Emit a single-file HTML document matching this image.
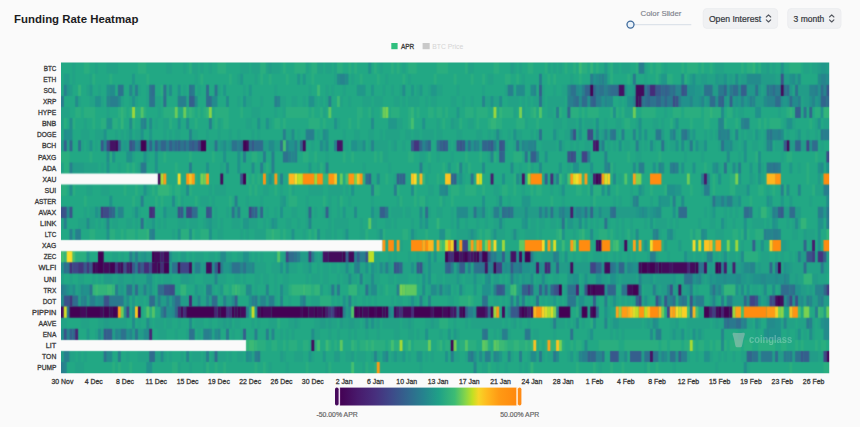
<!DOCTYPE html><html><head><meta charset="utf-8"><title>Funding Rate Heatmap</title><style>html,body{margin:0;padding:0;background:#fafafa;}body{width:860px;height:427px;overflow:hidden;font-family:"Liberation Sans",sans-serif;}svg{display:block}text{font-family:"Liberation Sans",sans-serif;}</style></head><body><svg width="860" height="427" viewBox="0 0 860 427"><defs><linearGradient id="cb" x1="0" x2="1" y1="0" y2="0"><stop offset="0" stop-color="#440154"/><stop offset="0.1" stop-color="#481a6c"/><stop offset="0.2" stop-color="#472f7d"/><stop offset="0.29" stop-color="#3e4989"/><stop offset="0.39" stop-color="#31688e"/><stop offset="0.47" stop-color="#26828e"/><stop offset="0.56" stop-color="#1fa187"/><stop offset="0.65" stop-color="#3dbc74"/><stop offset="0.71" stop-color="#86d549"/><stop offset="0.75" stop-color="#c2df23"/><stop offset="0.785" stop-color="#f7d527"/><stop offset="0.835" stop-color="#ffb81e"/><stop offset="0.9" stop-color="#ff9a14"/><stop offset="1" stop-color="#ff880e"/></linearGradient><filter id="bl" x="-1%" y="-2%" width="102%" height="104%" color-interpolation-filters="sRGB"><feConvolveMatrix order="3" kernelMatrix="0.0256 0.1088 0.0256 0.1088 0.4624 0.1088 0.0256 0.1088 0.0256" divisor="1" edgeMode="duplicate" preserveAlpha="true"/></filter><clipPath id="hc"><rect x="61.0" y="62.6" width="768.2" height="310.6"/></clipPath></defs><rect width="860" height="427" fill="#fafafa"/><text x="14.1" y="22.8" font-size="10.9" fill="#1c1c1e" font-weight="700" textLength="124.3" lengthAdjust="spacingAndGlyphs">Funding Rate Heatmap</text><text x="640.6" y="15.9" font-size="7.7" fill="#7d828b" stroke="#7d828b" stroke-width="0.15" textLength="40.8" lengthAdjust="spacingAndGlyphs">Color Slider</text><rect x="633" y="24" width="58.4" height="1.3" rx="0.6" fill="#dde3ea"/><circle cx="630.5" cy="24.6" r="3.5" fill="#eaf2f9" stroke="#3f6a9c" stroke-width="1.3"/><rect x="703.3" y="8.6" width="74.3" height="19.8" rx="3.5" fill="#f0f1f3" stroke="#eaebee" stroke-width="0.8"/><text x="708.9" y="21.9" font-size="8.3" fill="#34373d" stroke="#34373d" stroke-width="0.2" textLength="52.3" lengthAdjust="spacingAndGlyphs">Open Interest</text><path d="M766.3 17l2.2-2.1 2.2 2.1M766.3 19.9l2.2 2.1 2.2-2.1" fill="none" stroke="#50545c" stroke-width="1.1" stroke-linecap="round" stroke-linejoin="round"/><rect x="787.7" y="8.6" width="53.3" height="19.8" rx="3.5" fill="#f0f1f3" stroke="#eaebee" stroke-width="0.8"/><text x="793.6" y="21.9" font-size="8.3" fill="#34373d" stroke="#34373d" stroke-width="0.2" textLength="30.7" lengthAdjust="spacingAndGlyphs">3 month</text><path d="M829.5 17l2.2-2.1 2.2 2.1M829.5 19.9l2.2 2.1 2.2-2.1" fill="none" stroke="#50545c" stroke-width="1.1" stroke-linecap="round" stroke-linejoin="round"/><rect x="391.3" y="43" width="6.3" height="6.2" fill="#30bf7e"/><text x="401.0" y="48.5" font-size="7.3" fill="#3a3a3a" stroke="#3a3a3a" stroke-width="0.3" textLength="13.3" lengthAdjust="spacingAndGlyphs">APR</text><rect x="422.6" y="43" width="7.1" height="6.2" fill="#c9c9c9"/><text x="432.3" y="48.5" font-size="7.3" fill="#d4d4d4" textLength="30.9" lengthAdjust="spacingAndGlyphs">BTC Price</text><g clip-path="url(#hc)"><g filter="url(#bl)"><rect x="57.0" y="58.6" width="776.2" height="318.6" fill="#22a884"/><path fill="#22a884" d="M57.0 58.6h15.4v15.1h-15.4zM75.2 58.6h8.6v15.1h-8.6zM89.5 58.6h5.7v15.1h-5.7zM98.0 58.6h8.6v15.1h-8.6zM117.9 58.6h20.0v15.1h-20.0zM146.4 58.6h20.0v15.1h-20.0zM172.0 58.6h11.4v15.1h-11.4zM186.2 58.6h2.9v15.1h-2.9zM197.6 58.6h2.9v15.1h-2.9zM203.3 58.6h5.7v15.1h-5.7zM211.8 58.6h5.7v15.1h-5.7zM226.0 58.6h14.3v15.1h-14.3zM248.8 58.6h2.9v15.1h-2.9zM280.1 58.6h2.9v15.1h-2.9zM285.8 58.6h8.6v15.1h-8.6zM308.5 58.6h2.9v15.1h-2.9zM322.8 58.6h2.9v15.1h-2.9zM331.3 58.6h2.9v15.1h-2.9zM342.7 58.6h5.7v15.1h-5.7zM351.2 58.6h2.9v15.1h-2.9zM356.9 58.6h11.4v15.1h-11.4zM371.1 58.6h2.9v15.1h-2.9zM376.8 58.6h2.9v15.1h-2.9zM382.5 58.6h8.6v15.1h-8.6zM393.9 58.6h2.9v15.1h-2.9zM399.6 58.6h2.9v15.1h-2.9zM405.3 58.6h2.9v15.1h-2.9zM416.6 58.6h20.0v15.1h-20.0zM447.9 58.6h17.1v15.1h-17.1zM473.6 58.6h20.0v15.1h-20.0zM499.2 58.6h11.4v15.1h-11.4zM516.2 58.6h2.9v15.1h-2.9zM521.9 58.6h5.7v15.1h-5.7zM533.3 58.6h11.4v15.1h-11.4zM550.4 58.6h2.9v15.1h-2.9zM556.1 58.6h2.9v15.1h-2.9zM561.8 58.6h2.9v15.1h-2.9zM567.4 58.6h5.7v15.1h-5.7zM576.0 58.6h2.9v15.1h-2.9zM587.4 58.6h2.9v15.1h-2.9zM593.0 58.6h2.9v15.1h-2.9zM598.7 58.6h5.7v15.1h-5.7zM607.3 58.6h2.9v15.1h-2.9zM618.7 58.6h2.9v15.1h-2.9zM630.0 58.6h5.7v15.1h-5.7zM647.1 58.6h2.9v15.1h-2.9zM652.8 58.6h2.9v15.1h-2.9zM661.3 58.6h2.9v15.1h-2.9zM667.0 58.6h14.3v15.1h-14.3zM684.1 58.6h2.9v15.1h-2.9zM698.3 58.6h2.9v15.1h-2.9zM704.0 58.6h5.7v15.1h-5.7zM712.5 58.6h2.9v15.1h-2.9zM723.9 58.6h17.1v15.1h-17.1zM743.8 58.6h2.9v15.1h-2.9zM755.2 58.6h2.9v15.1h-2.9zM769.5 58.6h2.9v15.1h-2.9zM775.1 58.6h5.7v15.1h-5.7zM783.7 58.6h5.7v15.1h-5.7zM800.7 58.6h2.9v15.1h-2.9zM809.3 58.6h2.9v15.1h-2.9zM57.0 73.7h6.9v11.1h-6.9zM69.5 73.7h2.9v11.1h-2.9zM75.2 73.7h14.3v11.1h-14.3zM95.1 73.7h14.3v11.1h-14.3zM112.2 73.7h20.0v11.1h-20.0zM135.0 73.7h11.4v11.1h-11.4zM149.2 73.7h45.6v11.1h-45.6zM197.6 73.7h2.9v11.1h-2.9zM203.3 73.7h25.7v11.1h-25.7zM231.7 73.7h5.7v11.1h-5.7zM243.1 73.7h11.4v11.1h-11.4zM257.3 73.7h2.9v11.1h-2.9zM263.0 73.7h5.7v11.1h-5.7zM271.5 73.7h14.3v11.1h-14.3zM288.6 73.7h8.6v11.1h-8.6zM300.0 73.7h2.9v11.1h-2.9zM305.7 73.7h5.7v11.1h-5.7zM314.2 73.7h20.0v11.1h-20.0zM348.4 73.7h2.9v11.1h-2.9zM354.1 73.7h5.7v11.1h-5.7zM362.6 73.7h14.3v11.1h-14.3zM379.7 73.7h5.7v11.1h-5.7zM388.2 73.7h14.3v11.1h-14.3zM405.3 73.7h2.9v11.1h-2.9zM411.0 73.7h22.8v11.1h-22.8zM436.6 73.7h17.1v11.1h-17.1zM456.5 73.7h14.3v11.1h-14.3zM473.6 73.7h8.6v11.1h-8.6zM484.9 73.7h2.9v11.1h-2.9zM493.5 73.7h11.4v11.1h-11.4zM510.5 73.7h5.7v11.1h-5.7zM519.1 73.7h2.9v11.1h-2.9zM524.8 73.7h14.3v11.1h-14.3zM541.8 73.7h5.7v11.1h-5.7zM550.4 73.7h2.9v11.1h-2.9zM556.1 73.7h14.3v11.1h-14.3zM573.1 73.7h5.7v11.1h-5.7zM581.7 73.7h8.6v11.1h-8.6zM613.0 73.7h14.3v11.1h-14.3zM630.0 73.7h2.9v11.1h-2.9zM635.7 73.7h8.6v11.1h-8.6zM647.1 73.7h8.6v11.1h-8.6zM672.7 73.7h8.6v11.1h-8.6zM686.9 73.7h2.9v11.1h-2.9zM800.7 73.7h17.1v11.1h-17.1zM57.0 84.8h6.9v11.1h-6.9zM72.4 84.8h5.7v11.1h-5.7zM80.9 84.8h5.7v11.1h-5.7zM92.3 84.8h5.7v11.1h-5.7zM100.8 84.8h5.7v11.1h-5.7zM115.1 84.8h2.9v11.1h-2.9zM123.6 84.8h5.7v11.1h-5.7zM140.7 84.8h5.7v11.1h-5.7zM154.9 84.8h5.7v11.1h-5.7zM172.0 84.8h5.7v11.1h-5.7zM180.5 84.8h2.9v11.1h-2.9zM186.2 84.8h2.9v11.1h-2.9zM194.7 84.8h2.9v11.1h-2.9zM200.4 84.8h5.7v11.1h-5.7zM208.9 84.8h5.7v11.1h-5.7zM220.3 84.8h2.9v11.1h-2.9zM226.0 84.8h17.1v11.1h-17.1zM245.9 84.8h2.9v11.1h-2.9zM251.6 84.8h22.8v11.1h-22.8zM277.2 84.8h31.3v11.1h-31.3zM311.4 84.8h5.7v11.1h-5.7zM319.9 84.8h5.7v11.1h-5.7zM328.4 84.8h2.9v11.1h-2.9zM334.1 84.8h8.6v11.1h-8.6zM345.5 84.8h11.4v11.1h-11.4zM365.4 84.8h5.7v11.1h-5.7zM374.0 84.8h8.6v11.1h-8.6zM385.4 84.8h5.7v11.1h-5.7zM393.9 84.8h5.7v11.1h-5.7zM405.3 84.8h5.7v11.1h-5.7zM413.8 84.8h2.9v11.1h-2.9zM422.3 84.8h5.7v11.1h-5.7zM442.3 84.8h14.3v11.1h-14.3zM459.3 84.8h22.8v11.1h-22.8zM484.9 84.8h20.0v11.1h-20.0zM513.4 84.8h2.9v11.1h-2.9zM524.8 84.8h5.7v11.1h-5.7zM536.1 84.8h2.9v11.1h-2.9zM544.7 84.8h8.6v11.1h-8.6zM556.1 84.8h5.7v11.1h-5.7zM63.8 95.9h11.4v11.1h-11.4zM80.9 95.9h8.6v11.1h-8.6zM103.7 95.9h2.9v11.1h-2.9zM123.6 95.9h5.7v11.1h-5.7zM137.8 95.9h8.6v11.1h-8.6zM160.6 95.9h2.9v11.1h-2.9zM166.3 95.9h11.4v11.1h-11.4zM197.6 95.9h8.6v11.1h-8.6zM217.5 95.9h8.6v11.1h-8.6zM228.9 95.9h8.6v11.1h-8.6zM240.2 95.9h2.9v11.1h-2.9zM251.6 95.9h8.6v11.1h-8.6zM263.0 95.9h11.4v11.1h-11.4zM285.8 95.9h5.7v11.1h-5.7zM297.2 95.9h5.7v11.1h-5.7zM305.7 95.9h2.9v11.1h-2.9zM317.1 95.9h2.9v11.1h-2.9zM322.8 95.9h2.9v11.1h-2.9zM331.3 95.9h5.7v11.1h-5.7zM342.7 95.9h5.7v11.1h-5.7zM351.2 95.9h11.4v11.1h-11.4zM371.1 95.9h2.9v11.1h-2.9zM382.5 95.9h11.4v11.1h-11.4zM399.6 95.9h2.9v11.1h-2.9zM405.3 95.9h2.9v11.1h-2.9zM419.5 95.9h5.7v11.1h-5.7zM428.0 95.9h2.9v11.1h-2.9zM436.6 95.9h14.3v11.1h-14.3zM456.5 95.9h5.7v11.1h-5.7zM465.0 95.9h5.7v11.1h-5.7zM473.6 95.9h8.6v11.1h-8.6zM502.0 95.9h5.7v11.1h-5.7zM519.1 95.9h2.9v11.1h-2.9zM524.8 95.9h2.9v11.1h-2.9zM530.5 95.9h2.9v11.1h-2.9zM544.7 95.9h2.9v11.1h-2.9zM564.6 95.9h2.9v11.1h-2.9zM613.0 95.9h5.7v11.1h-5.7zM621.5 95.9h2.9v11.1h-2.9zM69.5 107.0h5.7v11.1h-5.7zM80.9 107.0h2.9v11.1h-2.9zM95.1 107.0h11.4v11.1h-11.4zM109.4 107.0h8.6v11.1h-8.6zM126.4 107.0h2.9v11.1h-2.9zM146.4 107.0h11.4v11.1h-11.4zM160.6 107.0h2.9v11.1h-2.9zM177.7 107.0h5.7v11.1h-5.7zM194.7 107.0h2.9v11.1h-2.9zM200.4 107.0h2.9v11.1h-2.9zM211.8 107.0h2.9v11.1h-2.9zM228.9 107.0h11.4v11.1h-11.4zM243.1 107.0h8.6v11.1h-8.6zM260.2 107.0h14.3v11.1h-14.3zM277.2 107.0h5.7v11.1h-5.7zM308.5 107.0h2.9v11.1h-2.9zM314.2 107.0h5.7v11.1h-5.7zM325.6 107.0h2.9v11.1h-2.9zM331.3 107.0h25.7v11.1h-25.7zM362.6 107.0h5.7v11.1h-5.7zM374.0 107.0h5.7v11.1h-5.7zM388.2 107.0h2.9v11.1h-2.9zM399.6 107.0h8.6v11.1h-8.6zM413.8 107.0h2.9v11.1h-2.9zM419.5 107.0h8.6v11.1h-8.6zM433.7 107.0h2.9v11.1h-2.9zM442.3 107.0h2.9v11.1h-2.9zM447.9 107.0h8.6v11.1h-8.6zM459.3 107.0h5.7v11.1h-5.7zM473.6 107.0h2.9v11.1h-2.9zM487.8 107.0h5.7v11.1h-5.7zM496.3 107.0h2.9v11.1h-2.9zM516.2 107.0h2.9v11.1h-2.9zM524.8 107.0h5.7v11.1h-5.7zM536.1 107.0h2.9v11.1h-2.9zM541.8 107.0h5.7v11.1h-5.7zM553.2 107.0h2.9v11.1h-2.9zM561.8 107.0h5.7v11.1h-5.7zM578.8 107.0h2.9v11.1h-2.9zM584.5 107.0h2.9v11.1h-2.9zM598.7 107.0h11.4v11.1h-11.4zM618.7 107.0h2.9v11.1h-2.9zM635.7 107.0h5.7v11.1h-5.7zM655.6 107.0h8.6v11.1h-8.6zM667.0 107.0h5.7v11.1h-5.7zM681.3 107.0h2.9v11.1h-2.9zM701.2 107.0h2.9v11.1h-2.9zM723.9 107.0h2.9v11.1h-2.9zM735.3 107.0h2.9v11.1h-2.9zM743.8 107.0h11.4v11.1h-11.4zM760.9 107.0h17.1v11.1h-17.1zM780.8 107.0h5.7v11.1h-5.7zM800.7 107.0h2.9v11.1h-2.9zM806.4 107.0h2.9v11.1h-2.9zM812.1 107.0h2.9v11.1h-2.9zM66.7 118.1h2.9v11.1h-2.9zM75.2 118.1h8.6v11.1h-8.6zM86.6 118.1h5.7v11.1h-5.7zM95.1 118.1h5.7v11.1h-5.7zM117.9 118.1h2.9v11.1h-2.9zM123.6 118.1h5.7v11.1h-5.7zM135.0 118.1h5.7v11.1h-5.7zM146.4 118.1h2.9v11.1h-2.9zM152.0 118.1h2.9v11.1h-2.9zM157.7 118.1h5.7v11.1h-5.7zM172.0 118.1h5.7v11.1h-5.7zM180.5 118.1h5.7v11.1h-5.7zM189.0 118.1h5.7v11.1h-5.7zM197.6 118.1h11.4v11.1h-11.4zM211.8 118.1h2.9v11.1h-2.9zM220.3 118.1h2.9v11.1h-2.9zM228.9 118.1h17.1v11.1h-17.1zM251.6 118.1h5.7v11.1h-5.7zM260.2 118.1h5.7v11.1h-5.7zM271.5 118.1h2.9v11.1h-2.9zM280.1 118.1h2.9v11.1h-2.9zM285.8 118.1h22.8v11.1h-22.8zM319.9 118.1h2.9v11.1h-2.9zM325.6 118.1h8.6v11.1h-8.6zM339.8 118.1h8.6v11.1h-8.6zM351.2 118.1h5.7v11.1h-5.7zM359.7 118.1h11.4v11.1h-11.4zM374.0 118.1h14.3v11.1h-14.3zM402.4 118.1h5.7v11.1h-5.7zM413.8 118.1h8.6v11.1h-8.6zM425.2 118.1h11.4v11.1h-11.4zM439.4 118.1h2.9v11.1h-2.9zM445.1 118.1h5.7v11.1h-5.7zM462.2 118.1h5.7v11.1h-5.7zM473.6 118.1h2.9v11.1h-2.9zM479.2 118.1h8.6v11.1h-8.6zM502.0 118.1h14.3v11.1h-14.3zM527.6 118.1h8.6v11.1h-8.6zM539.0 118.1h14.3v11.1h-14.3zM561.8 118.1h5.7v11.1h-5.7zM576.0 118.1h2.9v11.1h-2.9zM581.7 118.1h2.9v11.1h-2.9zM593.0 118.1h2.9v11.1h-2.9zM598.7 118.1h5.7v11.1h-5.7zM607.3 118.1h8.6v11.1h-8.6zM621.5 118.1h2.9v11.1h-2.9zM630.0 118.1h5.7v11.1h-5.7zM641.4 118.1h11.4v11.1h-11.4zM658.5 118.1h2.9v11.1h-2.9zM664.2 118.1h5.7v11.1h-5.7zM678.4 118.1h11.4v11.1h-11.4zM692.6 118.1h11.4v11.1h-11.4zM709.7 118.1h8.6v11.1h-8.6zM726.8 118.1h8.6v11.1h-8.6zM738.2 118.1h2.9v11.1h-2.9zM749.5 118.1h8.6v11.1h-8.6zM760.9 118.1h2.9v11.1h-2.9zM766.6 118.1h2.9v11.1h-2.9zM780.8 118.1h2.9v11.1h-2.9zM795.1 118.1h14.3v11.1h-14.3zM812.1 118.1h2.9v11.1h-2.9zM820.7 118.1h2.9v11.1h-2.9zM57.0 129.2h6.9v11.1h-6.9zM72.4 129.2h8.6v11.1h-8.6zM89.5 129.2h5.7v11.1h-5.7zM106.5 129.2h8.6v11.1h-8.6zM117.9 129.2h2.9v11.1h-2.9zM123.6 129.2h2.9v11.1h-2.9zM132.1 129.2h2.9v11.1h-2.9zM143.5 129.2h5.7v11.1h-5.7zM152.0 129.2h11.4v11.1h-11.4zM166.3 129.2h2.9v11.1h-2.9zM172.0 129.2h2.9v11.1h-2.9zM180.5 129.2h8.6v11.1h-8.6zM197.6 129.2h8.6v11.1h-8.6zM208.9 129.2h8.6v11.1h-8.6zM220.3 129.2h8.6v11.1h-8.6zM231.7 129.2h5.7v11.1h-5.7zM240.2 129.2h11.4v11.1h-11.4zM254.5 129.2h2.9v11.1h-2.9zM260.2 129.2h22.8v11.1h-22.8zM294.3 129.2h2.9v11.1h-2.9zM300.0 129.2h5.7v11.1h-5.7zM314.2 129.2h2.9v11.1h-2.9zM319.9 129.2h2.9v11.1h-2.9zM328.4 129.2h14.3v11.1h-14.3zM345.5 129.2h8.6v11.1h-8.6zM359.7 129.2h8.6v11.1h-8.6zM374.0 129.2h5.7v11.1h-5.7zM382.5 129.2h2.9v11.1h-2.9zM399.6 129.2h5.7v11.1h-5.7zM411.0 129.2h2.9v11.1h-2.9zM419.5 129.2h2.9v11.1h-2.9zM433.7 129.2h2.9v11.1h-2.9zM442.3 129.2h14.3v11.1h-14.3zM462.2 129.2h14.3v11.1h-14.3zM482.1 129.2h5.7v11.1h-5.7zM490.6 129.2h2.9v11.1h-2.9zM502.0 129.2h5.7v11.1h-5.7zM510.5 129.2h2.9v11.1h-2.9zM521.9 129.2h8.6v11.1h-8.6zM533.3 129.2h2.9v11.1h-2.9zM541.8 129.2h11.4v11.1h-11.4zM558.9 129.2h5.7v11.1h-5.7zM581.7 129.2h5.7v11.1h-5.7zM618.7 129.2h2.9v11.1h-2.9zM624.3 129.2h8.6v11.1h-8.6zM635.7 129.2h2.9v11.1h-2.9zM641.4 129.2h2.9v11.1h-2.9zM647.1 129.2h8.6v11.1h-8.6zM664.2 129.2h5.7v11.1h-5.7zM678.4 129.2h2.9v11.1h-2.9zM695.5 129.2h8.6v11.1h-8.6zM706.9 129.2h2.9v11.1h-2.9zM712.5 129.2h2.9v11.1h-2.9zM732.5 129.2h2.9v11.1h-2.9zM738.2 129.2h2.9v11.1h-2.9zM743.8 129.2h2.9v11.1h-2.9zM752.4 129.2h2.9v11.1h-2.9zM760.9 129.2h2.9v11.1h-2.9zM783.7 129.2h2.9v11.1h-2.9zM789.4 129.2h5.7v11.1h-5.7zM800.7 129.2h5.7v11.1h-5.7zM809.3 129.2h5.7v11.1h-5.7zM817.8 129.2h2.9v11.1h-2.9zM72.4 140.2h5.7v11.1h-5.7zM83.8 140.2h2.9v11.1h-2.9zM92.3 140.2h2.9v11.1h-2.9zM98.0 140.2h2.9v11.1h-2.9zM206.1 140.2h2.9v11.1h-2.9zM305.7 140.2h5.7v11.1h-5.7zM314.2 140.2h5.7v11.1h-5.7zM328.4 140.2h5.7v11.1h-5.7zM348.4 140.2h2.9v11.1h-2.9zM365.4 140.2h2.9v11.1h-2.9zM388.2 140.2h2.9v11.1h-2.9zM396.7 140.2h5.7v11.1h-5.7zM405.3 140.2h5.7v11.1h-5.7zM430.9 140.2h5.7v11.1h-5.7zM450.8 140.2h2.9v11.1h-2.9zM507.7 140.2h5.7v11.1h-5.7zM536.1 140.2h5.7v11.1h-5.7zM556.1 140.2h2.9v11.1h-2.9zM564.6 140.2h5.7v11.1h-5.7zM573.1 140.2h2.9v11.1h-2.9zM578.8 140.2h5.7v11.1h-5.7zM590.2 140.2h2.9v11.1h-2.9zM604.4 140.2h2.9v11.1h-2.9zM610.1 140.2h2.9v11.1h-2.9zM615.8 140.2h2.9v11.1h-2.9zM621.5 140.2h2.9v11.1h-2.9zM630.0 140.2h5.7v11.1h-5.7zM641.4 140.2h2.9v11.1h-2.9zM647.1 140.2h2.9v11.1h-2.9zM655.6 140.2h5.7v11.1h-5.7zM667.0 140.2h2.9v11.1h-2.9zM678.4 140.2h2.9v11.1h-2.9zM684.1 140.2h2.9v11.1h-2.9zM692.6 140.2h2.9v11.1h-2.9zM706.9 140.2h11.4v11.1h-11.4zM738.2 140.2h2.9v11.1h-2.9zM746.7 140.2h5.7v11.1h-5.7zM758.1 140.2h5.7v11.1h-5.7zM772.3 140.2h2.9v11.1h-2.9zM817.8 140.2h2.9v11.1h-2.9zM823.5 140.2h9.7v11.1h-9.7zM69.5 151.3h20.0v11.1h-20.0zM92.3 151.3h14.3v11.1h-14.3zM115.1 151.3h11.4v11.1h-11.4zM135.0 151.3h8.6v11.1h-8.6zM149.2 151.3h5.7v11.1h-5.7zM157.7 151.3h5.7v11.1h-5.7zM166.3 151.3h22.8v11.1h-22.8zM191.9 151.3h20.0v11.1h-20.0zM214.6 151.3h8.6v11.1h-8.6zM226.0 151.3h11.4v11.1h-11.4zM240.2 151.3h2.9v11.1h-2.9zM245.9 151.3h5.7v11.1h-5.7zM257.3 151.3h5.7v11.1h-5.7zM265.9 151.3h5.7v11.1h-5.7zM274.4 151.3h8.6v11.1h-8.6zM297.2 151.3h5.7v11.1h-5.7zM308.5 151.3h5.7v11.1h-5.7zM317.1 151.3h8.6v11.1h-8.6zM328.4 151.3h14.3v11.1h-14.3zM345.5 151.3h5.7v11.1h-5.7zM354.1 151.3h20.0v11.1h-20.0zM376.8 151.3h2.9v11.1h-2.9zM388.2 151.3h20.0v11.1h-20.0zM413.8 151.3h5.7v11.1h-5.7zM425.2 151.3h2.9v11.1h-2.9zM430.9 151.3h5.7v11.1h-5.7zM439.4 151.3h11.4v11.1h-11.4zM453.6 151.3h11.4v11.1h-11.4zM467.9 151.3h11.4v11.1h-11.4zM482.1 151.3h5.7v11.1h-5.7zM496.3 151.3h2.9v11.1h-2.9zM504.8 151.3h8.6v11.1h-8.6zM521.9 151.3h2.9v11.1h-2.9zM527.6 151.3h2.9v11.1h-2.9zM539.0 151.3h5.7v11.1h-5.7zM547.5 151.3h20.0v11.1h-20.0zM590.2 151.3h14.3v11.1h-14.3zM607.3 151.3h20.0v11.1h-20.0zM630.0 151.3h5.7v11.1h-5.7zM641.4 151.3h17.1v11.1h-17.1zM661.3 151.3h22.8v11.1h-22.8zM686.9 151.3h14.3v11.1h-14.3zM704.0 151.3h22.8v11.1h-22.8zM729.6 151.3h8.6v11.1h-8.6zM741.0 151.3h2.9v11.1h-2.9zM746.7 151.3h8.6v11.1h-8.6zM760.9 151.3h20.0v11.1h-20.0zM783.7 151.3h2.9v11.1h-2.9zM792.2 151.3h22.8v11.1h-22.8zM817.8 151.3h8.6v11.1h-8.6zM98.0 162.4h2.9v11.1h-2.9zM103.7 162.4h2.9v11.1h-2.9zM109.4 162.4h8.6v11.1h-8.6zM120.7 162.4h5.7v11.1h-5.7zM129.3 162.4h2.9v11.1h-2.9zM135.0 162.4h2.9v11.1h-2.9zM146.4 162.4h8.6v11.1h-8.6zM157.7 162.4h17.1v11.1h-17.1zM177.7 162.4h11.4v11.1h-11.4zM191.9 162.4h14.3v11.1h-14.3zM208.9 162.4h11.4v11.1h-11.4zM223.2 162.4h2.9v11.1h-2.9zM228.9 162.4h8.6v11.1h-8.6zM240.2 162.4h11.4v11.1h-11.4zM254.5 162.4h5.7v11.1h-5.7zM263.0 162.4h2.9v11.1h-2.9zM268.7 162.4h2.9v11.1h-2.9zM274.4 162.4h34.2v11.1h-34.2zM311.4 162.4h5.7v11.1h-5.7zM322.8 162.4h2.9v11.1h-2.9zM328.4 162.4h34.2v11.1h-34.2zM365.4 162.4h22.8v11.1h-22.8zM391.0 162.4h28.5v11.1h-28.5zM422.3 162.4h5.7v11.1h-5.7zM430.9 162.4h11.4v11.1h-11.4zM445.1 162.4h2.9v11.1h-2.9zM450.8 162.4h5.7v11.1h-5.7zM462.2 162.4h2.9v11.1h-2.9zM470.7 162.4h11.4v11.1h-11.4zM484.9 162.4h25.7v11.1h-25.7zM513.4 162.4h5.7v11.1h-5.7zM521.9 162.4h5.7v11.1h-5.7zM533.3 162.4h5.7v11.1h-5.7zM541.8 162.4h17.1v11.1h-17.1zM561.8 162.4h5.7v11.1h-5.7zM570.3 162.4h2.9v11.1h-2.9zM578.8 162.4h11.4v11.1h-11.4zM593.0 162.4h11.4v11.1h-11.4zM615.8 162.4h17.1v11.1h-17.1zM635.7 162.4h2.9v11.1h-2.9zM644.3 162.4h8.6v11.1h-8.6zM655.6 162.4h2.9v11.1h-2.9zM664.2 162.4h5.7v11.1h-5.7zM678.4 162.4h2.9v11.1h-2.9zM684.1 162.4h8.6v11.1h-8.6zM695.5 162.4h8.6v11.1h-8.6zM706.9 162.4h5.7v11.1h-5.7zM721.1 162.4h2.9v11.1h-2.9zM726.8 162.4h5.7v11.1h-5.7zM741.0 162.4h8.6v11.1h-8.6zM752.4 162.4h5.7v11.1h-5.7zM763.8 162.4h2.9v11.1h-2.9zM780.8 162.4h8.6v11.1h-8.6zM792.2 162.4h5.7v11.1h-5.7zM800.7 162.4h5.7v11.1h-5.7zM809.3 162.4h8.6v11.1h-8.6zM823.5 162.4h2.9v11.1h-2.9zM166.3 173.5h11.4v11.1h-11.4zM180.5 173.5h5.7v11.1h-5.7zM197.6 173.5h2.9v11.1h-2.9zM208.9 173.5h11.4v11.1h-11.4zM223.2 173.5h17.1v11.1h-17.1zM248.8 173.5h2.9v11.1h-2.9zM254.5 173.5h2.9v11.1h-2.9zM260.2 173.5h2.9v11.1h-2.9zM265.9 173.5h2.9v11.1h-2.9zM277.2 173.5h2.9v11.1h-2.9zM282.9 173.5h5.7v11.1h-5.7zM342.7 173.5h2.9v11.1h-2.9zM371.1 173.5h5.7v11.1h-5.7zM379.7 173.5h5.7v11.1h-5.7zM388.2 173.5h5.7v11.1h-5.7zM405.3 173.5h5.7v11.1h-5.7zM428.0 173.5h8.6v11.1h-8.6zM439.4 173.5h5.7v11.1h-5.7zM465.0 173.5h5.7v11.1h-5.7zM473.6 173.5h2.9v11.1h-2.9zM482.1 173.5h8.6v11.1h-8.6zM493.5 173.5h8.6v11.1h-8.6zM504.8 173.5h8.6v11.1h-8.6zM524.8 173.5h2.9v11.1h-2.9zM541.8 173.5h2.9v11.1h-2.9zM547.5 173.5h2.9v11.1h-2.9zM561.8 173.5h2.9v11.1h-2.9zM587.4 173.5h2.9v11.1h-2.9zM610.1 173.5h2.9v11.1h-2.9zM615.8 173.5h2.9v11.1h-2.9zM621.5 173.5h2.9v11.1h-2.9zM627.2 173.5h2.9v11.1h-2.9zM641.4 173.5h8.6v11.1h-8.6zM661.3 173.5h25.7v11.1h-25.7zM689.8 173.5h11.4v11.1h-11.4zM709.7 173.5h2.9v11.1h-2.9zM715.4 173.5h2.9v11.1h-2.9zM721.1 173.5h8.6v11.1h-8.6zM741.0 173.5h8.6v11.1h-8.6zM755.2 173.5h2.9v11.1h-2.9zM763.8 173.5h2.9v11.1h-2.9zM780.8 173.5h25.7v11.1h-25.7zM809.3 173.5h8.6v11.1h-8.6zM820.7 173.5h2.9v11.1h-2.9zM66.7 184.6h2.9v11.1h-2.9zM75.2 184.6h11.4v11.1h-11.4zM92.3 184.6h8.6v11.1h-8.6zM109.4 184.6h14.3v11.1h-14.3zM126.4 184.6h8.6v11.1h-8.6zM137.8 184.6h5.7v11.1h-5.7zM149.2 184.6h2.9v11.1h-2.9zM154.9 184.6h2.9v11.1h-2.9zM172.0 184.6h2.9v11.1h-2.9zM180.5 184.6h5.7v11.1h-5.7zM191.9 184.6h17.1v11.1h-17.1zM211.8 184.6h2.9v11.1h-2.9zM226.0 184.6h22.8v11.1h-22.8zM251.6 184.6h2.9v11.1h-2.9zM257.3 184.6h5.7v11.1h-5.7zM268.7 184.6h5.7v11.1h-5.7zM277.2 184.6h2.9v11.1h-2.9zM282.9 184.6h5.7v11.1h-5.7zM294.3 184.6h14.3v11.1h-14.3zM322.8 184.6h5.7v11.1h-5.7zM342.7 184.6h2.9v11.1h-2.9zM348.4 184.6h2.9v11.1h-2.9zM354.1 184.6h17.1v11.1h-17.1zM379.7 184.6h14.3v11.1h-14.3zM399.6 184.6h11.4v11.1h-11.4zM416.6 184.6h11.4v11.1h-11.4zM433.7 184.6h5.7v11.1h-5.7zM447.9 184.6h2.9v11.1h-2.9zM459.3 184.6h5.7v11.1h-5.7zM476.4 184.6h5.7v11.1h-5.7zM484.9 184.6h8.6v11.1h-8.6zM499.2 184.6h2.9v11.1h-2.9zM507.7 184.6h5.7v11.1h-5.7zM516.2 184.6h5.7v11.1h-5.7zM524.8 184.6h5.7v11.1h-5.7zM533.3 184.6h2.9v11.1h-2.9zM541.8 184.6h8.6v11.1h-8.6zM553.2 184.6h5.7v11.1h-5.7zM564.6 184.6h11.4v11.1h-11.4zM581.7 184.6h5.7v11.1h-5.7zM604.4 184.6h2.9v11.1h-2.9zM610.1 184.6h5.7v11.1h-5.7zM618.7 184.6h11.4v11.1h-11.4zM632.9 184.6h5.7v11.1h-5.7zM644.3 184.6h5.7v11.1h-5.7zM652.8 184.6h11.4v11.1h-11.4zM681.3 184.6h8.6v11.1h-8.6zM692.6 184.6h8.6v11.1h-8.6zM709.7 184.6h2.9v11.1h-2.9zM715.4 184.6h14.3v11.1h-14.3zM749.5 184.6h8.6v11.1h-8.6zM763.8 184.6h2.9v11.1h-2.9zM769.5 184.6h2.9v11.1h-2.9zM775.1 184.6h5.7v11.1h-5.7zM789.4 184.6h8.6v11.1h-8.6zM800.7 184.6h11.4v11.1h-11.4zM57.0 195.7h26.8v11.1h-26.8zM86.6 195.7h22.8v11.1h-22.8zM112.2 195.7h20.0v11.1h-20.0zM135.0 195.7h5.7v11.1h-5.7zM143.5 195.7h11.4v11.1h-11.4zM157.7 195.7h2.9v11.1h-2.9zM163.4 195.7h8.6v11.1h-8.6zM174.8 195.7h2.9v11.1h-2.9zM183.3 195.7h11.4v11.1h-11.4zM197.6 195.7h2.9v11.1h-2.9zM208.9 195.7h2.9v11.1h-2.9zM214.6 195.7h14.3v11.1h-14.3zM231.7 195.7h2.9v11.1h-2.9zM237.4 195.7h8.6v11.1h-8.6zM248.8 195.7h11.4v11.1h-11.4zM263.0 195.7h17.1v11.1h-17.1zM285.8 195.7h2.9v11.1h-2.9zM297.2 195.7h8.6v11.1h-8.6zM308.5 195.7h14.3v11.1h-14.3zM325.6 195.7h2.9v11.1h-2.9zM331.3 195.7h5.7v11.1h-5.7zM342.7 195.7h5.7v11.1h-5.7zM351.2 195.7h20.0v11.1h-20.0zM374.0 195.7h22.8v11.1h-22.8zM402.4 195.7h11.4v11.1h-11.4zM416.6 195.7h2.9v11.1h-2.9zM428.0 195.7h11.4v11.1h-11.4zM445.1 195.7h5.7v11.1h-5.7zM453.6 195.7h28.5v11.1h-28.5zM484.9 195.7h11.4v11.1h-11.4zM502.0 195.7h5.7v11.1h-5.7zM510.5 195.7h11.4v11.1h-11.4zM530.5 195.7h20.0v11.1h-20.0zM553.2 195.7h8.6v11.1h-8.6zM564.6 195.7h25.7v11.1h-25.7zM595.9 195.7h17.1v11.1h-17.1zM615.8 195.7h2.9v11.1h-2.9zM621.5 195.7h8.6v11.1h-8.6zM638.6 195.7h11.4v11.1h-11.4zM652.8 195.7h5.7v11.1h-5.7zM669.9 195.7h2.9v11.1h-2.9zM675.6 195.7h5.7v11.1h-5.7zM684.1 195.7h25.7v11.1h-25.7zM741.0 195.7h8.6v11.1h-8.6zM752.4 195.7h14.3v11.1h-14.3zM772.3 195.7h8.6v11.1h-8.6zM783.7 195.7h5.7v11.1h-5.7zM792.2 195.7h17.1v11.1h-17.1zM812.1 195.7h14.3v11.1h-14.3zM72.4 206.8h11.4v11.1h-11.4zM86.6 206.8h2.9v11.1h-2.9zM123.6 206.8h8.6v11.1h-8.6zM140.7 206.8h8.6v11.1h-8.6zM154.9 206.8h8.6v11.1h-8.6zM197.6 206.8h8.6v11.1h-8.6zM211.8 206.8h2.9v11.1h-2.9zM217.5 206.8h8.6v11.1h-8.6zM228.9 206.8h2.9v11.1h-2.9zM240.2 206.8h8.6v11.1h-8.6zM263.0 206.8h2.9v11.1h-2.9zM268.7 206.8h5.7v11.1h-5.7zM277.2 206.8h2.9v11.1h-2.9zM282.9 206.8h8.6v11.1h-8.6zM297.2 206.8h8.6v11.1h-8.6zM311.4 206.8h2.9v11.1h-2.9zM317.1 206.8h5.7v11.1h-5.7zM331.3 206.8h5.7v11.1h-5.7zM339.8 206.8h2.9v11.1h-2.9zM345.5 206.8h8.6v11.1h-8.6zM356.9 206.8h14.3v11.1h-14.3zM388.2 206.8h2.9v11.1h-2.9zM402.4 206.8h2.9v11.1h-2.9zM411.0 206.8h8.6v11.1h-8.6zM422.3 206.8h2.9v11.1h-2.9zM430.9 206.8h5.7v11.1h-5.7zM442.3 206.8h8.6v11.1h-8.6zM453.6 206.8h2.9v11.1h-2.9zM487.8 206.8h2.9v11.1h-2.9zM661.3 206.8h11.4v11.1h-11.4zM675.6 206.8h2.9v11.1h-2.9zM686.9 206.8h17.1v11.1h-17.1zM706.9 206.8h2.9v11.1h-2.9zM715.4 206.8h8.6v11.1h-8.6zM726.8 206.8h2.9v11.1h-2.9zM732.5 206.8h2.9v11.1h-2.9zM738.2 206.8h5.7v11.1h-5.7zM752.4 206.8h5.7v11.1h-5.7zM766.6 206.8h2.9v11.1h-2.9zM800.7 206.8h17.1v11.1h-17.1zM66.7 217.9h11.4v11.1h-11.4zM95.1 217.9h2.9v11.1h-2.9zM100.8 217.9h2.9v11.1h-2.9zM109.4 217.9h2.9v11.1h-2.9zM117.9 217.9h8.6v11.1h-8.6zM132.1 217.9h2.9v11.1h-2.9zM137.8 217.9h2.9v11.1h-2.9zM143.5 217.9h2.9v11.1h-2.9zM154.9 217.9h2.9v11.1h-2.9zM160.6 217.9h2.9v11.1h-2.9zM166.3 217.9h11.4v11.1h-11.4zM186.2 217.9h2.9v11.1h-2.9zM197.6 217.9h5.7v11.1h-5.7zM217.5 217.9h2.9v11.1h-2.9zM223.2 217.9h8.6v11.1h-8.6zM240.2 217.9h2.9v11.1h-2.9zM257.3 217.9h5.7v11.1h-5.7zM265.9 217.9h2.9v11.1h-2.9zM277.2 217.9h8.6v11.1h-8.6zM291.5 217.9h5.7v11.1h-5.7zM300.0 217.9h5.7v11.1h-5.7zM311.4 217.9h17.1v11.1h-17.1zM331.3 217.9h2.9v11.1h-2.9zM348.4 217.9h11.4v11.1h-11.4zM362.6 217.9h5.7v11.1h-5.7zM376.8 217.9h8.6v11.1h-8.6zM391.0 217.9h2.9v11.1h-2.9zM396.7 217.9h14.3v11.1h-14.3zM413.8 217.9h5.7v11.1h-5.7zM428.0 217.9h8.6v11.1h-8.6zM439.4 217.9h11.4v11.1h-11.4zM453.6 217.9h2.9v11.1h-2.9zM459.3 217.9h5.7v11.1h-5.7zM467.9 217.9h8.6v11.1h-8.6zM479.2 217.9h5.7v11.1h-5.7zM487.8 217.9h5.7v11.1h-5.7zM504.8 217.9h17.1v11.1h-17.1zM527.6 217.9h2.9v11.1h-2.9zM536.1 217.9h2.9v11.1h-2.9zM544.7 217.9h5.7v11.1h-5.7zM556.1 217.9h2.9v11.1h-2.9zM564.6 217.9h2.9v11.1h-2.9zM581.7 217.9h2.9v11.1h-2.9zM587.4 217.9h2.9v11.1h-2.9zM593.0 217.9h2.9v11.1h-2.9zM598.7 217.9h5.7v11.1h-5.7zM610.1 217.9h5.7v11.1h-5.7zM618.7 217.9h2.9v11.1h-2.9zM624.3 217.9h5.7v11.1h-5.7zM632.9 217.9h11.4v11.1h-11.4zM647.1 217.9h2.9v11.1h-2.9zM652.8 217.9h2.9v11.1h-2.9zM667.0 217.9h2.9v11.1h-2.9zM672.7 217.9h2.9v11.1h-2.9zM678.4 217.9h20.0v11.1h-20.0zM701.2 217.9h8.6v11.1h-8.6zM715.4 217.9h5.7v11.1h-5.7zM726.8 217.9h5.7v11.1h-5.7zM735.3 217.9h8.6v11.1h-8.6zM746.7 217.9h5.7v11.1h-5.7zM763.8 217.9h2.9v11.1h-2.9zM769.5 217.9h2.9v11.1h-2.9zM778.0 217.9h8.6v11.1h-8.6zM789.4 217.9h2.9v11.1h-2.9zM806.4 217.9h11.4v11.1h-11.4zM823.5 217.9h2.9v11.1h-2.9zM57.0 229.0h12.6v11.1h-12.6zM80.9 229.0h8.6v11.1h-8.6zM95.1 229.0h11.4v11.1h-11.4zM115.1 229.0h5.7v11.1h-5.7zM123.6 229.0h2.9v11.1h-2.9zM135.0 229.0h2.9v11.1h-2.9zM154.9 229.0h17.1v11.1h-17.1zM174.8 229.0h2.9v11.1h-2.9zM194.7 229.0h5.7v11.1h-5.7zM211.8 229.0h5.7v11.1h-5.7zM223.2 229.0h17.1v11.1h-17.1zM243.1 229.0h2.9v11.1h-2.9zM248.8 229.0h5.7v11.1h-5.7zM280.1 229.0h2.9v11.1h-2.9zM285.8 229.0h5.7v11.1h-5.7zM294.3 229.0h8.6v11.1h-8.6zM305.7 229.0h2.9v11.1h-2.9zM311.4 229.0h2.9v11.1h-2.9zM319.9 229.0h5.7v11.1h-5.7zM331.3 229.0h2.9v11.1h-2.9zM337.0 229.0h5.7v11.1h-5.7zM348.4 229.0h11.4v11.1h-11.4zM368.3 229.0h8.6v11.1h-8.6zM385.4 229.0h17.1v11.1h-17.1zM408.1 229.0h2.9v11.1h-2.9zM416.6 229.0h8.6v11.1h-8.6zM428.0 229.0h11.4v11.1h-11.4zM450.8 229.0h5.7v11.1h-5.7zM476.4 229.0h2.9v11.1h-2.9zM482.1 229.0h2.9v11.1h-2.9zM504.8 229.0h5.7v11.1h-5.7zM519.1 229.0h5.7v11.1h-5.7zM536.1 229.0h2.9v11.1h-2.9zM541.8 229.0h14.3v11.1h-14.3zM564.6 229.0h8.6v11.1h-8.6zM576.0 229.0h2.9v11.1h-2.9zM584.5 229.0h5.7v11.1h-5.7zM593.0 229.0h5.7v11.1h-5.7zM607.3 229.0h2.9v11.1h-2.9zM613.0 229.0h2.9v11.1h-2.9zM618.7 229.0h2.9v11.1h-2.9zM624.3 229.0h2.9v11.1h-2.9zM632.9 229.0h2.9v11.1h-2.9zM638.6 229.0h14.3v11.1h-14.3zM661.3 229.0h5.7v11.1h-5.7zM675.6 229.0h14.3v11.1h-14.3zM706.9 229.0h8.6v11.1h-8.6zM723.9 229.0h8.6v11.1h-8.6zM738.2 229.0h2.9v11.1h-2.9zM749.5 229.0h5.7v11.1h-5.7zM780.8 229.0h11.4v11.1h-11.4zM797.9 229.0h5.7v11.1h-5.7zM815.0 229.0h2.9v11.1h-2.9zM820.7 229.0h5.7v11.1h-5.7zM385.4 240.1h2.9v11.1h-2.9zM402.4 240.1h8.6v11.1h-8.6zM433.7 240.1h2.9v11.1h-2.9zM456.5 240.1h2.9v11.1h-2.9zM496.3 240.1h5.7v11.1h-5.7zM504.8 240.1h14.3v11.1h-14.3zM544.7 240.1h2.9v11.1h-2.9zM556.1 240.1h5.7v11.1h-5.7zM564.6 240.1h5.7v11.1h-5.7zM576.0 240.1h2.9v11.1h-2.9zM590.2 240.1h5.7v11.1h-5.7zM618.7 240.1h2.9v11.1h-2.9zM627.2 240.1h5.7v11.1h-5.7zM635.7 240.1h2.9v11.1h-2.9zM641.4 240.1h2.9v11.1h-2.9zM647.1 240.1h2.9v11.1h-2.9zM667.0 240.1h11.4v11.1h-11.4zM681.3 240.1h11.4v11.1h-11.4zM695.5 240.1h2.9v11.1h-2.9zM701.2 240.1h2.9v11.1h-2.9zM721.1 240.1h5.7v11.1h-5.7zM729.6 240.1h5.7v11.1h-5.7zM738.2 240.1h2.9v11.1h-2.9zM743.8 240.1h8.6v11.1h-8.6zM755.2 240.1h5.7v11.1h-5.7zM763.8 240.1h5.7v11.1h-5.7zM789.4 240.1h14.3v11.1h-14.3zM806.4 240.1h2.9v11.1h-2.9zM815.0 240.1h2.9v11.1h-2.9zM820.7 240.1h2.9v11.1h-2.9zM89.5 251.2h8.6v11.1h-8.6zM103.7 251.2h8.6v11.1h-8.6zM117.9 251.2h2.9v11.1h-2.9zM123.6 251.2h5.7v11.1h-5.7zM177.7 251.2h2.9v11.1h-2.9zM186.2 251.2h2.9v11.1h-2.9zM191.9 251.2h2.9v11.1h-2.9zM203.3 251.2h5.7v11.1h-5.7zM214.6 251.2h2.9v11.1h-2.9zM231.7 251.2h5.7v11.1h-5.7zM251.6 251.2h2.9v11.1h-2.9zM257.3 251.2h2.9v11.1h-2.9zM263.0 251.2h11.4v11.1h-11.4zM280.1 251.2h2.9v11.1h-2.9zM379.7 251.2h8.6v11.1h-8.6zM391.0 251.2h2.9v11.1h-2.9zM396.7 251.2h11.4v11.1h-11.4zM411.0 251.2h5.7v11.1h-5.7zM419.5 251.2h5.7v11.1h-5.7zM430.9 251.2h2.9v11.1h-2.9zM436.6 251.2h8.6v11.1h-8.6zM561.8 251.2h2.9v11.1h-2.9zM567.4 251.2h5.7v11.1h-5.7zM576.0 251.2h5.7v11.1h-5.7zM587.4 251.2h5.7v11.1h-5.7zM601.6 251.2h2.9v11.1h-2.9zM607.3 251.2h5.7v11.1h-5.7zM615.8 251.2h2.9v11.1h-2.9zM621.5 251.2h5.7v11.1h-5.7zM630.0 251.2h2.9v11.1h-2.9zM635.7 251.2h11.4v11.1h-11.4zM658.5 251.2h8.6v11.1h-8.6zM669.9 251.2h14.3v11.1h-14.3zM692.6 251.2h2.9v11.1h-2.9zM701.2 251.2h2.9v11.1h-2.9zM712.5 251.2h2.9v11.1h-2.9zM718.2 251.2h2.9v11.1h-2.9zM726.8 251.2h2.9v11.1h-2.9zM735.3 251.2h2.9v11.1h-2.9zM758.1 251.2h2.9v11.1h-2.9zM769.5 251.2h5.7v11.1h-5.7zM778.0 251.2h2.9v11.1h-2.9zM783.7 251.2h5.7v11.1h-5.7zM792.2 251.2h2.9v11.1h-2.9zM265.9 262.3h5.7v11.1h-5.7zM282.9 262.3h2.9v11.1h-2.9zM297.2 262.3h5.7v11.1h-5.7zM311.4 262.3h5.7v11.1h-5.7zM319.9 262.3h2.9v11.1h-2.9zM328.4 262.3h2.9v11.1h-2.9zM337.0 262.3h2.9v11.1h-2.9zM351.2 262.3h2.9v11.1h-2.9zM368.3 262.3h2.9v11.1h-2.9zM63.8 273.4h5.7v11.1h-5.7zM72.4 273.4h5.7v11.1h-5.7zM83.8 273.4h8.6v11.1h-8.6zM95.1 273.4h2.9v11.1h-2.9zM100.8 273.4h2.9v11.1h-2.9zM154.9 273.4h2.9v11.1h-2.9zM160.6 273.4h2.9v11.1h-2.9zM172.0 273.4h8.6v11.1h-8.6zM194.7 273.4h8.6v11.1h-8.6zM226.0 273.4h8.6v11.1h-8.6zM240.2 273.4h2.9v11.1h-2.9zM245.9 273.4h8.6v11.1h-8.6zM260.2 273.4h2.9v11.1h-2.9zM268.7 273.4h5.7v11.1h-5.7zM277.2 273.4h5.7v11.1h-5.7zM288.6 273.4h17.1v11.1h-17.1zM308.5 273.4h2.9v11.1h-2.9zM319.9 273.4h2.9v11.1h-2.9zM328.4 273.4h8.6v11.1h-8.6zM339.8 273.4h2.9v11.1h-2.9zM356.9 273.4h2.9v11.1h-2.9zM362.6 273.4h2.9v11.1h-2.9zM379.7 273.4h8.6v11.1h-8.6zM393.9 273.4h2.9v11.1h-2.9zM408.1 273.4h8.6v11.1h-8.6zM419.5 273.4h2.9v11.1h-2.9zM430.9 273.4h5.7v11.1h-5.7zM442.3 273.4h2.9v11.1h-2.9zM462.2 273.4h2.9v11.1h-2.9zM482.1 273.4h2.9v11.1h-2.9zM490.6 273.4h2.9v11.1h-2.9zM499.2 273.4h2.9v11.1h-2.9zM504.8 273.4h2.9v11.1h-2.9zM533.3 273.4h2.9v11.1h-2.9zM547.5 273.4h5.7v11.1h-5.7zM558.9 273.4h8.6v11.1h-8.6zM578.8 273.4h2.9v11.1h-2.9zM826.4 273.4h6.9v11.1h-6.9zM154.9 284.5h2.9v11.1h-2.9zM174.8 284.5h5.7v11.1h-5.7zM186.2 284.5h8.6v11.1h-8.6zM203.3 284.5h2.9v11.1h-2.9zM214.6 284.5h2.9v11.1h-2.9zM228.9 284.5h2.9v11.1h-2.9zM251.6 284.5h2.9v11.1h-2.9zM257.3 284.5h8.6v11.1h-8.6zM268.7 284.5h5.7v11.1h-5.7zM277.2 284.5h2.9v11.1h-2.9zM322.8 284.5h5.7v11.1h-5.7zM339.8 284.5h8.6v11.1h-8.6zM359.7 284.5h5.7v11.1h-5.7zM376.8 284.5h2.9v11.1h-2.9zM382.5 284.5h2.9v11.1h-2.9zM388.2 284.5h8.6v11.1h-8.6zM416.6 284.5h5.7v11.1h-5.7zM425.2 284.5h2.9v11.1h-2.9zM450.8 284.5h2.9v11.1h-2.9zM456.5 284.5h2.9v11.1h-2.9zM465.0 284.5h8.6v11.1h-8.6zM476.4 284.5h5.7v11.1h-5.7zM615.8 284.5h5.7v11.1h-5.7zM641.4 284.5h2.9v11.1h-2.9zM692.6 284.5h2.9v11.1h-2.9zM698.3 284.5h11.4v11.1h-11.4zM743.8 284.5h2.9v11.1h-2.9zM749.5 284.5h2.9v11.1h-2.9zM758.1 284.5h2.9v11.1h-2.9zM766.6 284.5h5.7v11.1h-5.7zM775.1 284.5h2.9v11.1h-2.9zM129.3 295.6h2.9v11.1h-2.9zM135.0 295.6h2.9v11.1h-2.9zM143.5 295.6h2.9v11.1h-2.9zM217.5 295.6h2.9v11.1h-2.9zM237.4 295.6h11.4v11.1h-11.4zM277.2 295.6h2.9v11.1h-2.9zM282.9 295.6h5.7v11.1h-5.7zM291.5 295.6h8.6v11.1h-8.6zM305.7 295.6h5.7v11.1h-5.7zM334.1 295.6h2.9v11.1h-2.9zM339.8 295.6h2.9v11.1h-2.9zM351.2 295.6h2.9v11.1h-2.9zM356.9 295.6h5.7v11.1h-5.7zM365.4 295.6h2.9v11.1h-2.9zM371.1 295.6h2.9v11.1h-2.9zM376.8 295.6h14.3v11.1h-14.3zM393.9 295.6h2.9v11.1h-2.9zM402.4 295.6h5.7v11.1h-5.7zM416.6 295.6h2.9v11.1h-2.9zM425.2 295.6h2.9v11.1h-2.9zM430.9 295.6h17.1v11.1h-17.1zM453.6 295.6h5.7v11.1h-5.7zM473.6 295.6h8.6v11.1h-8.6zM487.8 295.6h5.7v11.1h-5.7zM499.2 295.6h2.9v11.1h-2.9zM504.8 295.6h2.9v11.1h-2.9zM513.4 295.6h2.9v11.1h-2.9zM524.8 295.6h2.9v11.1h-2.9zM530.5 295.6h2.9v11.1h-2.9zM539.0 295.6h2.9v11.1h-2.9zM544.7 295.6h2.9v11.1h-2.9zM556.1 295.6h2.9v11.1h-2.9zM561.8 295.6h2.9v11.1h-2.9zM598.7 295.6h5.7v11.1h-5.7zM607.3 295.6h2.9v11.1h-2.9zM618.7 295.6h2.9v11.1h-2.9zM624.3 295.6h2.9v11.1h-2.9zM630.0 295.6h2.9v11.1h-2.9zM650.0 295.6h5.7v11.1h-5.7zM675.6 295.6h2.9v11.1h-2.9zM686.9 295.6h2.9v11.1h-2.9zM704.0 295.6h5.7v11.1h-5.7zM718.2 295.6h2.9v11.1h-2.9zM723.9 295.6h2.9v11.1h-2.9zM129.3 306.6h2.9v11.1h-2.9zM140.7 306.6h2.9v11.1h-2.9zM154.9 306.6h5.7v11.1h-5.7zM248.8 306.6h2.9v11.1h-2.9zM570.3 306.6h5.7v11.1h-5.7zM598.7 306.6h5.7v11.1h-5.7zM610.1 306.6h5.7v11.1h-5.7zM664.2 306.6h2.9v11.1h-2.9zM698.3 306.6h5.7v11.1h-5.7zM783.7 306.6h5.7v11.1h-5.7zM800.7 306.6h2.9v11.1h-2.9zM809.3 306.6h5.7v11.1h-5.7zM66.7 317.7h14.3v11.1h-14.3zM89.5 317.7h8.6v11.1h-8.6zM126.4 317.7h5.7v11.1h-5.7zM135.0 317.7h2.9v11.1h-2.9zM140.7 317.7h5.7v11.1h-5.7zM152.0 317.7h2.9v11.1h-2.9zM163.4 317.7h2.9v11.1h-2.9zM172.0 317.7h5.7v11.1h-5.7zM180.5 317.7h8.6v11.1h-8.6zM191.9 317.7h2.9v11.1h-2.9zM203.3 317.7h5.7v11.1h-5.7zM211.8 317.7h5.7v11.1h-5.7zM231.7 317.7h2.9v11.1h-2.9zM240.2 317.7h11.4v11.1h-11.4zM254.5 317.7h2.9v11.1h-2.9zM260.2 317.7h8.6v11.1h-8.6zM280.1 317.7h8.6v11.1h-8.6zM300.0 317.7h14.3v11.1h-14.3zM337.0 317.7h2.9v11.1h-2.9zM359.7 317.7h2.9v11.1h-2.9zM379.7 317.7h2.9v11.1h-2.9zM399.6 317.7h2.9v11.1h-2.9zM413.8 317.7h11.4v11.1h-11.4zM447.9 317.7h5.7v11.1h-5.7zM456.5 317.7h8.6v11.1h-8.6zM467.9 317.7h2.9v11.1h-2.9zM502.0 317.7h2.9v11.1h-2.9zM507.7 317.7h2.9v11.1h-2.9zM516.2 317.7h2.9v11.1h-2.9zM521.9 317.7h5.7v11.1h-5.7zM530.5 317.7h20.0v11.1h-20.0zM564.6 317.7h2.9v11.1h-2.9zM570.3 317.7h2.9v11.1h-2.9zM578.8 317.7h2.9v11.1h-2.9zM584.5 317.7h5.7v11.1h-5.7zM595.9 317.7h8.6v11.1h-8.6zM607.3 317.7h2.9v11.1h-2.9zM641.4 317.7h2.9v11.1h-2.9zM658.5 317.7h11.4v11.1h-11.4zM678.4 317.7h8.6v11.1h-8.6zM709.7 317.7h2.9v11.1h-2.9zM752.4 317.7h2.9v11.1h-2.9zM760.9 317.7h5.7v11.1h-5.7zM795.1 317.7h2.9v11.1h-2.9zM815.0 317.7h2.9v11.1h-2.9zM78.1 328.8h8.6v11.1h-8.6zM89.5 328.8h5.7v11.1h-5.7zM152.0 328.8h5.7v11.1h-5.7zM166.3 328.8h8.6v11.1h-8.6zM177.7 328.8h8.6v11.1h-8.6zM194.7 328.8h2.9v11.1h-2.9zM200.4 328.8h2.9v11.1h-2.9zM220.3 328.8h5.7v11.1h-5.7zM228.9 328.8h2.9v11.1h-2.9zM234.6 328.8h5.7v11.1h-5.7zM245.9 328.8h8.6v11.1h-8.6zM257.3 328.8h8.6v11.1h-8.6zM268.7 328.8h2.9v11.1h-2.9zM274.4 328.8h5.7v11.1h-5.7zM282.9 328.8h2.9v11.1h-2.9zM288.6 328.8h2.9v11.1h-2.9zM294.3 328.8h17.1v11.1h-17.1zM319.9 328.8h8.6v11.1h-8.6zM331.3 328.8h5.7v11.1h-5.7zM339.8 328.8h8.6v11.1h-8.6zM351.2 328.8h2.9v11.1h-2.9zM356.9 328.8h8.6v11.1h-8.6zM368.3 328.8h8.6v11.1h-8.6zM379.7 328.8h14.3v11.1h-14.3zM399.6 328.8h8.6v11.1h-8.6zM413.8 328.8h2.9v11.1h-2.9zM419.5 328.8h5.7v11.1h-5.7zM428.0 328.8h11.4v11.1h-11.4zM442.3 328.8h5.7v11.1h-5.7zM450.8 328.8h2.9v11.1h-2.9zM459.3 328.8h22.8v11.1h-22.8zM487.8 328.8h5.7v11.1h-5.7zM496.3 328.8h2.9v11.1h-2.9zM510.5 328.8h14.3v11.1h-14.3zM530.5 328.8h2.9v11.1h-2.9zM539.0 328.8h14.3v11.1h-14.3zM556.1 328.8h14.3v11.1h-14.3zM573.1 328.8h14.3v11.1h-14.3zM593.0 328.8h17.1v11.1h-17.1zM613.0 328.8h2.9v11.1h-2.9zM618.7 328.8h2.9v11.1h-2.9zM624.3 328.8h25.7v11.1h-25.7zM652.8 328.8h2.9v11.1h-2.9zM661.3 328.8h8.6v11.1h-8.6zM684.1 328.8h2.9v11.1h-2.9zM689.8 328.8h2.9v11.1h-2.9zM704.0 328.8h17.1v11.1h-17.1zM723.9 328.8h14.3v11.1h-14.3zM743.8 328.8h11.4v11.1h-11.4zM758.1 328.8h5.7v11.1h-5.7zM780.8 328.8h5.7v11.1h-5.7zM789.4 328.8h5.7v11.1h-5.7zM800.7 328.8h2.9v11.1h-2.9zM806.4 328.8h2.9v11.1h-2.9zM815.0 328.8h8.6v11.1h-8.6zM265.9 339.9h5.7v11.1h-5.7zM277.2 339.9h5.7v11.1h-5.7zM285.8 339.9h2.9v11.1h-2.9zM297.2 339.9h5.7v11.1h-5.7zM308.5 339.9h2.9v11.1h-2.9zM319.9 339.9h5.7v11.1h-5.7zM331.3 339.9h2.9v11.1h-2.9zM337.0 339.9h2.9v11.1h-2.9zM342.7 339.9h8.6v11.1h-8.6zM356.9 339.9h2.9v11.1h-2.9zM385.4 339.9h2.9v11.1h-2.9zM402.4 339.9h2.9v11.1h-2.9zM411.0 339.9h2.9v11.1h-2.9zM430.9 339.9h5.7v11.1h-5.7zM442.3 339.9h2.9v11.1h-2.9zM456.5 339.9h2.9v11.1h-2.9zM476.4 339.9h5.7v11.1h-5.7zM490.6 339.9h2.9v11.1h-2.9zM536.1 339.9h2.9v11.1h-2.9zM541.8 339.9h2.9v11.1h-2.9zM564.6 339.9h5.7v11.1h-5.7zM573.1 339.9h2.9v11.1h-2.9zM581.7 339.9h2.9v11.1h-2.9zM587.4 339.9h11.4v11.1h-11.4zM618.7 339.9h5.7v11.1h-5.7zM658.5 339.9h2.9v11.1h-2.9zM667.0 339.9h2.9v11.1h-2.9zM681.3 339.9h2.9v11.1h-2.9zM695.5 339.9h2.9v11.1h-2.9zM704.0 339.9h5.7v11.1h-5.7zM712.5 339.9h2.9v11.1h-2.9zM726.8 339.9h2.9v11.1h-2.9zM741.0 339.9h2.9v11.1h-2.9zM752.4 339.9h5.7v11.1h-5.7zM775.1 339.9h5.7v11.1h-5.7zM786.5 339.9h8.6v11.1h-8.6zM797.9 339.9h2.9v11.1h-2.9zM803.6 339.9h11.4v11.1h-11.4zM817.8 339.9h2.9v11.1h-2.9zM826.4 339.9h6.9v11.1h-6.9zM75.2 351.0h2.9v11.1h-2.9zM80.9 351.0h2.9v11.1h-2.9zM86.6 351.0h17.1v11.1h-17.1zM112.2 351.0h5.7v11.1h-5.7zM120.7 351.0h5.7v11.1h-5.7zM129.3 351.0h8.6v11.1h-8.6zM166.3 351.0h2.9v11.1h-2.9zM172.0 351.0h8.6v11.1h-8.6zM183.3 351.0h2.9v11.1h-2.9zM189.0 351.0h2.9v11.1h-2.9zM200.4 351.0h2.9v11.1h-2.9zM208.9 351.0h2.9v11.1h-2.9zM226.0 351.0h2.9v11.1h-2.9zM231.7 351.0h5.7v11.1h-5.7zM243.1 351.0h2.9v11.1h-2.9zM260.2 351.0h20.0v11.1h-20.0zM285.8 351.0h8.6v11.1h-8.6zM302.8 351.0h5.7v11.1h-5.7zM314.2 351.0h8.6v11.1h-8.6zM325.6 351.0h8.6v11.1h-8.6zM339.8 351.0h5.7v11.1h-5.7zM354.1 351.0h2.9v11.1h-2.9zM365.4 351.0h5.7v11.1h-5.7zM379.7 351.0h2.9v11.1h-2.9zM388.2 351.0h2.9v11.1h-2.9zM405.3 351.0h2.9v11.1h-2.9zM411.0 351.0h5.7v11.1h-5.7zM422.3 351.0h2.9v11.1h-2.9zM428.0 351.0h2.9v11.1h-2.9zM433.7 351.0h11.4v11.1h-11.4zM447.9 351.0h2.9v11.1h-2.9zM459.3 351.0h5.7v11.1h-5.7zM490.6 351.0h2.9v11.1h-2.9zM502.0 351.0h5.7v11.1h-5.7zM513.4 351.0h5.7v11.1h-5.7zM521.9 351.0h5.7v11.1h-5.7zM544.7 351.0h2.9v11.1h-2.9zM558.9 351.0h8.6v11.1h-8.6zM573.1 351.0h2.9v11.1h-2.9zM604.4 351.0h5.7v11.1h-5.7zM627.2 351.0h2.9v11.1h-2.9zM689.8 351.0h5.7v11.1h-5.7zM698.3 351.0h5.7v11.1h-5.7zM712.5 351.0h5.7v11.1h-5.7zM721.1 351.0h2.9v11.1h-2.9zM726.8 351.0h5.7v11.1h-5.7zM735.3 351.0h5.7v11.1h-5.7zM66.7 362.1h8.6v15.1h-8.6zM83.8 362.1h28.5v15.1h-28.5zM115.1 362.1h2.9v15.1h-2.9zM120.7 362.1h8.6v15.1h-8.6zM132.1 362.1h14.3v15.1h-14.3zM152.0 362.1h20.0v15.1h-20.0zM180.5 362.1h8.6v15.1h-8.6zM191.9 362.1h11.4v15.1h-11.4zM208.9 362.1h5.7v15.1h-5.7zM217.5 362.1h5.7v15.1h-5.7zM226.0 362.1h28.5v15.1h-28.5zM257.3 362.1h5.7v15.1h-5.7zM265.9 362.1h2.9v15.1h-2.9zM271.5 362.1h14.3v15.1h-14.3zM288.6 362.1h17.1v15.1h-17.1zM308.5 362.1h17.1v15.1h-17.1zM331.3 362.1h20.0v15.1h-20.0zM354.1 362.1h8.6v15.1h-8.6zM368.3 362.1h5.7v15.1h-5.7zM379.7 362.1h39.9v15.1h-39.9zM422.3 362.1h51.3v15.1h-51.3zM476.4 362.1h5.7v15.1h-5.7zM490.6 362.1h5.7v15.1h-5.7zM499.2 362.1h5.7v15.1h-5.7zM507.7 362.1h11.4v15.1h-11.4zM521.9 362.1h2.9v15.1h-2.9zM527.6 362.1h2.9v15.1h-2.9zM533.3 362.1h42.7v15.1h-42.7zM578.8 362.1h14.3v15.1h-14.3zM595.9 362.1h2.9v15.1h-2.9zM601.6 362.1h8.6v15.1h-8.6zM613.0 362.1h8.6v15.1h-8.6zM624.3 362.1h20.0v15.1h-20.0zM650.0 362.1h5.7v15.1h-5.7zM658.5 362.1h14.3v15.1h-14.3zM675.6 362.1h39.9v15.1h-39.9zM718.2 362.1h25.7v15.1h-25.7zM749.5 362.1h39.9v15.1h-39.9zM792.2 362.1h31.3v15.1h-31.3z"/><path fill="#22a286" d="M72.4 58.6h2.9v15.1h-2.9zM95.1 58.6h2.9v15.1h-2.9zM106.5 58.6h11.4v15.1h-11.4zM166.3 58.6h5.7v15.1h-5.7zM183.3 58.6h2.9v15.1h-2.9zM191.9 58.6h5.7v15.1h-5.7zM200.4 58.6h2.9v15.1h-2.9zM208.9 58.6h2.9v15.1h-2.9zM240.2 58.6h8.6v15.1h-8.6zM251.6 58.6h8.6v15.1h-8.6zM265.9 58.6h2.9v15.1h-2.9zM271.5 58.6h8.6v15.1h-8.6zM305.7 58.6h2.9v15.1h-2.9zM317.1 58.6h5.7v15.1h-5.7zM325.6 58.6h5.7v15.1h-5.7zM334.1 58.6h2.9v15.1h-2.9zM379.7 58.6h2.9v15.1h-2.9zM402.4 58.6h2.9v15.1h-2.9zM467.9 58.6h5.7v15.1h-5.7zM513.4 58.6h2.9v15.1h-2.9zM519.1 58.6h2.9v15.1h-2.9zM547.5 58.6h2.9v15.1h-2.9zM553.2 58.6h2.9v15.1h-2.9zM558.9 58.6h2.9v15.1h-2.9zM613.0 58.6h5.7v15.1h-5.7zM621.5 58.6h8.6v15.1h-8.6zM644.3 58.6h2.9v15.1h-2.9zM664.2 58.6h2.9v15.1h-2.9zM715.4 58.6h8.6v15.1h-8.6zM760.9 58.6h5.7v15.1h-5.7zM772.3 58.6h2.9v15.1h-2.9zM803.6 58.6h5.7v15.1h-5.7zM812.1 58.6h5.7v15.1h-5.7zM72.4 73.7h2.9v11.1h-2.9zM89.5 73.7h2.9v11.1h-2.9zM194.7 73.7h2.9v11.1h-2.9zM237.4 73.7h2.9v11.1h-2.9zM254.5 73.7h2.9v11.1h-2.9zM334.1 73.7h2.9v11.1h-2.9zM351.2 73.7h2.9v11.1h-2.9zM385.4 73.7h2.9v11.1h-2.9zM408.1 73.7h2.9v11.1h-2.9zM487.8 73.7h5.7v11.1h-5.7zM521.9 73.7h2.9v11.1h-2.9zM570.3 73.7h2.9v11.1h-2.9zM607.3 73.7h2.9v11.1h-2.9zM644.3 73.7h2.9v11.1h-2.9zM658.5 73.7h2.9v11.1h-2.9zM695.5 73.7h5.7v11.1h-5.7zM706.9 73.7h8.6v11.1h-8.6zM726.8 73.7h2.9v11.1h-2.9zM732.5 73.7h2.9v11.1h-2.9zM738.2 73.7h2.9v11.1h-2.9zM775.1 73.7h5.7v11.1h-5.7zM86.6 84.8h2.9v11.1h-2.9zM98.0 84.8h2.9v11.1h-2.9zM132.1 84.8h2.9v11.1h-2.9zM137.8 84.8h2.9v11.1h-2.9zM146.4 84.8h2.9v11.1h-2.9zM166.3 84.8h2.9v11.1h-2.9zM183.3 84.8h2.9v11.1h-2.9zM197.6 84.8h2.9v11.1h-2.9zM217.5 84.8h2.9v11.1h-2.9zM243.1 84.8h2.9v11.1h-2.9zM274.4 84.8h2.9v11.1h-2.9zM308.5 84.8h2.9v11.1h-2.9zM325.6 84.8h2.9v11.1h-2.9zM331.3 84.8h2.9v11.1h-2.9zM342.7 84.8h2.9v11.1h-2.9zM382.5 84.8h2.9v11.1h-2.9zM391.0 84.8h2.9v11.1h-2.9zM399.6 84.8h2.9v11.1h-2.9zM416.6 84.8h2.9v11.1h-2.9zM428.0 84.8h2.9v11.1h-2.9zM436.6 84.8h5.7v11.1h-5.7zM456.5 84.8h2.9v11.1h-2.9zM482.1 84.8h2.9v11.1h-2.9zM504.8 84.8h2.9v11.1h-2.9zM541.8 84.8h2.9v11.1h-2.9zM553.2 84.8h2.9v11.1h-2.9zM561.8 84.8h5.7v11.1h-5.7zM760.9 84.8h2.9v11.1h-2.9zM792.2 84.8h2.9v11.1h-2.9zM78.1 95.9h2.9v11.1h-2.9zM89.5 95.9h5.7v11.1h-5.7zM100.8 95.9h2.9v11.1h-2.9zM120.7 95.9h2.9v11.1h-2.9zM129.3 95.9h2.9v11.1h-2.9zM135.0 95.9h2.9v11.1h-2.9zM146.4 95.9h2.9v11.1h-2.9zM154.9 95.9h5.7v11.1h-5.7zM186.2 95.9h2.9v11.1h-2.9zM237.4 95.9h2.9v11.1h-2.9zM245.9 95.9h5.7v11.1h-5.7zM260.2 95.9h2.9v11.1h-2.9zM280.1 95.9h5.7v11.1h-5.7zM291.5 95.9h5.7v11.1h-5.7zM302.8 95.9h2.9v11.1h-2.9zM314.2 95.9h2.9v11.1h-2.9zM319.9 95.9h2.9v11.1h-2.9zM325.6 95.9h2.9v11.1h-2.9zM339.8 95.9h2.9v11.1h-2.9zM348.4 95.9h2.9v11.1h-2.9zM362.6 95.9h8.6v11.1h-8.6zM374.0 95.9h8.6v11.1h-8.6zM393.9 95.9h5.7v11.1h-5.7zM402.4 95.9h2.9v11.1h-2.9zM408.1 95.9h11.4v11.1h-11.4zM425.2 95.9h2.9v11.1h-2.9zM430.9 95.9h5.7v11.1h-5.7zM450.8 95.9h5.7v11.1h-5.7zM462.2 95.9h2.9v11.1h-2.9zM470.7 95.9h2.9v11.1h-2.9zM484.9 95.9h5.7v11.1h-5.7zM493.5 95.9h5.7v11.1h-5.7zM507.7 95.9h11.4v11.1h-11.4zM521.9 95.9h2.9v11.1h-2.9zM527.6 95.9h2.9v11.1h-2.9zM533.3 95.9h5.7v11.1h-5.7zM541.8 95.9h2.9v11.1h-2.9zM547.5 95.9h17.1v11.1h-17.1zM618.7 95.9h2.9v11.1h-2.9zM624.3 95.9h2.9v11.1h-2.9zM800.7 95.9h2.9v11.1h-2.9zM57.0 107.0h12.6v11.1h-12.6zM106.5 107.0h2.9v11.1h-2.9zM157.7 107.0h2.9v11.1h-2.9zM251.6 107.0h8.6v11.1h-8.6zM274.4 107.0h2.9v11.1h-2.9zM282.9 107.0h2.9v11.1h-2.9zM322.8 107.0h2.9v11.1h-2.9zM371.1 107.0h2.9v11.1h-2.9zM513.4 107.0h2.9v11.1h-2.9zM521.9 107.0h2.9v11.1h-2.9zM547.5 107.0h5.7v11.1h-5.7zM624.3 107.0h8.6v11.1h-8.6zM664.2 107.0h2.9v11.1h-2.9zM732.5 107.0h2.9v11.1h-2.9zM738.2 107.0h5.7v11.1h-5.7zM778.0 107.0h2.9v11.1h-2.9zM57.0 118.1h6.9v11.1h-6.9zM83.8 118.1h2.9v11.1h-2.9zM154.9 118.1h2.9v11.1h-2.9zM163.4 118.1h5.7v11.1h-5.7zM217.5 118.1h2.9v11.1h-2.9zM245.9 118.1h5.7v11.1h-5.7zM268.7 118.1h2.9v11.1h-2.9zM337.0 118.1h2.9v11.1h-2.9zM396.7 118.1h5.7v11.1h-5.7zM436.6 118.1h2.9v11.1h-2.9zM453.6 118.1h5.7v11.1h-5.7zM467.9 118.1h5.7v11.1h-5.7zM524.8 118.1h2.9v11.1h-2.9zM553.2 118.1h8.6v11.1h-8.6zM567.4 118.1h8.6v11.1h-8.6zM584.5 118.1h8.6v11.1h-8.6zM604.4 118.1h2.9v11.1h-2.9zM615.8 118.1h5.7v11.1h-5.7zM635.7 118.1h2.9v11.1h-2.9zM652.8 118.1h5.7v11.1h-5.7zM661.3 118.1h2.9v11.1h-2.9zM672.7 118.1h2.9v11.1h-2.9zM783.7 118.1h2.9v11.1h-2.9zM792.2 118.1h2.9v11.1h-2.9zM815.0 118.1h2.9v11.1h-2.9zM823.5 118.1h9.7v11.1h-9.7zM80.9 129.2h8.6v11.1h-8.6zM95.1 129.2h8.6v11.1h-8.6zM115.1 129.2h2.9v11.1h-2.9zM120.7 129.2h2.9v11.1h-2.9zM126.4 129.2h2.9v11.1h-2.9zM135.0 129.2h5.7v11.1h-5.7zM163.4 129.2h2.9v11.1h-2.9zM169.1 129.2h2.9v11.1h-2.9zM174.8 129.2h5.7v11.1h-5.7zM191.9 129.2h5.7v11.1h-5.7zM206.1 129.2h2.9v11.1h-2.9zM217.5 129.2h2.9v11.1h-2.9zM228.9 129.2h2.9v11.1h-2.9zM237.4 129.2h2.9v11.1h-2.9zM251.6 129.2h2.9v11.1h-2.9zM257.3 129.2h2.9v11.1h-2.9zM285.8 129.2h5.7v11.1h-5.7zM297.2 129.2h2.9v11.1h-2.9zM317.1 129.2h2.9v11.1h-2.9zM342.7 129.2h2.9v11.1h-2.9zM354.1 129.2h5.7v11.1h-5.7zM368.3 129.2h5.7v11.1h-5.7zM379.7 129.2h2.9v11.1h-2.9zM385.4 129.2h14.3v11.1h-14.3zM405.3 129.2h5.7v11.1h-5.7zM413.8 129.2h5.7v11.1h-5.7zM422.3 129.2h11.4v11.1h-11.4zM436.6 129.2h5.7v11.1h-5.7zM456.5 129.2h5.7v11.1h-5.7zM476.4 129.2h5.7v11.1h-5.7zM487.8 129.2h2.9v11.1h-2.9zM493.5 129.2h2.9v11.1h-2.9zM499.2 129.2h2.9v11.1h-2.9zM507.7 129.2h2.9v11.1h-2.9zM516.2 129.2h5.7v11.1h-5.7zM530.5 129.2h2.9v11.1h-2.9zM536.1 129.2h2.9v11.1h-2.9zM556.1 129.2h2.9v11.1h-2.9zM564.6 129.2h5.7v11.1h-5.7zM576.0 129.2h2.9v11.1h-2.9zM593.0 129.2h2.9v11.1h-2.9zM598.7 129.2h2.9v11.1h-2.9zM615.8 129.2h2.9v11.1h-2.9zM675.6 129.2h2.9v11.1h-2.9zM689.8 129.2h2.9v11.1h-2.9zM704.0 129.2h2.9v11.1h-2.9zM709.7 129.2h2.9v11.1h-2.9zM715.4 129.2h2.9v11.1h-2.9zM729.6 129.2h2.9v11.1h-2.9zM741.0 129.2h2.9v11.1h-2.9zM746.7 129.2h5.7v11.1h-5.7zM758.1 129.2h2.9v11.1h-2.9zM763.8 129.2h2.9v11.1h-2.9zM786.5 129.2h2.9v11.1h-2.9zM795.1 129.2h2.9v11.1h-2.9zM806.4 129.2h2.9v11.1h-2.9zM815.0 129.2h2.9v11.1h-2.9zM66.7 140.2h2.9v11.1h-2.9zM80.9 140.2h2.9v11.1h-2.9zM86.6 140.2h2.9v11.1h-2.9zM95.1 140.2h2.9v11.1h-2.9zM208.9 140.2h5.7v11.1h-5.7zM311.4 140.2h2.9v11.1h-2.9zM342.7 140.2h5.7v11.1h-5.7zM368.3 140.2h2.9v11.1h-2.9zM374.0 140.2h14.3v11.1h-14.3zM391.0 140.2h2.9v11.1h-2.9zM402.4 140.2h2.9v11.1h-2.9zM447.9 140.2h2.9v11.1h-2.9zM453.6 140.2h2.9v11.1h-2.9zM504.8 140.2h2.9v11.1h-2.9zM513.4 140.2h2.9v11.1h-2.9zM541.8 140.2h14.3v11.1h-14.3zM561.8 140.2h2.9v11.1h-2.9zM570.3 140.2h2.9v11.1h-2.9zM576.0 140.2h2.9v11.1h-2.9zM584.5 140.2h5.7v11.1h-5.7zM607.3 140.2h2.9v11.1h-2.9zM613.0 140.2h2.9v11.1h-2.9zM624.3 140.2h5.7v11.1h-5.7zM638.6 140.2h2.9v11.1h-2.9zM644.3 140.2h2.9v11.1h-2.9zM652.8 140.2h2.9v11.1h-2.9zM664.2 140.2h2.9v11.1h-2.9zM669.9 140.2h5.7v11.1h-5.7zM686.9 140.2h2.9v11.1h-2.9zM698.3 140.2h5.7v11.1h-5.7zM718.2 140.2h2.9v11.1h-2.9zM732.5 140.2h5.7v11.1h-5.7zM741.0 140.2h2.9v11.1h-2.9zM752.4 140.2h5.7v11.1h-5.7zM763.8 140.2h2.9v11.1h-2.9zM775.1 140.2h8.6v11.1h-8.6zM820.7 140.2h2.9v11.1h-2.9zM132.1 151.3h2.9v11.1h-2.9zM146.4 151.3h2.9v11.1h-2.9zM325.6 151.3h2.9v11.1h-2.9zM382.5 151.3h5.7v11.1h-5.7zM419.5 151.3h5.7v11.1h-5.7zM436.6 151.3h2.9v11.1h-2.9zM450.8 151.3h2.9v11.1h-2.9zM487.8 151.3h2.9v11.1h-2.9zM576.0 151.3h5.7v11.1h-5.7zM635.7 151.3h5.7v11.1h-5.7zM684.1 151.3h2.9v11.1h-2.9zM701.2 151.3h2.9v11.1h-2.9zM738.2 151.3h2.9v11.1h-2.9zM780.8 151.3h2.9v11.1h-2.9zM57.0 162.4h6.9v11.1h-6.9zM83.8 162.4h14.3v11.1h-14.3zM100.8 162.4h2.9v11.1h-2.9zM117.9 162.4h2.9v11.1h-2.9zM137.8 162.4h2.9v11.1h-2.9zM220.3 162.4h2.9v11.1h-2.9zM317.1 162.4h2.9v11.1h-2.9zM362.6 162.4h2.9v11.1h-2.9zM388.2 162.4h2.9v11.1h-2.9zM428.0 162.4h2.9v11.1h-2.9zM465.0 162.4h2.9v11.1h-2.9zM519.1 162.4h2.9v11.1h-2.9zM530.5 162.4h2.9v11.1h-2.9zM567.4 162.4h2.9v11.1h-2.9zM613.0 162.4h2.9v11.1h-2.9zM718.2 162.4h2.9v11.1h-2.9zM735.3 162.4h2.9v11.1h-2.9zM760.9 162.4h2.9v11.1h-2.9zM797.9 162.4h2.9v11.1h-2.9zM271.5 173.5h2.9v11.1h-2.9zM337.0 173.5h2.9v11.1h-2.9zM393.9 173.5h2.9v11.1h-2.9zM425.2 173.5h2.9v11.1h-2.9zM462.2 173.5h2.9v11.1h-2.9zM590.2 173.5h2.9v11.1h-2.9zM618.7 173.5h2.9v11.1h-2.9zM630.0 173.5h2.9v11.1h-2.9zM752.4 173.5h2.9v11.1h-2.9zM760.9 173.5h2.9v11.1h-2.9zM86.6 184.6h5.7v11.1h-5.7zM100.8 184.6h8.6v11.1h-8.6zM146.4 184.6h2.9v11.1h-2.9zM208.9 184.6h2.9v11.1h-2.9zM214.6 184.6h11.4v11.1h-11.4zM263.0 184.6h5.7v11.1h-5.7zM280.1 184.6h2.9v11.1h-2.9zM291.5 184.6h2.9v11.1h-2.9zM308.5 184.6h14.3v11.1h-14.3zM328.4 184.6h14.3v11.1h-14.3zM345.5 184.6h2.9v11.1h-2.9zM428.0 184.6h5.7v11.1h-5.7zM493.5 184.6h5.7v11.1h-5.7zM521.9 184.6h2.9v11.1h-2.9zM550.4 184.6h2.9v11.1h-2.9zM558.9 184.6h2.9v11.1h-2.9zM630.0 184.6h2.9v11.1h-2.9zM701.2 184.6h2.9v11.1h-2.9zM735.3 184.6h11.4v11.1h-11.4zM766.6 184.6h2.9v11.1h-2.9zM815.0 184.6h8.6v11.1h-8.6zM180.5 195.7h2.9v11.1h-2.9zM200.4 195.7h8.6v11.1h-8.6zM211.8 195.7h2.9v11.1h-2.9zM245.9 195.7h2.9v11.1h-2.9zM260.2 195.7h2.9v11.1h-2.9zM305.7 195.7h2.9v11.1h-2.9zM328.4 195.7h2.9v11.1h-2.9zM337.0 195.7h2.9v11.1h-2.9zM348.4 195.7h2.9v11.1h-2.9zM371.1 195.7h2.9v11.1h-2.9zM396.7 195.7h2.9v11.1h-2.9zM425.2 195.7h2.9v11.1h-2.9zM442.3 195.7h2.9v11.1h-2.9zM496.3 195.7h2.9v11.1h-2.9zM507.7 195.7h2.9v11.1h-2.9zM561.8 195.7h2.9v11.1h-2.9zM590.2 195.7h2.9v11.1h-2.9zM613.0 195.7h2.9v11.1h-2.9zM618.7 195.7h2.9v11.1h-2.9zM630.0 195.7h2.9v11.1h-2.9zM650.0 195.7h2.9v11.1h-2.9zM709.7 195.7h2.9v11.1h-2.9zM809.3 195.7h2.9v11.1h-2.9zM83.8 206.8h2.9v11.1h-2.9zM89.5 206.8h5.7v11.1h-5.7zM132.1 206.8h2.9v11.1h-2.9zM137.8 206.8h2.9v11.1h-2.9zM166.3 206.8h11.4v11.1h-11.4zM214.6 206.8h2.9v11.1h-2.9zM226.0 206.8h2.9v11.1h-2.9zM265.9 206.8h2.9v11.1h-2.9zM274.4 206.8h2.9v11.1h-2.9zM291.5 206.8h5.7v11.1h-5.7zM305.7 206.8h2.9v11.1h-2.9zM314.2 206.8h2.9v11.1h-2.9zM322.8 206.8h2.9v11.1h-2.9zM328.4 206.8h2.9v11.1h-2.9zM337.0 206.8h2.9v11.1h-2.9zM374.0 206.8h5.7v11.1h-5.7zM391.0 206.8h11.4v11.1h-11.4zM405.3 206.8h5.7v11.1h-5.7zM428.0 206.8h2.9v11.1h-2.9zM436.6 206.8h5.7v11.1h-5.7zM450.8 206.8h2.9v11.1h-2.9zM467.9 206.8h5.7v11.1h-5.7zM484.9 206.8h2.9v11.1h-2.9zM490.6 206.8h2.9v11.1h-2.9zM704.0 206.8h2.9v11.1h-2.9zM709.7 206.8h2.9v11.1h-2.9zM723.9 206.8h2.9v11.1h-2.9zM729.6 206.8h2.9v11.1h-2.9zM735.3 206.8h2.9v11.1h-2.9zM758.1 206.8h2.9v11.1h-2.9zM769.5 206.8h2.9v11.1h-2.9zM57.0 217.9h6.9v11.1h-6.9zM78.1 217.9h8.6v11.1h-8.6zM89.5 217.9h5.7v11.1h-5.7zM98.0 217.9h2.9v11.1h-2.9zM103.7 217.9h2.9v11.1h-2.9zM112.2 217.9h5.7v11.1h-5.7zM126.4 217.9h5.7v11.1h-5.7zM135.0 217.9h2.9v11.1h-2.9zM146.4 217.9h5.7v11.1h-5.7zM157.7 217.9h2.9v11.1h-2.9zM163.4 217.9h2.9v11.1h-2.9zM177.7 217.9h8.6v11.1h-8.6zM189.0 217.9h8.6v11.1h-8.6zM203.3 217.9h2.9v11.1h-2.9zM211.8 217.9h5.7v11.1h-5.7zM220.3 217.9h2.9v11.1h-2.9zM231.7 217.9h8.6v11.1h-8.6zM248.8 217.9h8.6v11.1h-8.6zM263.0 217.9h2.9v11.1h-2.9zM268.7 217.9h2.9v11.1h-2.9zM285.8 217.9h5.7v11.1h-5.7zM297.2 217.9h2.9v11.1h-2.9zM305.7 217.9h2.9v11.1h-2.9zM328.4 217.9h2.9v11.1h-2.9zM334.1 217.9h14.3v11.1h-14.3zM359.7 217.9h2.9v11.1h-2.9zM371.1 217.9h5.7v11.1h-5.7zM385.4 217.9h5.7v11.1h-5.7zM393.9 217.9h2.9v11.1h-2.9zM411.0 217.9h2.9v11.1h-2.9zM422.3 217.9h2.9v11.1h-2.9zM450.8 217.9h2.9v11.1h-2.9zM465.0 217.9h2.9v11.1h-2.9zM476.4 217.9h2.9v11.1h-2.9zM484.9 217.9h2.9v11.1h-2.9zM493.5 217.9h5.7v11.1h-5.7zM502.0 217.9h2.9v11.1h-2.9zM530.5 217.9h5.7v11.1h-5.7zM539.0 217.9h5.7v11.1h-5.7zM550.4 217.9h5.7v11.1h-5.7zM558.9 217.9h2.9v11.1h-2.9zM573.1 217.9h5.7v11.1h-5.7zM590.2 217.9h2.9v11.1h-2.9zM595.9 217.9h2.9v11.1h-2.9zM607.3 217.9h2.9v11.1h-2.9zM615.8 217.9h2.9v11.1h-2.9zM621.5 217.9h2.9v11.1h-2.9zM630.0 217.9h2.9v11.1h-2.9zM644.3 217.9h2.9v11.1h-2.9zM655.6 217.9h11.4v11.1h-11.4zM669.9 217.9h2.9v11.1h-2.9zM675.6 217.9h2.9v11.1h-2.9zM698.3 217.9h2.9v11.1h-2.9zM709.7 217.9h5.7v11.1h-5.7zM723.9 217.9h2.9v11.1h-2.9zM732.5 217.9h2.9v11.1h-2.9zM752.4 217.9h11.4v11.1h-11.4zM766.6 217.9h2.9v11.1h-2.9zM786.5 217.9h2.9v11.1h-2.9zM792.2 217.9h2.9v11.1h-2.9zM797.9 217.9h2.9v11.1h-2.9zM72.4 229.0h2.9v11.1h-2.9zM172.0 229.0h2.9v11.1h-2.9zM217.5 229.0h5.7v11.1h-5.7zM240.2 229.0h2.9v11.1h-2.9zM245.9 229.0h2.9v11.1h-2.9zM254.5 229.0h11.4v11.1h-11.4zM302.8 229.0h2.9v11.1h-2.9zM325.6 229.0h5.7v11.1h-5.7zM334.1 229.0h2.9v11.1h-2.9zM342.7 229.0h2.9v11.1h-2.9zM359.7 229.0h5.7v11.1h-5.7zM376.8 229.0h2.9v11.1h-2.9zM413.8 229.0h2.9v11.1h-2.9zM456.5 229.0h11.4v11.1h-11.4zM490.6 229.0h2.9v11.1h-2.9zM496.3 229.0h8.6v11.1h-8.6zM510.5 229.0h2.9v11.1h-2.9zM516.2 229.0h2.9v11.1h-2.9zM524.8 229.0h11.4v11.1h-11.4zM539.0 229.0h2.9v11.1h-2.9zM573.1 229.0h2.9v11.1h-2.9zM615.8 229.0h2.9v11.1h-2.9zM621.5 229.0h2.9v11.1h-2.9zM630.0 229.0h2.9v11.1h-2.9zM658.5 229.0h2.9v11.1h-2.9zM672.7 229.0h2.9v11.1h-2.9zM692.6 229.0h2.9v11.1h-2.9zM715.4 229.0h8.6v11.1h-8.6zM792.2 229.0h5.7v11.1h-5.7zM806.4 229.0h8.6v11.1h-8.6zM393.9 240.1h2.9v11.1h-2.9zM399.6 240.1h2.9v11.1h-2.9zM621.5 240.1h2.9v11.1h-2.9zM741.0 240.1h2.9v11.1h-2.9zM786.5 240.1h2.9v11.1h-2.9zM809.3 240.1h2.9v11.1h-2.9zM112.2 251.2h5.7v11.1h-5.7zM120.7 251.2h2.9v11.1h-2.9zM172.0 251.2h5.7v11.1h-5.7zM189.0 251.2h2.9v11.1h-2.9zM194.7 251.2h8.6v11.1h-8.6zM208.9 251.2h5.7v11.1h-5.7zM217.5 251.2h2.9v11.1h-2.9zM226.0 251.2h5.7v11.1h-5.7zM237.4 251.2h5.7v11.1h-5.7zM248.8 251.2h2.9v11.1h-2.9zM254.5 251.2h2.9v11.1h-2.9zM260.2 251.2h2.9v11.1h-2.9zM274.4 251.2h2.9v11.1h-2.9zM282.9 251.2h2.9v11.1h-2.9zM317.1 251.2h2.9v11.1h-2.9zM374.0 251.2h5.7v11.1h-5.7zM388.2 251.2h2.9v11.1h-2.9zM393.9 251.2h2.9v11.1h-2.9zM408.1 251.2h2.9v11.1h-2.9zM416.6 251.2h2.9v11.1h-2.9zM425.2 251.2h2.9v11.1h-2.9zM536.1 251.2h5.7v11.1h-5.7zM558.9 251.2h2.9v11.1h-2.9zM573.1 251.2h2.9v11.1h-2.9zM581.7 251.2h5.7v11.1h-5.7zM593.0 251.2h8.6v11.1h-8.6zM604.4 251.2h2.9v11.1h-2.9zM613.0 251.2h2.9v11.1h-2.9zM618.7 251.2h2.9v11.1h-2.9zM627.2 251.2h2.9v11.1h-2.9zM632.9 251.2h2.9v11.1h-2.9zM647.1 251.2h2.9v11.1h-2.9zM655.6 251.2h2.9v11.1h-2.9zM667.0 251.2h2.9v11.1h-2.9zM686.9 251.2h5.7v11.1h-5.7zM695.5 251.2h5.7v11.1h-5.7zM704.0 251.2h2.9v11.1h-2.9zM715.4 251.2h2.9v11.1h-2.9zM721.1 251.2h2.9v11.1h-2.9zM729.6 251.2h5.7v11.1h-5.7zM738.2 251.2h2.9v11.1h-2.9zM760.9 251.2h8.6v11.1h-8.6zM775.1 251.2h2.9v11.1h-2.9zM780.8 251.2h2.9v11.1h-2.9zM789.4 251.2h2.9v11.1h-2.9zM795.1 251.2h2.9v11.1h-2.9zM826.4 251.2h6.9v11.1h-6.9zM254.5 262.3h11.4v11.1h-11.4zM271.5 262.3h8.6v11.1h-8.6zM288.6 262.3h8.6v11.1h-8.6zM302.8 262.3h5.7v11.1h-5.7zM317.1 262.3h2.9v11.1h-2.9zM322.8 262.3h5.7v11.1h-5.7zM331.3 262.3h5.7v11.1h-5.7zM339.8 262.3h5.7v11.1h-5.7zM348.4 262.3h2.9v11.1h-2.9zM359.7 262.3h5.7v11.1h-5.7zM376.8 262.3h2.9v11.1h-2.9zM391.0 262.3h2.9v11.1h-2.9zM402.4 262.3h8.6v11.1h-8.6zM413.8 262.3h2.9v11.1h-2.9zM425.2 262.3h2.9v11.1h-2.9zM430.9 262.3h14.3v11.1h-14.3zM453.6 262.3h2.9v11.1h-2.9zM470.7 262.3h2.9v11.1h-2.9zM755.2 262.3h2.9v11.1h-2.9zM760.9 262.3h8.6v11.1h-8.6zM772.3 262.3h2.9v11.1h-2.9zM780.8 262.3h2.9v11.1h-2.9zM792.2 262.3h11.4v11.1h-11.4zM806.4 262.3h14.3v11.1h-14.3zM826.4 262.3h6.9v11.1h-6.9zM57.0 273.4h6.9v11.1h-6.9zM69.5 273.4h2.9v11.1h-2.9zM78.1 273.4h5.7v11.1h-5.7zM92.3 273.4h2.9v11.1h-2.9zM98.0 273.4h2.9v11.1h-2.9zM112.2 273.4h5.7v11.1h-5.7zM123.6 273.4h8.6v11.1h-8.6zM135.0 273.4h11.4v11.1h-11.4zM152.0 273.4h2.9v11.1h-2.9zM157.7 273.4h2.9v11.1h-2.9zM163.4 273.4h8.6v11.1h-8.6zM189.0 273.4h5.7v11.1h-5.7zM203.3 273.4h11.4v11.1h-11.4zM217.5 273.4h8.6v11.1h-8.6zM234.6 273.4h5.7v11.1h-5.7zM243.1 273.4h2.9v11.1h-2.9zM254.5 273.4h5.7v11.1h-5.7zM263.0 273.4h5.7v11.1h-5.7zM274.4 273.4h2.9v11.1h-2.9zM282.9 273.4h5.7v11.1h-5.7zM305.7 273.4h2.9v11.1h-2.9zM311.4 273.4h8.6v11.1h-8.6zM322.8 273.4h5.7v11.1h-5.7zM337.0 273.4h2.9v11.1h-2.9zM342.7 273.4h5.7v11.1h-5.7zM351.2 273.4h5.7v11.1h-5.7zM365.4 273.4h5.7v11.1h-5.7zM374.0 273.4h5.7v11.1h-5.7zM388.2 273.4h5.7v11.1h-5.7zM396.7 273.4h11.4v11.1h-11.4zM416.6 273.4h2.9v11.1h-2.9zM425.2 273.4h2.9v11.1h-2.9zM436.6 273.4h5.7v11.1h-5.7zM445.1 273.4h11.4v11.1h-11.4zM459.3 273.4h2.9v11.1h-2.9zM465.0 273.4h8.6v11.1h-8.6zM476.4 273.4h5.7v11.1h-5.7zM502.0 273.4h2.9v11.1h-2.9zM507.7 273.4h2.9v11.1h-2.9zM519.1 273.4h2.9v11.1h-2.9zM536.1 273.4h5.7v11.1h-5.7zM544.7 273.4h2.9v11.1h-2.9zM553.2 273.4h5.7v11.1h-5.7zM581.7 273.4h2.9v11.1h-2.9zM587.4 273.4h8.6v11.1h-8.6zM607.3 273.4h2.9v11.1h-2.9zM618.7 273.4h2.9v11.1h-2.9zM635.7 273.4h2.9v11.1h-2.9zM652.8 273.4h2.9v11.1h-2.9zM675.6 273.4h8.6v11.1h-8.6zM704.0 273.4h2.9v11.1h-2.9zM789.4 273.4h5.7v11.1h-5.7zM797.9 273.4h5.7v11.1h-5.7zM817.8 273.4h8.6v11.1h-8.6zM75.2 284.5h2.9v11.1h-2.9zM123.6 284.5h2.9v11.1h-2.9zM152.0 284.5h2.9v11.1h-2.9zM197.6 284.5h5.7v11.1h-5.7zM211.8 284.5h2.9v11.1h-2.9zM217.5 284.5h2.9v11.1h-2.9zM254.5 284.5h2.9v11.1h-2.9zM274.4 284.5h2.9v11.1h-2.9zM282.9 284.5h5.7v11.1h-5.7zM328.4 284.5h2.9v11.1h-2.9zM334.1 284.5h2.9v11.1h-2.9zM356.9 284.5h2.9v11.1h-2.9zM379.7 284.5h2.9v11.1h-2.9zM428.0 284.5h2.9v11.1h-2.9zM453.6 284.5h2.9v11.1h-2.9zM462.2 284.5h2.9v11.1h-2.9zM490.6 284.5h2.9v11.1h-2.9zM561.8 284.5h2.9v11.1h-2.9zM578.8 284.5h2.9v11.1h-2.9zM644.3 284.5h8.6v11.1h-8.6zM658.5 284.5h2.9v11.1h-2.9zM695.5 284.5h2.9v11.1h-2.9zM738.2 284.5h2.9v11.1h-2.9zM752.4 284.5h5.7v11.1h-5.7zM760.9 284.5h2.9v11.1h-2.9zM778.0 284.5h2.9v11.1h-2.9zM806.4 284.5h2.9v11.1h-2.9zM812.1 284.5h2.9v11.1h-2.9zM137.8 295.6h5.7v11.1h-5.7zM146.4 295.6h2.9v11.1h-2.9zM200.4 295.6h5.7v11.1h-5.7zM220.3 295.6h2.9v11.1h-2.9zM274.4 295.6h2.9v11.1h-2.9zM288.6 295.6h2.9v11.1h-2.9zM311.4 295.6h8.6v11.1h-8.6zM331.3 295.6h2.9v11.1h-2.9zM337.0 295.6h2.9v11.1h-2.9zM345.5 295.6h2.9v11.1h-2.9zM354.1 295.6h2.9v11.1h-2.9zM362.6 295.6h2.9v11.1h-2.9zM368.3 295.6h2.9v11.1h-2.9zM374.0 295.6h2.9v11.1h-2.9zM391.0 295.6h2.9v11.1h-2.9zM396.7 295.6h5.7v11.1h-5.7zM408.1 295.6h2.9v11.1h-2.9zM413.8 295.6h2.9v11.1h-2.9zM422.3 295.6h2.9v11.1h-2.9zM447.9 295.6h5.7v11.1h-5.7zM493.5 295.6h5.7v11.1h-5.7zM502.0 295.6h2.9v11.1h-2.9zM507.7 295.6h2.9v11.1h-2.9zM519.1 295.6h2.9v11.1h-2.9zM527.6 295.6h2.9v11.1h-2.9zM533.3 295.6h2.9v11.1h-2.9zM541.8 295.6h2.9v11.1h-2.9zM547.5 295.6h5.7v11.1h-5.7zM558.9 295.6h2.9v11.1h-2.9zM564.6 295.6h2.9v11.1h-2.9zM576.0 295.6h2.9v11.1h-2.9zM584.5 295.6h8.6v11.1h-8.6zM595.9 295.6h2.9v11.1h-2.9zM610.1 295.6h2.9v11.1h-2.9zM615.8 295.6h2.9v11.1h-2.9zM621.5 295.6h2.9v11.1h-2.9zM627.2 295.6h2.9v11.1h-2.9zM632.9 295.6h2.9v11.1h-2.9zM641.4 295.6h2.9v11.1h-2.9zM647.1 295.6h2.9v11.1h-2.9zM661.3 295.6h2.9v11.1h-2.9zM715.4 295.6h2.9v11.1h-2.9zM760.9 295.6h2.9v11.1h-2.9zM499.2 306.6h2.9v11.1h-2.9zM607.3 306.6h2.9v11.1h-2.9zM57.0 317.7h9.7v11.1h-9.7zM80.9 317.7h8.6v11.1h-8.6zM98.0 317.7h5.7v11.1h-5.7zM109.4 317.7h17.1v11.1h-17.1zM137.8 317.7h2.9v11.1h-2.9zM149.2 317.7h2.9v11.1h-2.9zM154.9 317.7h8.6v11.1h-8.6zM166.3 317.7h5.7v11.1h-5.7zM177.7 317.7h2.9v11.1h-2.9zM194.7 317.7h8.6v11.1h-8.6zM208.9 317.7h2.9v11.1h-2.9zM217.5 317.7h5.7v11.1h-5.7zM226.0 317.7h2.9v11.1h-2.9zM234.6 317.7h5.7v11.1h-5.7zM251.6 317.7h2.9v11.1h-2.9zM257.3 317.7h2.9v11.1h-2.9zM268.7 317.7h8.6v11.1h-8.6zM288.6 317.7h5.7v11.1h-5.7zM297.2 317.7h2.9v11.1h-2.9zM314.2 317.7h5.7v11.1h-5.7zM325.6 317.7h2.9v11.1h-2.9zM331.3 317.7h5.7v11.1h-5.7zM342.7 317.7h5.7v11.1h-5.7zM354.1 317.7h5.7v11.1h-5.7zM362.6 317.7h2.9v11.1h-2.9zM368.3 317.7h2.9v11.1h-2.9zM374.0 317.7h2.9v11.1h-2.9zM382.5 317.7h17.1v11.1h-17.1zM402.4 317.7h5.7v11.1h-5.7zM411.0 317.7h2.9v11.1h-2.9zM425.2 317.7h5.7v11.1h-5.7zM433.7 317.7h5.7v11.1h-5.7zM453.6 317.7h2.9v11.1h-2.9zM465.0 317.7h2.9v11.1h-2.9zM470.7 317.7h31.3v11.1h-31.3zM504.8 317.7h2.9v11.1h-2.9zM510.5 317.7h2.9v11.1h-2.9zM519.1 317.7h2.9v11.1h-2.9zM527.6 317.7h2.9v11.1h-2.9zM550.4 317.7h2.9v11.1h-2.9zM556.1 317.7h8.6v11.1h-8.6zM567.4 317.7h2.9v11.1h-2.9zM573.1 317.7h2.9v11.1h-2.9zM581.7 317.7h2.9v11.1h-2.9zM610.1 317.7h2.9v11.1h-2.9zM618.7 317.7h22.8v11.1h-22.8zM644.3 317.7h2.9v11.1h-2.9zM650.0 317.7h2.9v11.1h-2.9zM669.9 317.7h5.7v11.1h-5.7zM686.9 317.7h22.8v11.1h-22.8zM712.5 317.7h2.9v11.1h-2.9zM718.2 317.7h5.7v11.1h-5.7zM746.7 317.7h5.7v11.1h-5.7zM780.8 317.7h2.9v11.1h-2.9zM786.5 317.7h8.6v11.1h-8.6zM797.9 317.7h8.6v11.1h-8.6zM812.1 317.7h2.9v11.1h-2.9zM817.8 317.7h2.9v11.1h-2.9zM95.1 328.8h2.9v11.1h-2.9zM157.7 328.8h8.6v11.1h-8.6zM174.8 328.8h2.9v11.1h-2.9zM186.2 328.8h2.9v11.1h-2.9zM197.6 328.8h2.9v11.1h-2.9zM211.8 328.8h2.9v11.1h-2.9zM231.7 328.8h2.9v11.1h-2.9zM240.2 328.8h2.9v11.1h-2.9zM280.1 328.8h2.9v11.1h-2.9zM285.8 328.8h2.9v11.1h-2.9zM291.5 328.8h2.9v11.1h-2.9zM314.2 328.8h5.7v11.1h-5.7zM328.4 328.8h2.9v11.1h-2.9zM337.0 328.8h2.9v11.1h-2.9zM348.4 328.8h2.9v11.1h-2.9zM354.1 328.8h2.9v11.1h-2.9zM365.4 328.8h2.9v11.1h-2.9zM376.8 328.8h2.9v11.1h-2.9zM393.9 328.8h5.7v11.1h-5.7zM408.1 328.8h5.7v11.1h-5.7zM416.6 328.8h2.9v11.1h-2.9zM439.4 328.8h2.9v11.1h-2.9zM456.5 328.8h2.9v11.1h-2.9zM493.5 328.8h2.9v11.1h-2.9zM499.2 328.8h2.9v11.1h-2.9zM507.7 328.8h2.9v11.1h-2.9zM533.3 328.8h5.7v11.1h-5.7zM553.2 328.8h2.9v11.1h-2.9zM587.4 328.8h2.9v11.1h-2.9zM610.1 328.8h2.9v11.1h-2.9zM615.8 328.8h2.9v11.1h-2.9zM621.5 328.8h2.9v11.1h-2.9zM669.9 328.8h2.9v11.1h-2.9zM675.6 328.8h5.7v11.1h-5.7zM686.9 328.8h2.9v11.1h-2.9zM695.5 328.8h2.9v11.1h-2.9zM701.2 328.8h2.9v11.1h-2.9zM738.2 328.8h5.7v11.1h-5.7zM755.2 328.8h2.9v11.1h-2.9zM786.5 328.8h2.9v11.1h-2.9zM795.1 328.8h2.9v11.1h-2.9zM803.6 328.8h2.9v11.1h-2.9zM812.1 328.8h2.9v11.1h-2.9zM69.5 351.0h5.7v11.1h-5.7zM78.1 351.0h2.9v11.1h-2.9zM83.8 351.0h2.9v11.1h-2.9zM126.4 351.0h2.9v11.1h-2.9zM137.8 351.0h11.4v11.1h-11.4zM154.9 351.0h5.7v11.1h-5.7zM163.4 351.0h2.9v11.1h-2.9zM169.1 351.0h2.9v11.1h-2.9zM180.5 351.0h2.9v11.1h-2.9zM191.9 351.0h8.6v11.1h-8.6zM203.3 351.0h2.9v11.1h-2.9zM211.8 351.0h2.9v11.1h-2.9zM217.5 351.0h8.6v11.1h-8.6zM228.9 351.0h2.9v11.1h-2.9zM237.4 351.0h5.7v11.1h-5.7zM251.6 351.0h2.9v11.1h-2.9zM282.9 351.0h2.9v11.1h-2.9zM294.3 351.0h8.6v11.1h-8.6zM311.4 351.0h2.9v11.1h-2.9zM345.5 351.0h5.7v11.1h-5.7zM356.9 351.0h8.6v11.1h-8.6zM371.1 351.0h2.9v11.1h-2.9zM376.8 351.0h2.9v11.1h-2.9zM391.0 351.0h2.9v11.1h-2.9zM396.7 351.0h5.7v11.1h-5.7zM408.1 351.0h2.9v11.1h-2.9zM425.2 351.0h2.9v11.1h-2.9zM430.9 351.0h2.9v11.1h-2.9zM453.6 351.0h5.7v11.1h-5.7zM465.0 351.0h2.9v11.1h-2.9zM476.4 351.0h2.9v11.1h-2.9zM482.1 351.0h2.9v11.1h-2.9zM510.5 351.0h2.9v11.1h-2.9zM527.6 351.0h2.9v11.1h-2.9zM536.1 351.0h2.9v11.1h-2.9zM541.8 351.0h2.9v11.1h-2.9zM547.5 351.0h5.7v11.1h-5.7zM567.4 351.0h2.9v11.1h-2.9zM576.0 351.0h2.9v11.1h-2.9zM686.9 351.0h2.9v11.1h-2.9zM695.5 351.0h2.9v11.1h-2.9zM709.7 351.0h2.9v11.1h-2.9zM718.2 351.0h2.9v11.1h-2.9zM723.9 351.0h2.9v11.1h-2.9zM732.5 351.0h2.9v11.1h-2.9zM741.0 351.0h5.7v11.1h-5.7zM817.8 351.0h5.7v11.1h-5.7zM75.2 362.1h8.6v15.1h-8.6zM177.7 362.1h2.9v15.1h-2.9zM189.0 362.1h2.9v15.1h-2.9zM203.3 362.1h2.9v15.1h-2.9zM268.7 362.1h2.9v15.1h-2.9zM285.8 362.1h2.9v15.1h-2.9zM325.6 362.1h2.9v15.1h-2.9zM362.6 362.1h2.9v15.1h-2.9zM419.5 362.1h2.9v15.1h-2.9zM482.1 362.1h5.7v15.1h-5.7zM496.3 362.1h2.9v15.1h-2.9zM504.8 362.1h2.9v15.1h-2.9zM519.1 362.1h2.9v15.1h-2.9zM524.8 362.1h2.9v15.1h-2.9zM598.7 362.1h2.9v15.1h-2.9zM644.3 362.1h2.9v15.1h-2.9zM672.7 362.1h2.9v15.1h-2.9zM715.4 362.1h2.9v15.1h-2.9zM746.7 362.1h2.9v15.1h-2.9z"/><path fill="#2aae7f" d="M83.8 58.6h5.7v15.1h-5.7zM137.8 58.6h8.6v15.1h-8.6zM189.0 58.6h2.9v15.1h-2.9zM217.5 58.6h8.6v15.1h-8.6zM260.2 58.6h5.7v15.1h-5.7zM282.9 58.6h2.9v15.1h-2.9zM294.3 58.6h11.4v15.1h-11.4zM311.4 58.6h5.7v15.1h-5.7zM337.0 58.6h5.7v15.1h-5.7zM348.4 58.6h2.9v15.1h-2.9zM354.1 58.6h2.9v15.1h-2.9zM374.0 58.6h2.9v15.1h-2.9zM391.0 58.6h2.9v15.1h-2.9zM396.7 58.6h2.9v15.1h-2.9zM408.1 58.6h8.6v15.1h-8.6zM436.6 58.6h11.4v15.1h-11.4zM465.0 58.6h2.9v15.1h-2.9zM493.5 58.6h5.7v15.1h-5.7zM527.6 58.6h5.7v15.1h-5.7zM544.7 58.6h2.9v15.1h-2.9zM564.6 58.6h2.9v15.1h-2.9zM573.1 58.6h2.9v15.1h-2.9zM581.7 58.6h5.7v15.1h-5.7zM595.9 58.6h2.9v15.1h-2.9zM610.1 58.6h2.9v15.1h-2.9zM635.7 58.6h2.9v15.1h-2.9zM650.0 58.6h2.9v15.1h-2.9zM655.6 58.6h5.7v15.1h-5.7zM681.3 58.6h2.9v15.1h-2.9zM686.9 58.6h11.4v15.1h-11.4zM701.2 58.6h2.9v15.1h-2.9zM709.7 58.6h2.9v15.1h-2.9zM741.0 58.6h2.9v15.1h-2.9zM746.7 58.6h5.7v15.1h-5.7zM758.1 58.6h2.9v15.1h-2.9zM789.4 58.6h11.4v15.1h-11.4zM92.3 73.7h2.9v11.1h-2.9zM109.4 73.7h2.9v11.1h-2.9zM146.4 73.7h2.9v11.1h-2.9zM200.4 73.7h2.9v11.1h-2.9zM228.9 73.7h2.9v11.1h-2.9zM260.2 73.7h2.9v11.1h-2.9zM268.7 73.7h2.9v11.1h-2.9zM285.8 73.7h2.9v11.1h-2.9zM311.4 73.7h2.9v11.1h-2.9zM359.7 73.7h2.9v11.1h-2.9zM376.8 73.7h2.9v11.1h-2.9zM402.4 73.7h2.9v11.1h-2.9zM433.7 73.7h2.9v11.1h-2.9zM453.6 73.7h2.9v11.1h-2.9zM470.7 73.7h2.9v11.1h-2.9zM482.1 73.7h2.9v11.1h-2.9zM504.8 73.7h5.7v11.1h-5.7zM516.2 73.7h2.9v11.1h-2.9zM547.5 73.7h2.9v11.1h-2.9zM553.2 73.7h2.9v11.1h-2.9zM578.8 73.7h2.9v11.1h-2.9zM610.1 73.7h2.9v11.1h-2.9zM627.2 73.7h2.9v11.1h-2.9zM655.6 73.7h2.9v11.1h-2.9zM667.0 73.7h5.7v11.1h-5.7zM684.1 73.7h2.9v11.1h-2.9zM160.6 84.8h2.9v11.1h-2.9zM75.2 107.0h5.7v11.1h-5.7zM83.8 107.0h11.4v11.1h-11.4zM117.9 107.0h2.9v11.1h-2.9zM123.6 107.0h2.9v11.1h-2.9zM129.3 107.0h2.9v11.1h-2.9zM135.0 107.0h5.7v11.1h-5.7zM143.5 107.0h2.9v11.1h-2.9zM163.4 107.0h11.4v11.1h-11.4zM186.2 107.0h2.9v11.1h-2.9zM191.9 107.0h2.9v11.1h-2.9zM197.6 107.0h2.9v11.1h-2.9zM203.3 107.0h2.9v11.1h-2.9zM214.6 107.0h14.3v11.1h-14.3zM240.2 107.0h2.9v11.1h-2.9zM285.8 107.0h22.8v11.1h-22.8zM311.4 107.0h2.9v11.1h-2.9zM319.9 107.0h2.9v11.1h-2.9zM356.9 107.0h5.7v11.1h-5.7zM368.3 107.0h2.9v11.1h-2.9zM379.7 107.0h2.9v11.1h-2.9zM391.0 107.0h8.6v11.1h-8.6zM408.1 107.0h2.9v11.1h-2.9zM416.6 107.0h2.9v11.1h-2.9zM428.0 107.0h5.7v11.1h-5.7zM436.6 107.0h5.7v11.1h-5.7zM445.1 107.0h2.9v11.1h-2.9zM465.0 107.0h8.6v11.1h-8.6zM476.4 107.0h11.4v11.1h-11.4zM502.0 107.0h11.4v11.1h-11.4zM530.5 107.0h2.9v11.1h-2.9zM558.9 107.0h2.9v11.1h-2.9zM570.3 107.0h8.6v11.1h-8.6zM581.7 107.0h2.9v11.1h-2.9zM587.4 107.0h11.4v11.1h-11.4zM610.1 107.0h2.9v11.1h-2.9zM615.8 107.0h2.9v11.1h-2.9zM621.5 107.0h2.9v11.1h-2.9zM641.4 107.0h14.3v11.1h-14.3zM672.7 107.0h8.6v11.1h-8.6zM684.1 107.0h17.1v11.1h-17.1zM704.0 107.0h5.7v11.1h-5.7zM712.5 107.0h8.6v11.1h-8.6zM726.8 107.0h5.7v11.1h-5.7zM786.5 107.0h2.9v11.1h-2.9zM792.2 107.0h2.9v11.1h-2.9zM815.0 107.0h5.7v11.1h-5.7zM63.8 118.1h2.9v11.1h-2.9zM72.4 118.1h2.9v11.1h-2.9zM92.3 118.1h2.9v11.1h-2.9zM100.8 118.1h5.7v11.1h-5.7zM112.2 118.1h5.7v11.1h-5.7zM132.1 118.1h2.9v11.1h-2.9zM169.1 118.1h2.9v11.1h-2.9zM194.7 118.1h2.9v11.1h-2.9zM214.6 118.1h2.9v11.1h-2.9zM223.2 118.1h5.7v11.1h-5.7zM274.4 118.1h5.7v11.1h-5.7zM282.9 118.1h2.9v11.1h-2.9zM308.5 118.1h11.4v11.1h-11.4zM322.8 118.1h2.9v11.1h-2.9zM348.4 118.1h2.9v11.1h-2.9zM356.9 118.1h2.9v11.1h-2.9zM408.1 118.1h2.9v11.1h-2.9zM442.3 118.1h2.9v11.1h-2.9zM459.3 118.1h2.9v11.1h-2.9zM476.4 118.1h2.9v11.1h-2.9zM487.8 118.1h2.9v11.1h-2.9zM496.3 118.1h5.7v11.1h-5.7zM516.2 118.1h8.6v11.1h-8.6zM536.1 118.1h2.9v11.1h-2.9zM624.3 118.1h5.7v11.1h-5.7zM669.9 118.1h2.9v11.1h-2.9zM689.8 118.1h2.9v11.1h-2.9zM704.0 118.1h5.7v11.1h-5.7zM723.9 118.1h2.9v11.1h-2.9zM735.3 118.1h2.9v11.1h-2.9zM758.1 118.1h2.9v11.1h-2.9zM763.8 118.1h2.9v11.1h-2.9zM769.5 118.1h11.4v11.1h-11.4zM809.3 118.1h2.9v11.1h-2.9zM57.0 151.3h12.6v11.1h-12.6zM89.5 151.3h2.9v11.1h-2.9zM109.4 151.3h2.9v11.1h-2.9zM163.4 151.3h2.9v11.1h-2.9zM189.0 151.3h2.9v11.1h-2.9zM211.8 151.3h2.9v11.1h-2.9zM251.6 151.3h5.7v11.1h-5.7zM302.8 151.3h5.7v11.1h-5.7zM314.2 151.3h2.9v11.1h-2.9zM342.7 151.3h2.9v11.1h-2.9zM351.2 151.3h2.9v11.1h-2.9zM374.0 151.3h2.9v11.1h-2.9zM379.7 151.3h2.9v11.1h-2.9zM408.1 151.3h5.7v11.1h-5.7zM428.0 151.3h2.9v11.1h-2.9zM465.0 151.3h2.9v11.1h-2.9zM479.2 151.3h2.9v11.1h-2.9zM493.5 151.3h2.9v11.1h-2.9zM513.4 151.3h8.6v11.1h-8.6zM627.2 151.3h2.9v11.1h-2.9zM658.5 151.3h2.9v11.1h-2.9zM755.2 151.3h2.9v11.1h-2.9zM786.5 151.3h5.7v11.1h-5.7zM815.0 151.3h2.9v11.1h-2.9zM63.8 162.4h5.7v11.1h-5.7zM126.4 162.4h2.9v11.1h-2.9zM132.1 162.4h2.9v11.1h-2.9zM174.8 162.4h2.9v11.1h-2.9zM265.9 162.4h2.9v11.1h-2.9zM319.9 162.4h2.9v11.1h-2.9zM442.3 162.4h2.9v11.1h-2.9zM456.5 162.4h2.9v11.1h-2.9zM467.9 162.4h2.9v11.1h-2.9zM527.6 162.4h2.9v11.1h-2.9zM610.1 162.4h2.9v11.1h-2.9zM704.0 162.4h2.9v11.1h-2.9zM806.4 162.4h2.9v11.1h-2.9zM194.7 173.5h2.9v11.1h-2.9zM245.9 173.5h2.9v11.1h-2.9zM251.6 173.5h2.9v11.1h-2.9zM257.3 173.5h2.9v11.1h-2.9zM362.6 173.5h2.9v11.1h-2.9zM385.4 173.5h2.9v11.1h-2.9zM436.6 173.5h2.9v11.1h-2.9zM513.4 173.5h2.9v11.1h-2.9zM712.5 173.5h2.9v11.1h-2.9zM729.6 173.5h5.7v11.1h-5.7zM806.4 173.5h2.9v11.1h-2.9zM57.0 184.6h9.7v11.1h-9.7zM72.4 184.6h2.9v11.1h-2.9zM123.6 184.6h2.9v11.1h-2.9zM135.0 184.6h2.9v11.1h-2.9zM152.0 184.6h2.9v11.1h-2.9zM169.1 184.6h2.9v11.1h-2.9zM174.8 184.6h5.7v11.1h-5.7zM189.0 184.6h2.9v11.1h-2.9zM248.8 184.6h2.9v11.1h-2.9zM254.5 184.6h2.9v11.1h-2.9zM274.4 184.6h2.9v11.1h-2.9zM288.6 184.6h2.9v11.1h-2.9zM374.0 184.6h5.7v11.1h-5.7zM396.7 184.6h2.9v11.1h-2.9zM413.8 184.6h2.9v11.1h-2.9zM450.8 184.6h8.6v11.1h-8.6zM465.0 184.6h11.4v11.1h-11.4zM482.1 184.6h2.9v11.1h-2.9zM502.0 184.6h5.7v11.1h-5.7zM513.4 184.6h2.9v11.1h-2.9zM530.5 184.6h2.9v11.1h-2.9zM536.1 184.6h5.7v11.1h-5.7zM576.0 184.6h5.7v11.1h-5.7zM587.4 184.6h2.9v11.1h-2.9zM593.0 184.6h8.6v11.1h-8.6zM615.8 184.6h2.9v11.1h-2.9zM650.0 184.6h2.9v11.1h-2.9zM664.2 184.6h2.9v11.1h-2.9zM689.8 184.6h2.9v11.1h-2.9zM712.5 184.6h2.9v11.1h-2.9zM729.6 184.6h5.7v11.1h-5.7zM758.1 184.6h5.7v11.1h-5.7zM772.3 184.6h2.9v11.1h-2.9zM783.7 184.6h2.9v11.1h-2.9zM812.1 184.6h2.9v11.1h-2.9zM83.8 195.7h2.9v11.1h-2.9zM132.1 195.7h2.9v11.1h-2.9zM154.9 195.7h2.9v11.1h-2.9zM160.6 195.7h2.9v11.1h-2.9zM177.7 195.7h2.9v11.1h-2.9zM194.7 195.7h2.9v11.1h-2.9zM228.9 195.7h2.9v11.1h-2.9zM288.6 195.7h8.6v11.1h-8.6zM322.8 195.7h2.9v11.1h-2.9zM339.8 195.7h2.9v11.1h-2.9zM399.6 195.7h2.9v11.1h-2.9zM413.8 195.7h2.9v11.1h-2.9zM419.5 195.7h5.7v11.1h-5.7zM439.4 195.7h2.9v11.1h-2.9zM450.8 195.7h2.9v11.1h-2.9zM550.4 195.7h2.9v11.1h-2.9zM593.0 195.7h2.9v11.1h-2.9zM749.5 195.7h2.9v11.1h-2.9zM89.5 229.0h5.7v11.1h-5.7zM109.4 229.0h5.7v11.1h-5.7zM120.7 229.0h2.9v11.1h-2.9zM126.4 229.0h8.6v11.1h-8.6zM137.8 229.0h8.6v11.1h-8.6zM180.5 229.0h8.6v11.1h-8.6zM191.9 229.0h2.9v11.1h-2.9zM200.4 229.0h8.6v11.1h-8.6zM265.9 229.0h5.7v11.1h-5.7zM274.4 229.0h5.7v11.1h-5.7zM282.9 229.0h2.9v11.1h-2.9zM308.5 229.0h2.9v11.1h-2.9zM314.2 229.0h2.9v11.1h-2.9zM365.4 229.0h2.9v11.1h-2.9zM382.5 229.0h2.9v11.1h-2.9zM402.4 229.0h5.7v11.1h-5.7zM425.2 229.0h2.9v11.1h-2.9zM445.1 229.0h5.7v11.1h-5.7zM479.2 229.0h2.9v11.1h-2.9zM484.9 229.0h5.7v11.1h-5.7zM556.1 229.0h2.9v11.1h-2.9zM578.8 229.0h2.9v11.1h-2.9zM598.7 229.0h8.6v11.1h-8.6zM610.1 229.0h2.9v11.1h-2.9zM627.2 229.0h2.9v11.1h-2.9zM689.8 229.0h2.9v11.1h-2.9zM695.5 229.0h5.7v11.1h-5.7zM732.5 229.0h5.7v11.1h-5.7zM741.0 229.0h2.9v11.1h-2.9zM746.7 229.0h2.9v11.1h-2.9zM755.2 229.0h8.6v11.1h-8.6zM610.1 240.1h2.9v11.1h-2.9zM661.3 240.1h2.9v11.1h-2.9zM75.2 251.2h11.4v11.1h-11.4zM743.8 251.2h14.3v11.1h-14.3zM223.2 284.5h5.7v11.1h-5.7zM240.2 284.5h5.7v11.1h-5.7zM288.6 284.5h2.9v11.1h-2.9zM311.4 284.5h2.9v11.1h-2.9zM385.4 284.5h2.9v11.1h-2.9zM319.9 295.6h11.4v11.1h-11.4zM459.3 295.6h8.6v11.1h-8.6zM470.7 295.6h2.9v11.1h-2.9zM143.5 306.6h2.9v11.1h-2.9zM149.2 306.6h2.9v11.1h-2.9zM576.0 306.6h2.9v11.1h-2.9zM277.2 317.7h2.9v11.1h-2.9zM439.4 317.7h8.6v11.1h-8.6zM590.2 317.7h2.9v11.1h-2.9zM257.3 339.9h8.6v11.1h-8.6zM271.5 339.9h5.7v11.1h-5.7zM282.9 339.9h2.9v11.1h-2.9zM288.6 339.9h8.6v11.1h-8.6zM302.8 339.9h5.7v11.1h-5.7zM314.2 339.9h2.9v11.1h-2.9zM328.4 339.9h2.9v11.1h-2.9zM334.1 339.9h2.9v11.1h-2.9zM354.1 339.9h2.9v11.1h-2.9zM359.7 339.9h5.7v11.1h-5.7zM368.3 339.9h2.9v11.1h-2.9zM374.0 339.9h11.4v11.1h-11.4zM388.2 339.9h2.9v11.1h-2.9zM393.9 339.9h5.7v11.1h-5.7zM405.3 339.9h2.9v11.1h-2.9zM413.8 339.9h14.3v11.1h-14.3zM436.6 339.9h2.9v11.1h-2.9zM445.1 339.9h5.7v11.1h-5.7zM459.3 339.9h5.7v11.1h-5.7zM467.9 339.9h8.6v11.1h-8.6zM487.8 339.9h2.9v11.1h-2.9zM507.7 339.9h5.7v11.1h-5.7zM519.1 339.9h5.7v11.1h-5.7zM527.6 339.9h2.9v11.1h-2.9zM539.0 339.9h2.9v11.1h-2.9zM544.7 339.9h2.9v11.1h-2.9zM561.8 339.9h2.9v11.1h-2.9zM570.3 339.9h2.9v11.1h-2.9zM576.0 339.9h5.7v11.1h-5.7zM598.7 339.9h20.0v11.1h-20.0zM624.3 339.9h34.2v11.1h-34.2zM661.3 339.9h5.7v11.1h-5.7zM669.9 339.9h11.4v11.1h-11.4zM684.1 339.9h5.7v11.1h-5.7zM692.6 339.9h2.9v11.1h-2.9zM698.3 339.9h5.7v11.1h-5.7zM709.7 339.9h2.9v11.1h-2.9zM715.4 339.9h5.7v11.1h-5.7zM723.9 339.9h2.9v11.1h-2.9zM729.6 339.9h11.4v11.1h-11.4zM743.8 339.9h8.6v11.1h-8.6zM758.1 339.9h17.1v11.1h-17.1zM780.8 339.9h5.7v11.1h-5.7zM795.1 339.9h2.9v11.1h-2.9zM800.7 339.9h2.9v11.1h-2.9zM815.0 339.9h2.9v11.1h-2.9zM820.7 339.9h5.7v11.1h-5.7zM112.2 362.1h2.9v15.1h-2.9zM117.9 362.1h2.9v15.1h-2.9zM129.3 362.1h2.9v15.1h-2.9zM172.0 362.1h5.7v15.1h-5.7zM206.1 362.1h2.9v15.1h-2.9zM214.6 362.1h2.9v15.1h-2.9zM223.2 362.1h2.9v15.1h-2.9zM254.5 362.1h2.9v15.1h-2.9zM263.0 362.1h2.9v15.1h-2.9zM305.7 362.1h2.9v15.1h-2.9zM328.4 362.1h2.9v15.1h-2.9zM365.4 362.1h2.9v15.1h-2.9zM374.0 362.1h2.9v15.1h-2.9zM487.8 362.1h2.9v15.1h-2.9zM576.0 362.1h2.9v15.1h-2.9zM593.0 362.1h2.9v15.1h-2.9zM610.1 362.1h2.9v15.1h-2.9zM621.5 362.1h2.9v15.1h-2.9zM647.1 362.1h2.9v15.1h-2.9zM655.6 362.1h2.9v15.1h-2.9zM789.4 362.1h2.9v15.1h-2.9zM823.5 362.1h9.7v15.1h-9.7z"/><path fill="#229c88" d="M268.7 58.6h2.9v15.1h-2.9zM510.5 58.6h2.9v15.1h-2.9zM766.6 58.6h2.9v15.1h-2.9zM817.8 58.6h2.9v15.1h-2.9zM826.4 58.6h6.9v15.1h-6.9zM63.8 73.7h5.7v11.1h-5.7zM689.8 73.7h2.9v11.1h-2.9zM701.2 73.7h5.7v11.1h-5.7zM718.2 73.7h5.7v11.1h-5.7zM729.6 73.7h2.9v11.1h-2.9zM741.0 73.7h5.7v11.1h-5.7zM760.9 73.7h14.3v11.1h-14.3zM783.7 73.7h5.7v11.1h-5.7zM795.1 73.7h2.9v11.1h-2.9zM69.5 84.8h2.9v11.1h-2.9zM627.2 84.8h5.7v11.1h-5.7zM701.2 84.8h2.9v11.1h-2.9zM712.5 84.8h5.7v11.1h-5.7zM763.8 84.8h2.9v11.1h-2.9zM797.9 84.8h11.4v11.1h-11.4zM704.0 95.9h2.9v11.1h-2.9zM726.8 95.9h2.9v11.1h-2.9zM755.2 95.9h8.6v11.1h-8.6zM803.6 95.9h5.7v11.1h-5.7zM450.8 118.1h2.9v11.1h-2.9zM601.6 129.2h2.9v11.1h-2.9zM607.3 129.2h2.9v11.1h-2.9zM661.3 129.2h2.9v11.1h-2.9zM57.0 140.2h6.9v11.1h-6.9zM120.7 140.2h2.9v11.1h-2.9zM126.4 140.2h2.9v11.1h-2.9zM217.5 140.2h2.9v11.1h-2.9zM226.0 140.2h2.9v11.1h-2.9zM263.0 140.2h5.7v11.1h-5.7zM274.4 140.2h5.7v11.1h-5.7zM297.2 140.2h2.9v11.1h-2.9zM322.8 140.2h2.9v11.1h-2.9zM356.9 140.2h5.7v11.1h-5.7zM393.9 140.2h2.9v11.1h-2.9zM479.2 140.2h2.9v11.1h-2.9zM496.3 140.2h2.9v11.1h-2.9zM519.1 140.2h2.9v11.1h-2.9zM789.4 140.2h5.7v11.1h-5.7zM800.7 140.2h5.7v11.1h-5.7zM72.4 162.4h11.4v11.1h-11.4zM456.5 173.5h2.9v11.1h-2.9zM519.1 173.5h2.9v11.1h-2.9zM553.2 173.5h2.9v11.1h-2.9zM564.6 173.5h2.9v11.1h-2.9zM749.5 173.5h2.9v11.1h-2.9zM817.8 173.5h2.9v11.1h-2.9zM641.4 184.6h2.9v11.1h-2.9zM280.1 195.7h2.9v11.1h-2.9zM732.5 195.7h5.7v11.1h-5.7zM789.4 195.7h2.9v11.1h-2.9zM98.0 206.8h2.9v11.1h-2.9zM115.1 206.8h2.9v11.1h-2.9zM183.3 206.8h2.9v11.1h-2.9zM234.6 206.8h2.9v11.1h-2.9zM257.3 206.8h2.9v11.1h-2.9zM499.2 206.8h2.9v11.1h-2.9zM513.4 206.8h11.4v11.1h-11.4zM527.6 206.8h11.4v11.1h-11.4zM547.5 206.8h2.9v11.1h-2.9zM553.2 206.8h5.7v11.1h-5.7zM593.0 206.8h5.7v11.1h-5.7zM601.6 206.8h8.6v11.1h-8.6zM615.8 206.8h20.0v11.1h-20.0zM647.1 206.8h2.9v11.1h-2.9zM783.7 206.8h5.7v11.1h-5.7zM795.1 206.8h5.7v11.1h-5.7zM206.1 217.9h2.9v11.1h-2.9zM467.9 229.0h2.9v11.1h-2.9zM473.6 229.0h2.9v11.1h-2.9zM803.6 229.0h2.9v11.1h-2.9zM664.2 240.1h2.9v11.1h-2.9zM678.4 240.1h2.9v11.1h-2.9zM780.8 240.1h5.7v11.1h-5.7zM132.1 251.2h2.9v11.1h-2.9zM137.8 251.2h2.9v11.1h-2.9zM146.4 251.2h5.7v11.1h-5.7zM180.5 251.2h5.7v11.1h-5.7zM300.0 251.2h8.6v11.1h-8.6zM314.2 251.2h2.9v11.1h-2.9zM319.9 251.2h2.9v11.1h-2.9zM504.8 251.2h5.7v11.1h-5.7zM533.3 251.2h2.9v11.1h-2.9zM541.8 251.2h11.4v11.1h-11.4zM800.7 251.2h5.7v11.1h-5.7zM815.0 251.2h2.9v11.1h-2.9zM191.9 262.3h2.9v11.1h-2.9zM200.4 262.3h2.9v11.1h-2.9zM374.0 262.3h2.9v11.1h-2.9zM382.5 262.3h2.9v11.1h-2.9zM388.2 262.3h2.9v11.1h-2.9zM422.3 262.3h2.9v11.1h-2.9zM465.0 262.3h2.9v11.1h-2.9zM550.4 262.3h5.7v11.1h-5.7zM558.9 262.3h8.6v11.1h-8.6zM573.1 262.3h17.1v11.1h-17.1zM624.3 262.3h2.9v11.1h-2.9zM706.9 262.3h2.9v11.1h-2.9zM712.5 262.3h2.9v11.1h-2.9zM726.8 262.3h5.7v11.1h-5.7zM735.3 262.3h5.7v11.1h-5.7zM758.1 262.3h2.9v11.1h-2.9zM789.4 262.3h2.9v11.1h-2.9zM823.5 262.3h2.9v11.1h-2.9zM103.7 273.4h8.6v11.1h-8.6zM117.9 273.4h5.7v11.1h-5.7zM132.1 273.4h2.9v11.1h-2.9zM180.5 273.4h8.6v11.1h-8.6zM493.5 273.4h5.7v11.1h-5.7zM513.4 273.4h2.9v11.1h-2.9zM524.8 273.4h5.7v11.1h-5.7zM601.6 273.4h5.7v11.1h-5.7zM615.8 273.4h2.9v11.1h-2.9zM621.5 273.4h14.3v11.1h-14.3zM641.4 273.4h8.6v11.1h-8.6zM655.6 273.4h17.1v11.1h-17.1zM701.2 273.4h2.9v11.1h-2.9zM706.9 273.4h2.9v11.1h-2.9zM746.7 273.4h2.9v11.1h-2.9zM795.1 273.4h2.9v11.1h-2.9zM812.1 273.4h5.7v11.1h-5.7zM78.1 284.5h2.9v11.1h-2.9zM117.9 284.5h2.9v11.1h-2.9zM132.1 284.5h2.9v11.1h-2.9zM137.8 284.5h5.7v11.1h-5.7zM146.4 284.5h2.9v11.1h-2.9zM319.9 284.5h2.9v11.1h-2.9zM368.3 284.5h2.9v11.1h-2.9zM436.6 284.5h2.9v11.1h-2.9zM442.3 284.5h2.9v11.1h-2.9zM504.8 284.5h5.7v11.1h-5.7zM516.2 284.5h2.9v11.1h-2.9zM533.3 284.5h5.7v11.1h-5.7zM564.6 284.5h2.9v11.1h-2.9zM581.7 284.5h2.9v11.1h-2.9zM655.6 284.5h2.9v11.1h-2.9zM661.3 284.5h5.7v11.1h-5.7zM672.7 284.5h5.7v11.1h-5.7zM681.3 284.5h5.7v11.1h-5.7zM721.1 284.5h2.9v11.1h-2.9zM800.7 284.5h5.7v11.1h-5.7zM809.3 284.5h2.9v11.1h-2.9zM78.1 295.6h2.9v11.1h-2.9zM86.6 295.6h2.9v11.1h-2.9zM123.6 295.6h2.9v11.1h-2.9zM154.9 295.6h2.9v11.1h-2.9zM160.6 295.6h5.7v11.1h-5.7zM169.1 295.6h2.9v11.1h-2.9zM180.5 295.6h8.6v11.1h-8.6zM191.9 295.6h5.7v11.1h-5.7zM208.9 295.6h2.9v11.1h-2.9zM226.0 295.6h5.7v11.1h-5.7zM257.3 295.6h2.9v11.1h-2.9zM265.9 295.6h2.9v11.1h-2.9zM709.7 295.6h2.9v11.1h-2.9zM732.5 295.6h11.4v11.1h-11.4zM763.8 295.6h2.9v11.1h-2.9zM803.6 295.6h2.9v11.1h-2.9zM812.1 295.6h5.7v11.1h-5.7zM823.5 295.6h9.7v11.1h-9.7zM345.5 306.6h2.9v11.1h-2.9zM504.8 306.6h2.9v11.1h-2.9zM587.4 306.6h2.9v11.1h-2.9zM823.5 306.6h2.9v11.1h-2.9zM103.7 317.7h5.7v11.1h-5.7zM223.2 317.7h2.9v11.1h-2.9zM228.9 317.7h2.9v11.1h-2.9zM294.3 317.7h2.9v11.1h-2.9zM319.9 317.7h5.7v11.1h-5.7zM328.4 317.7h2.9v11.1h-2.9zM339.8 317.7h2.9v11.1h-2.9zM348.4 317.7h5.7v11.1h-5.7zM376.8 317.7h2.9v11.1h-2.9zM408.1 317.7h2.9v11.1h-2.9zM430.9 317.7h2.9v11.1h-2.9zM513.4 317.7h2.9v11.1h-2.9zM647.1 317.7h2.9v11.1h-2.9zM675.6 317.7h2.9v11.1h-2.9zM715.4 317.7h2.9v11.1h-2.9zM758.1 317.7h2.9v11.1h-2.9zM100.8 328.8h2.9v11.1h-2.9zM112.2 328.8h2.9v11.1h-2.9zM132.1 328.8h2.9v11.1h-2.9zM137.8 328.8h5.7v11.1h-5.7zM57.0 351.0h6.9v11.1h-6.9zM280.1 351.0h2.9v11.1h-2.9zM334.1 351.0h5.7v11.1h-5.7zM351.2 351.0h2.9v11.1h-2.9zM618.7 351.0h5.7v11.1h-5.7zM641.4 351.0h2.9v11.1h-2.9zM667.0 351.0h2.9v11.1h-2.9zM758.1 351.0h2.9v11.1h-2.9zM772.3 351.0h2.9v11.1h-2.9zM778.0 351.0h5.7v11.1h-5.7zM792.2 351.0h2.9v11.1h-2.9zM809.3 351.0h8.6v11.1h-8.6z"/><path fill="#21918c" d="M368.3 58.6h2.9v15.1h-2.9zM780.8 58.6h2.9v15.1h-2.9zM593.0 73.7h2.9v11.1h-2.9zM692.6 73.7h2.9v11.1h-2.9zM723.9 73.7h2.9v11.1h-2.9zM789.4 73.7h2.9v11.1h-2.9zM106.5 84.8h2.9v11.1h-2.9zM177.7 84.8h2.9v11.1h-2.9zM578.8 84.8h2.9v11.1h-2.9zM624.3 84.8h2.9v11.1h-2.9zM686.9 84.8h8.6v11.1h-8.6zM726.8 84.8h2.9v11.1h-2.9zM817.8 84.8h2.9v11.1h-2.9zM95.1 95.9h5.7v11.1h-5.7zM132.1 95.9h2.9v11.1h-2.9zM243.1 95.9h2.9v11.1h-2.9zM308.5 95.9h5.7v11.1h-5.7zM490.6 95.9h2.9v11.1h-2.9zM587.4 95.9h2.9v11.1h-2.9zM601.6 95.9h2.9v11.1h-2.9zM627.2 95.9h5.7v11.1h-5.7zM681.3 95.9h8.6v11.1h-8.6zM698.3 95.9h2.9v11.1h-2.9zM715.4 95.9h2.9v11.1h-2.9zM735.3 95.9h2.9v11.1h-2.9zM746.7 95.9h2.9v11.1h-2.9zM780.8 95.9h2.9v11.1h-2.9zM786.5 95.9h2.9v11.1h-2.9zM809.3 95.9h2.9v11.1h-2.9zM817.8 95.9h2.9v11.1h-2.9zM613.0 107.0h2.9v11.1h-2.9zM755.2 107.0h5.7v11.1h-5.7zM820.7 107.0h2.9v11.1h-2.9zM106.5 118.1h5.7v11.1h-5.7zM177.7 118.1h2.9v11.1h-2.9zM257.3 118.1h2.9v11.1h-2.9zM265.9 118.1h2.9v11.1h-2.9zM334.1 118.1h2.9v11.1h-2.9zM422.3 118.1h2.9v11.1h-2.9zM595.9 118.1h2.9v11.1h-2.9zM638.6 118.1h2.9v11.1h-2.9zM675.6 118.1h2.9v11.1h-2.9zM786.5 118.1h5.7v11.1h-5.7zM817.8 118.1h2.9v11.1h-2.9zM66.7 129.2h2.9v11.1h-2.9zM103.7 129.2h2.9v11.1h-2.9zM140.7 129.2h2.9v11.1h-2.9zM325.6 129.2h2.9v11.1h-2.9zM513.4 129.2h2.9v11.1h-2.9zM553.2 129.2h2.9v11.1h-2.9zM578.8 129.2h2.9v11.1h-2.9zM638.6 129.2h2.9v11.1h-2.9zM644.3 129.2h2.9v11.1h-2.9zM89.5 140.2h2.9v11.1h-2.9zM152.0 140.2h2.9v11.1h-2.9zM288.6 140.2h5.7v11.1h-5.7zM351.2 140.2h5.7v11.1h-5.7zM465.0 140.2h2.9v11.1h-2.9zM470.7 140.2h2.9v11.1h-2.9zM618.7 140.2h2.9v11.1h-2.9zM675.6 140.2h2.9v11.1h-2.9zM695.5 140.2h2.9v11.1h-2.9zM704.0 140.2h2.9v11.1h-2.9zM723.9 140.2h5.7v11.1h-5.7zM743.8 140.2h2.9v11.1h-2.9zM809.3 140.2h2.9v11.1h-2.9zM112.2 151.3h2.9v11.1h-2.9zM126.4 151.3h5.7v11.1h-5.7zM143.5 151.3h2.9v11.1h-2.9zM154.9 151.3h2.9v11.1h-2.9zM223.2 151.3h2.9v11.1h-2.9zM237.4 151.3h2.9v11.1h-2.9zM544.7 151.3h2.9v11.1h-2.9zM743.8 151.3h2.9v11.1h-2.9zM758.1 151.3h2.9v11.1h-2.9zM106.5 162.4h2.9v11.1h-2.9zM154.9 162.4h2.9v11.1h-2.9zM206.1 162.4h2.9v11.1h-2.9zM237.4 162.4h2.9v11.1h-2.9zM573.1 162.4h5.7v11.1h-5.7zM590.2 162.4h2.9v11.1h-2.9zM652.8 162.4h2.9v11.1h-2.9zM681.3 162.4h2.9v11.1h-2.9zM692.6 162.4h2.9v11.1h-2.9zM712.5 162.4h2.9v11.1h-2.9zM817.8 162.4h2.9v11.1h-2.9zM826.4 162.4h6.9v11.1h-6.9zM268.7 173.5h2.9v11.1h-2.9zM459.3 173.5h2.9v11.1h-2.9zM502.0 173.5h2.9v11.1h-2.9zM718.2 173.5h2.9v11.1h-2.9zM143.5 184.6h2.9v11.1h-2.9zM351.2 184.6h2.9v11.1h-2.9zM561.8 184.6h2.9v11.1h-2.9zM590.2 184.6h2.9v11.1h-2.9zM601.6 184.6h2.9v11.1h-2.9zM638.6 184.6h2.9v11.1h-2.9zM667.0 184.6h8.6v11.1h-8.6zM746.7 184.6h2.9v11.1h-2.9zM109.4 195.7h2.9v11.1h-2.9zM482.1 195.7h2.9v11.1h-2.9zM658.5 195.7h2.9v11.1h-2.9zM715.4 195.7h5.7v11.1h-5.7zM723.9 195.7h2.9v11.1h-2.9zM738.2 195.7h2.9v11.1h-2.9zM766.6 195.7h2.9v11.1h-2.9zM95.1 206.8h2.9v11.1h-2.9zM135.0 206.8h2.9v11.1h-2.9zM163.4 206.8h2.9v11.1h-2.9zM280.1 206.8h2.9v11.1h-2.9zM371.1 206.8h2.9v11.1h-2.9zM564.6 206.8h5.7v11.1h-5.7zM573.1 206.8h2.9v11.1h-2.9zM581.7 206.8h2.9v11.1h-2.9zM638.6 206.8h2.9v11.1h-2.9zM644.3 206.8h2.9v11.1h-2.9zM652.8 206.8h2.9v11.1h-2.9zM672.7 206.8h2.9v11.1h-2.9zM271.5 217.9h2.9v11.1h-2.9zM425.2 217.9h2.9v11.1h-2.9zM524.8 217.9h2.9v11.1h-2.9zM721.1 217.9h2.9v11.1h-2.9zM743.8 217.9h2.9v11.1h-2.9zM772.3 217.9h2.9v11.1h-2.9zM817.8 217.9h5.7v11.1h-5.7zM106.5 229.0h2.9v11.1h-2.9zM177.7 229.0h2.9v11.1h-2.9zM189.0 229.0h2.9v11.1h-2.9zM208.9 229.0h2.9v11.1h-2.9zM291.5 229.0h2.9v11.1h-2.9zM317.1 229.0h2.9v11.1h-2.9zM345.5 229.0h2.9v11.1h-2.9zM379.7 229.0h2.9v11.1h-2.9zM411.0 229.0h2.9v11.1h-2.9zM439.4 229.0h5.7v11.1h-5.7zM470.7 229.0h2.9v11.1h-2.9zM493.5 229.0h2.9v11.1h-2.9zM561.8 229.0h2.9v11.1h-2.9zM667.0 229.0h2.9v11.1h-2.9zM704.0 229.0h2.9v11.1h-2.9zM743.8 229.0h2.9v11.1h-2.9zM817.8 229.0h2.9v11.1h-2.9zM644.3 240.1h2.9v11.1h-2.9zM760.9 240.1h2.9v11.1h-2.9zM817.8 240.1h2.9v11.1h-2.9zM86.6 251.2h2.9v11.1h-2.9zM143.5 251.2h2.9v11.1h-2.9zM169.1 251.2h2.9v11.1h-2.9zM243.1 251.2h5.7v11.1h-5.7zM428.0 251.2h2.9v11.1h-2.9zM433.7 251.2h2.9v11.1h-2.9zM496.3 251.2h5.7v11.1h-5.7zM521.9 251.2h2.9v11.1h-2.9zM564.6 251.2h2.9v11.1h-2.9zM684.1 251.2h2.9v11.1h-2.9zM723.9 251.2h2.9v11.1h-2.9zM57.0 262.3h6.9v11.1h-6.9zM228.9 262.3h2.9v11.1h-2.9zM280.1 262.3h2.9v11.1h-2.9zM365.4 262.3h2.9v11.1h-2.9zM371.1 262.3h2.9v11.1h-2.9zM411.0 262.3h2.9v11.1h-2.9zM428.0 262.3h2.9v11.1h-2.9zM502.0 262.3h2.9v11.1h-2.9zM507.7 262.3h2.9v11.1h-2.9zM521.9 262.3h8.6v11.1h-8.6zM533.3 262.3h2.9v11.1h-2.9zM541.8 262.3h2.9v11.1h-2.9zM601.6 262.3h2.9v11.1h-2.9zM615.8 262.3h2.9v11.1h-2.9zM632.9 262.3h5.7v11.1h-5.7zM783.7 262.3h2.9v11.1h-2.9zM146.4 273.4h5.7v11.1h-5.7zM422.3 273.4h2.9v11.1h-2.9zM428.0 273.4h2.9v11.1h-2.9zM473.6 273.4h2.9v11.1h-2.9zM484.9 273.4h2.9v11.1h-2.9zM573.1 273.4h5.7v11.1h-5.7zM584.5 273.4h2.9v11.1h-2.9zM595.9 273.4h5.7v11.1h-5.7zM610.1 273.4h5.7v11.1h-5.7zM692.6 273.4h2.9v11.1h-2.9zM709.7 273.4h2.9v11.1h-2.9zM715.4 273.4h8.6v11.1h-8.6zM726.8 273.4h8.6v11.1h-8.6zM752.4 273.4h8.6v11.1h-8.6zM766.6 273.4h8.6v11.1h-8.6zM778.0 273.4h5.7v11.1h-5.7zM66.7 284.5h2.9v11.1h-2.9zM83.8 284.5h5.7v11.1h-5.7zM149.2 284.5h2.9v11.1h-2.9zM447.9 284.5h2.9v11.1h-2.9zM482.1 284.5h8.6v11.1h-8.6zM541.8 284.5h2.9v11.1h-2.9zM604.4 284.5h2.9v11.1h-2.9zM715.4 284.5h2.9v11.1h-2.9zM735.3 284.5h2.9v11.1h-2.9zM746.7 284.5h2.9v11.1h-2.9zM795.1 284.5h5.7v11.1h-5.7zM95.1 295.6h2.9v11.1h-2.9zM248.8 295.6h2.9v11.1h-2.9zM342.7 295.6h2.9v11.1h-2.9zM411.0 295.6h2.9v11.1h-2.9zM578.8 295.6h5.7v11.1h-5.7zM613.0 295.6h2.9v11.1h-2.9zM644.3 295.6h2.9v11.1h-2.9zM692.6 295.6h2.9v11.1h-2.9zM758.1 295.6h2.9v11.1h-2.9zM766.6 295.6h2.9v11.1h-2.9zM792.2 295.6h2.9v11.1h-2.9zM797.9 295.6h2.9v11.1h-2.9zM132.1 306.6h2.9v11.1h-2.9zM166.3 306.6h5.7v11.1h-5.7zM254.5 306.6h2.9v11.1h-2.9zM348.4 306.6h2.9v11.1h-2.9zM391.0 306.6h2.9v11.1h-2.9zM604.4 306.6h2.9v11.1h-2.9zM371.1 317.7h2.9v11.1h-2.9zM593.0 317.7h2.9v11.1h-2.9zM655.6 317.7h2.9v11.1h-2.9zM755.2 317.7h2.9v11.1h-2.9zM775.1 317.7h5.7v11.1h-5.7zM820.7 317.7h2.9v11.1h-2.9zM57.0 328.8h6.9v11.1h-6.9zM126.4 328.8h2.9v11.1h-2.9zM425.2 328.8h2.9v11.1h-2.9zM590.2 328.8h2.9v11.1h-2.9zM681.3 328.8h2.9v11.1h-2.9zM692.6 328.8h2.9v11.1h-2.9zM763.8 328.8h2.9v11.1h-2.9zM769.5 328.8h11.4v11.1h-11.4zM797.9 328.8h2.9v11.1h-2.9zM248.8 351.0h2.9v11.1h-2.9zM382.5 351.0h2.9v11.1h-2.9zM445.1 351.0h2.9v11.1h-2.9zM473.6 351.0h2.9v11.1h-2.9zM704.0 351.0h5.7v11.1h-5.7zM146.4 362.1h5.7v15.1h-5.7z"/><path fill="#3cb975" d="M578.8 58.6h2.9v15.1h-2.9zM317.1 84.8h2.9v11.1h-2.9zM337.0 95.9h2.9v11.1h-2.9zM561.8 240.1h2.9v11.1h-2.9zM613.0 240.1h2.9v11.1h-2.9zM95.1 284.5h2.9v11.1h-2.9zM106.5 284.5h5.7v11.1h-5.7zM234.6 284.5h2.9v11.1h-2.9zM302.8 284.5h2.9v11.1h-2.9zM510.5 284.5h2.9v11.1h-2.9zM817.8 306.6h2.9v11.1h-2.9zM248.8 339.9h5.7v11.1h-5.7zM325.6 339.9h2.9v11.1h-2.9zM408.1 339.9h2.9v11.1h-2.9zM499.2 339.9h5.7v11.1h-5.7z"/><path fill="#33b47a" d="M590.2 58.6h2.9v15.1h-2.9zM752.4 58.6h2.9v15.1h-2.9zM78.1 84.8h2.9v11.1h-2.9zM120.7 107.0h2.9v11.1h-2.9zM189.0 107.0h2.9v11.1h-2.9zM206.1 107.0h2.9v11.1h-2.9zM411.0 107.0h2.9v11.1h-2.9zM499.2 107.0h2.9v11.1h-2.9zM533.3 107.0h2.9v11.1h-2.9zM709.7 107.0h2.9v11.1h-2.9zM789.4 107.0h2.9v11.1h-2.9zM823.5 107.0h9.7v11.1h-9.7zM120.7 118.1h2.9v11.1h-2.9zM490.6 118.1h5.7v11.1h-5.7zM322.8 173.5h5.7v11.1h-5.7zM416.6 173.5h2.9v11.1h-2.9zM422.3 173.5h2.9v11.1h-2.9zM558.9 173.5h2.9v11.1h-2.9zM581.7 173.5h2.9v11.1h-2.9zM157.7 184.6h11.4v11.1h-11.4zM760.9 206.8h5.7v11.1h-5.7zM436.6 217.9h2.9v11.1h-2.9zM800.7 217.9h5.7v11.1h-5.7zM146.4 229.0h2.9v11.1h-2.9zM271.5 229.0h2.9v11.1h-2.9zM558.9 229.0h2.9v11.1h-2.9zM581.7 229.0h2.9v11.1h-2.9zM826.4 229.0h6.9v11.1h-6.9zM482.1 240.1h2.9v11.1h-2.9zM550.4 240.1h2.9v11.1h-2.9zM63.8 251.2h2.9v11.1h-2.9zM803.6 273.4h8.6v11.1h-8.6zM92.3 284.5h2.9v11.1h-2.9zM98.0 284.5h8.6v11.1h-8.6zM112.2 284.5h2.9v11.1h-2.9zM180.5 284.5h5.7v11.1h-5.7zM231.7 284.5h2.9v11.1h-2.9zM237.4 284.5h2.9v11.1h-2.9zM291.5 284.5h11.4v11.1h-11.4zM305.7 284.5h5.7v11.1h-5.7zM314.2 284.5h5.7v11.1h-5.7zM348.4 284.5h8.6v11.1h-8.6zM723.9 284.5h11.4v11.1h-11.4zM467.9 295.6h2.9v11.1h-2.9zM820.7 306.6h2.9v11.1h-2.9zM245.9 339.9h2.9v11.1h-2.9zM254.5 339.9h2.9v11.1h-2.9zM351.2 339.9h2.9v11.1h-2.9zM365.4 339.9h2.9v11.1h-2.9zM371.1 339.9h2.9v11.1h-2.9zM439.4 339.9h2.9v11.1h-2.9zM504.8 339.9h2.9v11.1h-2.9zM513.4 339.9h5.7v11.1h-5.7zM524.8 339.9h2.9v11.1h-2.9zM530.5 339.9h2.9v11.1h-2.9zM550.4 339.9h5.7v11.1h-5.7zM530.5 362.1h2.9v15.1h-2.9z"/><path fill="#21978a" d="M604.4 58.6h2.9v15.1h-2.9zM820.7 58.6h5.7v15.1h-5.7zM132.1 73.7h2.9v11.1h-2.9zM240.2 73.7h2.9v11.1h-2.9zM297.2 73.7h2.9v11.1h-2.9zM302.8 73.7h2.9v11.1h-2.9zM661.3 73.7h5.7v11.1h-5.7zM715.4 73.7h2.9v11.1h-2.9zM66.7 84.8h2.9v11.1h-2.9zM89.5 84.8h2.9v11.1h-2.9zM223.2 84.8h2.9v11.1h-2.9zM248.8 84.8h2.9v11.1h-2.9zM356.9 84.8h8.6v11.1h-8.6zM371.1 84.8h2.9v11.1h-2.9zM411.0 84.8h2.9v11.1h-2.9zM419.5 84.8h2.9v11.1h-2.9zM430.9 84.8h5.7v11.1h-5.7zM632.9 84.8h2.9v11.1h-2.9zM695.5 84.8h5.7v11.1h-5.7zM746.7 84.8h8.6v11.1h-8.6zM758.1 84.8h2.9v11.1h-2.9zM789.4 84.8h2.9v11.1h-2.9zM692.6 95.9h5.7v11.1h-5.7zM706.9 95.9h2.9v11.1h-2.9zM723.9 95.9h2.9v11.1h-2.9zM732.5 95.9h2.9v11.1h-2.9zM738.2 95.9h2.9v11.1h-2.9zM743.8 95.9h2.9v11.1h-2.9zM783.7 95.9h2.9v11.1h-2.9zM815.0 95.9h2.9v11.1h-2.9zM456.5 107.0h2.9v11.1h-2.9zM388.2 118.1h8.6v11.1h-8.6zM578.8 118.1h2.9v11.1h-2.9zM129.3 129.2h2.9v11.1h-2.9zM149.2 129.2h2.9v11.1h-2.9zM692.6 129.2h2.9v11.1h-2.9zM755.2 129.2h2.9v11.1h-2.9zM797.9 129.2h2.9v11.1h-2.9zM123.6 140.2h2.9v11.1h-2.9zM220.3 140.2h2.9v11.1h-2.9zM228.9 140.2h2.9v11.1h-2.9zM598.7 140.2h2.9v11.1h-2.9zM308.5 162.4h2.9v11.1h-2.9zM447.9 162.4h2.9v11.1h-2.9zM558.9 162.4h2.9v11.1h-2.9zM749.5 162.4h2.9v11.1h-2.9zM789.4 162.4h2.9v11.1h-2.9zM738.2 173.5h2.9v11.1h-2.9zM758.1 173.5h2.9v11.1h-2.9zM675.6 184.6h5.7v11.1h-5.7zM282.9 195.7h2.9v11.1h-2.9zM521.9 195.7h8.6v11.1h-8.6zM661.3 195.7h8.6v11.1h-8.6zM769.5 195.7h2.9v11.1h-2.9zM780.8 195.7h2.9v11.1h-2.9zM342.7 206.8h2.9v11.1h-2.9zM476.4 206.8h5.7v11.1h-5.7zM541.8 206.8h2.9v11.1h-2.9zM587.4 206.8h2.9v11.1h-2.9zM635.7 206.8h2.9v11.1h-2.9zM650.0 206.8h2.9v11.1h-2.9zM712.5 206.8h2.9v11.1h-2.9zM823.5 206.8h2.9v11.1h-2.9zM152.0 217.9h2.9v11.1h-2.9zM208.9 217.9h2.9v11.1h-2.9zM243.1 217.9h5.7v11.1h-5.7zM274.4 217.9h2.9v11.1h-2.9zM419.5 217.9h2.9v11.1h-2.9zM456.5 217.9h2.9v11.1h-2.9zM521.9 217.9h2.9v11.1h-2.9zM567.4 217.9h5.7v11.1h-5.7zM584.5 217.9h2.9v11.1h-2.9zM650.0 217.9h2.9v11.1h-2.9zM775.1 217.9h2.9v11.1h-2.9zM140.7 251.2h2.9v11.1h-2.9zM169.1 262.3h2.9v11.1h-2.9zM203.3 262.3h2.9v11.1h-2.9zM223.2 262.3h5.7v11.1h-5.7zM308.5 262.3h2.9v11.1h-2.9zM530.5 262.3h2.9v11.1h-2.9zM567.4 262.3h2.9v11.1h-2.9zM709.7 262.3h2.9v11.1h-2.9zM741.0 262.3h2.9v11.1h-2.9zM786.5 262.3h2.9v11.1h-2.9zM456.5 273.4h2.9v11.1h-2.9zM516.2 273.4h2.9v11.1h-2.9zM521.9 273.4h2.9v11.1h-2.9zM567.4 273.4h5.7v11.1h-5.7zM650.0 273.4h2.9v11.1h-2.9zM672.7 273.4h2.9v11.1h-2.9zM712.5 273.4h2.9v11.1h-2.9zM741.0 273.4h5.7v11.1h-5.7zM749.5 273.4h2.9v11.1h-2.9zM69.5 284.5h2.9v11.1h-2.9zM120.7 284.5h2.9v11.1h-2.9zM194.7 284.5h2.9v11.1h-2.9zM220.3 284.5h2.9v11.1h-2.9zM445.1 284.5h2.9v11.1h-2.9zM473.6 284.5h2.9v11.1h-2.9zM519.1 284.5h2.9v11.1h-2.9zM547.5 284.5h2.9v11.1h-2.9zM686.9 284.5h2.9v11.1h-2.9zM132.1 295.6h2.9v11.1h-2.9zM553.2 295.6h2.9v11.1h-2.9zM613.0 317.7h5.7v11.1h-5.7zM86.6 328.8h2.9v11.1h-2.9zM447.9 328.8h2.9v11.1h-2.9zM453.6 328.8h2.9v11.1h-2.9zM672.7 328.8h2.9v11.1h-2.9zM698.3 328.8h2.9v11.1h-2.9zM308.5 351.0h2.9v11.1h-2.9zM322.8 351.0h2.9v11.1h-2.9zM393.9 351.0h2.9v11.1h-2.9zM402.4 351.0h2.9v11.1h-2.9zM416.6 351.0h5.7v11.1h-5.7zM499.2 351.0h2.9v11.1h-2.9zM570.3 351.0h2.9v11.1h-2.9zM658.5 351.0h2.9v11.1h-2.9zM675.6 351.0h2.9v11.1h-2.9z"/><path fill="#287e8e" d="M638.6 58.6h5.7v15.1h-5.7zM539.0 73.7h2.9v11.1h-2.9zM590.2 73.7h2.9v11.1h-2.9zM601.6 73.7h2.9v11.1h-2.9zM63.8 84.8h2.9v11.1h-2.9zM135.0 84.8h2.9v11.1h-2.9zM507.7 84.8h5.7v11.1h-5.7zM581.7 84.8h2.9v11.1h-2.9zM604.4 84.8h2.9v11.1h-2.9zM775.1 84.8h5.7v11.1h-5.7zM815.0 84.8h2.9v11.1h-2.9zM57.0 95.9h6.9v11.1h-6.9zM109.4 95.9h8.6v11.1h-8.6zM177.7 95.9h8.6v11.1h-8.6zM274.4 95.9h2.9v11.1h-2.9zM328.4 95.9h2.9v11.1h-2.9zM567.4 95.9h5.7v11.1h-5.7zM595.9 95.9h5.7v11.1h-5.7zM678.4 95.9h2.9v11.1h-2.9zM749.5 95.9h2.9v11.1h-2.9zM797.9 95.9h2.9v11.1h-2.9zM556.1 107.0h2.9v11.1h-2.9zM143.5 118.1h2.9v11.1h-2.9zM208.9 118.1h2.9v11.1h-2.9zM743.8 118.1h5.7v11.1h-5.7zM282.9 129.2h2.9v11.1h-2.9zM305.7 129.2h8.6v11.1h-8.6zM570.3 129.2h2.9v11.1h-2.9zM621.5 129.2h2.9v11.1h-2.9zM672.7 129.2h2.9v11.1h-2.9zM718.2 129.2h2.9v11.1h-2.9zM726.8 129.2h2.9v11.1h-2.9zM778.0 129.2h2.9v11.1h-2.9zM823.5 129.2h9.7v11.1h-9.7zM137.8 140.2h2.9v11.1h-2.9zM157.7 140.2h2.9v11.1h-2.9zM166.3 140.2h2.9v11.1h-2.9zM237.4 140.2h2.9v11.1h-2.9zM285.8 140.2h2.9v11.1h-2.9zM294.3 140.2h2.9v11.1h-2.9zM334.1 140.2h2.9v11.1h-2.9zM473.6 140.2h2.9v11.1h-2.9zM493.5 140.2h2.9v11.1h-2.9zM533.3 140.2h2.9v11.1h-2.9zM601.6 140.2h2.9v11.1h-2.9zM635.7 140.2h2.9v11.1h-2.9zM769.5 140.2h2.9v11.1h-2.9zM243.1 151.3h2.9v11.1h-2.9zM263.0 151.3h2.9v11.1h-2.9zM271.5 151.3h2.9v11.1h-2.9zM288.6 151.3h2.9v11.1h-2.9zM294.3 151.3h2.9v11.1h-2.9zM587.4 151.3h2.9v11.1h-2.9zM69.5 162.4h2.9v11.1h-2.9zM189.0 162.4h2.9v11.1h-2.9zM260.2 162.4h2.9v11.1h-2.9zM271.5 162.4h2.9v11.1h-2.9zM325.6 162.4h2.9v11.1h-2.9zM419.5 162.4h2.9v11.1h-2.9zM607.3 162.4h2.9v11.1h-2.9zM638.6 162.4h5.7v11.1h-5.7zM669.9 162.4h2.9v11.1h-2.9zM675.6 162.4h2.9v11.1h-2.9zM738.2 162.4h2.9v11.1h-2.9zM778.0 162.4h2.9v11.1h-2.9zM280.1 173.5h2.9v11.1h-2.9zM556.1 173.5h2.9v11.1h-2.9zM371.1 184.6h2.9v11.1h-2.9zM393.9 184.6h2.9v11.1h-2.9zM704.0 184.6h5.7v11.1h-5.7zM780.8 184.6h2.9v11.1h-2.9zM823.5 184.6h9.7v11.1h-9.7zM140.7 195.7h2.9v11.1h-2.9zM234.6 195.7h2.9v11.1h-2.9zM635.7 195.7h2.9v11.1h-2.9zM672.7 195.7h2.9v11.1h-2.9zM721.1 195.7h2.9v11.1h-2.9zM726.8 195.7h5.7v11.1h-5.7zM493.5 206.8h5.7v11.1h-5.7zM539.0 206.8h2.9v11.1h-2.9zM544.7 206.8h2.9v11.1h-2.9zM561.8 206.8h2.9v11.1h-2.9zM772.3 206.8h2.9v11.1h-2.9zM817.8 206.8h5.7v11.1h-5.7zM63.8 217.9h2.9v11.1h-2.9zM826.4 217.9h6.9v11.1h-6.9zM69.5 229.0h2.9v11.1h-2.9zM75.2 229.0h5.7v11.1h-5.7zM152.0 229.0h2.9v11.1h-2.9zM655.6 229.0h2.9v11.1h-2.9zM763.8 229.0h2.9v11.1h-2.9zM772.3 229.0h5.7v11.1h-5.7zM129.3 251.2h2.9v11.1h-2.9zM135.0 251.2h2.9v11.1h-2.9zM297.2 251.2h2.9v11.1h-2.9zM311.4 251.2h2.9v11.1h-2.9zM354.1 251.2h2.9v11.1h-2.9zM359.7 251.2h5.7v11.1h-5.7zM490.6 251.2h2.9v11.1h-2.9zM530.5 251.2h2.9v11.1h-2.9zM553.2 251.2h2.9v11.1h-2.9zM650.0 251.2h5.7v11.1h-5.7zM709.7 251.2h2.9v11.1h-2.9zM797.9 251.2h2.9v11.1h-2.9zM194.7 262.3h5.7v11.1h-5.7zM220.3 262.3h2.9v11.1h-2.9zM356.9 262.3h2.9v11.1h-2.9zM385.4 262.3h2.9v11.1h-2.9zM450.8 262.3h2.9v11.1h-2.9zM467.9 262.3h2.9v11.1h-2.9zM487.8 262.3h5.7v11.1h-5.7zM513.4 262.3h5.7v11.1h-5.7zM721.1 262.3h2.9v11.1h-2.9zM359.7 273.4h2.9v11.1h-2.9zM510.5 273.4h2.9v11.1h-2.9zM57.0 284.5h6.9v11.1h-6.9zM115.1 284.5h2.9v11.1h-2.9zM143.5 284.5h2.9v11.1h-2.9zM206.1 284.5h5.7v11.1h-5.7zM396.7 284.5h2.9v11.1h-2.9zM439.4 284.5h2.9v11.1h-2.9zM493.5 284.5h2.9v11.1h-2.9zM652.8 284.5h2.9v11.1h-2.9zM689.8 284.5h2.9v11.1h-2.9zM83.8 295.6h2.9v11.1h-2.9zM89.5 295.6h5.7v11.1h-5.7zM157.7 295.6h2.9v11.1h-2.9zM223.2 295.6h2.9v11.1h-2.9zM251.6 295.6h2.9v11.1h-2.9zM268.7 295.6h5.7v11.1h-5.7zM302.8 295.6h2.9v11.1h-2.9zM348.4 295.6h2.9v11.1h-2.9zM419.5 295.6h2.9v11.1h-2.9zM510.5 295.6h2.9v11.1h-2.9zM516.2 295.6h2.9v11.1h-2.9zM521.9 295.6h2.9v11.1h-2.9zM604.4 295.6h2.9v11.1h-2.9zM658.5 295.6h2.9v11.1h-2.9zM669.9 295.6h2.9v11.1h-2.9zM678.4 295.6h2.9v11.1h-2.9zM695.5 295.6h8.6v11.1h-8.6zM721.1 295.6h2.9v11.1h-2.9zM726.8 295.6h5.7v11.1h-5.7zM806.4 295.6h2.9v11.1h-2.9zM820.7 295.6h2.9v11.1h-2.9zM160.6 306.6h2.9v11.1h-2.9zM245.9 306.6h2.9v11.1h-2.9zM342.7 306.6h2.9v11.1h-2.9zM467.9 306.6h5.7v11.1h-5.7zM556.1 306.6h2.9v11.1h-2.9zM815.0 306.6h2.9v11.1h-2.9zM553.2 317.7h2.9v11.1h-2.9zM743.8 317.7h2.9v11.1h-2.9zM809.3 317.7h2.9v11.1h-2.9zM203.3 328.8h5.7v11.1h-5.7zM254.5 328.8h2.9v11.1h-2.9zM265.9 328.8h2.9v11.1h-2.9zM502.0 328.8h5.7v11.1h-5.7zM655.6 328.8h5.7v11.1h-5.7zM63.8 351.0h5.7v11.1h-5.7zM117.9 351.0h2.9v11.1h-2.9zM206.1 351.0h2.9v11.1h-2.9zM254.5 351.0h2.9v11.1h-2.9zM450.8 351.0h2.9v11.1h-2.9zM467.9 351.0h2.9v11.1h-2.9zM484.9 351.0h5.7v11.1h-5.7zM519.1 351.0h2.9v11.1h-2.9zM581.7 351.0h5.7v11.1h-5.7zM681.3 351.0h5.7v11.1h-5.7zM786.5 351.0h2.9v11.1h-2.9zM57.0 362.1h6.9v15.1h-6.9z"/><path fill="#238b8c" d="M337.0 73.7h2.9v11.1h-2.9zM345.5 73.7h2.9v11.1h-2.9zM595.9 73.7h2.9v11.1h-2.9zM604.4 73.7h2.9v11.1h-2.9zM681.3 73.7h2.9v11.1h-2.9zM735.3 73.7h2.9v11.1h-2.9zM746.7 73.7h14.3v11.1h-14.3zM792.2 73.7h2.9v11.1h-2.9zM797.9 73.7h2.9v11.1h-2.9zM817.8 73.7h2.9v11.1h-2.9zM826.4 73.7h6.9v11.1h-6.9zM109.4 84.8h5.7v11.1h-5.7zM169.1 84.8h2.9v11.1h-2.9zM402.4 84.8h2.9v11.1h-2.9zM516.2 84.8h8.6v11.1h-8.6zM530.5 84.8h2.9v11.1h-2.9zM576.0 84.8h2.9v11.1h-2.9zM738.2 84.8h2.9v11.1h-2.9zM75.2 95.9h2.9v11.1h-2.9zM117.9 95.9h2.9v11.1h-2.9zM194.7 95.9h2.9v11.1h-2.9zM211.8 95.9h5.7v11.1h-5.7zM226.0 95.9h2.9v11.1h-2.9zM499.2 95.9h2.9v11.1h-2.9zM578.8 95.9h2.9v11.1h-2.9zM607.3 95.9h5.7v11.1h-5.7zM763.8 95.9h2.9v11.1h-2.9zM792.2 95.9h5.7v11.1h-5.7zM721.1 107.0h2.9v11.1h-2.9zM69.5 118.1h2.9v11.1h-2.9zM129.3 118.1h2.9v11.1h-2.9zM149.2 118.1h2.9v11.1h-2.9zM186.2 118.1h2.9v11.1h-2.9zM371.1 118.1h2.9v11.1h-2.9zM63.8 129.2h2.9v11.1h-2.9zM69.5 129.2h2.9v11.1h-2.9zM291.5 129.2h2.9v11.1h-2.9zM322.8 129.2h2.9v11.1h-2.9zM496.3 129.2h2.9v11.1h-2.9zM669.9 129.2h2.9v11.1h-2.9zM686.9 129.2h2.9v11.1h-2.9zM780.8 129.2h2.9v11.1h-2.9zM146.4 140.2h2.9v11.1h-2.9zM223.2 140.2h2.9v11.1h-2.9zM268.7 140.2h5.7v11.1h-5.7zM319.9 140.2h2.9v11.1h-2.9zM325.6 140.2h2.9v11.1h-2.9zM362.6 140.2h2.9v11.1h-2.9zM524.8 140.2h2.9v11.1h-2.9zM558.9 140.2h2.9v11.1h-2.9zM650.0 140.2h2.9v11.1h-2.9zM681.3 140.2h2.9v11.1h-2.9zM729.6 140.2h2.9v11.1h-2.9zM106.5 151.3h2.9v11.1h-2.9zM726.8 151.3h2.9v11.1h-2.9zM226.0 162.4h2.9v11.1h-2.9zM251.6 162.4h2.9v11.1h-2.9zM482.1 162.4h2.9v11.1h-2.9zM510.5 162.4h2.9v11.1h-2.9zM539.0 162.4h2.9v11.1h-2.9zM632.9 162.4h2.9v11.1h-2.9zM661.3 162.4h2.9v11.1h-2.9zM715.4 162.4h2.9v11.1h-2.9zM732.5 162.4h2.9v11.1h-2.9zM758.1 162.4h2.9v11.1h-2.9zM820.7 162.4h2.9v11.1h-2.9zM376.8 173.5h2.9v11.1h-2.9zM516.2 173.5h2.9v11.1h-2.9zM613.0 173.5h2.9v11.1h-2.9zM69.5 184.6h2.9v11.1h-2.9zM186.2 184.6h2.9v11.1h-2.9zM411.0 184.6h2.9v11.1h-2.9zM439.4 184.6h5.7v11.1h-5.7zM607.3 184.6h2.9v11.1h-2.9zM786.5 184.6h2.9v11.1h-2.9zM172.0 195.7h2.9v11.1h-2.9zM499.2 195.7h2.9v11.1h-2.9zM681.3 195.7h2.9v11.1h-2.9zM826.4 195.7h6.9v11.1h-6.9zM66.7 206.8h2.9v11.1h-2.9zM354.1 206.8h2.9v11.1h-2.9zM419.5 206.8h2.9v11.1h-2.9zM456.5 206.8h11.4v11.1h-11.4zM524.8 206.8h2.9v11.1h-2.9zM598.7 206.8h2.9v11.1h-2.9zM641.4 206.8h2.9v11.1h-2.9zM655.6 206.8h5.7v11.1h-5.7zM86.6 217.9h2.9v11.1h-2.9zM499.2 217.9h2.9v11.1h-2.9zM578.8 217.9h2.9v11.1h-2.9zM795.1 217.9h2.9v11.1h-2.9zM513.4 229.0h2.9v11.1h-2.9zM590.2 229.0h2.9v11.1h-2.9zM635.7 229.0h2.9v11.1h-2.9zM669.9 229.0h2.9v11.1h-2.9zM701.2 229.0h2.9v11.1h-2.9zM220.3 251.2h5.7v11.1h-5.7zM516.2 251.2h2.9v11.1h-2.9zM741.0 251.2h2.9v11.1h-2.9zM211.8 262.3h2.9v11.1h-2.9zM245.9 262.3h5.7v11.1h-5.7zM285.8 262.3h2.9v11.1h-2.9zM345.5 262.3h2.9v11.1h-2.9zM379.7 262.3h2.9v11.1h-2.9zM456.5 262.3h2.9v11.1h-2.9zM504.8 262.3h2.9v11.1h-2.9zM539.0 262.3h2.9v11.1h-2.9zM630.0 262.3h2.9v11.1h-2.9zM743.8 262.3h5.7v11.1h-5.7zM348.4 273.4h2.9v11.1h-2.9zM371.1 273.4h2.9v11.1h-2.9zM487.8 273.4h2.9v11.1h-2.9zM530.5 273.4h2.9v11.1h-2.9zM541.8 273.4h2.9v11.1h-2.9zM695.5 273.4h2.9v11.1h-2.9zM723.9 273.4h2.9v11.1h-2.9zM735.3 273.4h5.7v11.1h-5.7zM760.9 273.4h5.7v11.1h-5.7zM775.1 273.4h2.9v11.1h-2.9zM786.5 273.4h2.9v11.1h-2.9zM72.4 284.5h2.9v11.1h-2.9zM80.9 284.5h2.9v11.1h-2.9zM245.9 284.5h5.7v11.1h-5.7zM280.1 284.5h2.9v11.1h-2.9zM371.1 284.5h5.7v11.1h-5.7zM422.3 284.5h2.9v11.1h-2.9zM430.9 284.5h5.7v11.1h-5.7zM459.3 284.5h2.9v11.1h-2.9zM709.7 284.5h2.9v11.1h-2.9zM741.0 284.5h2.9v11.1h-2.9zM763.8 284.5h2.9v11.1h-2.9zM772.3 284.5h2.9v11.1h-2.9zM57.0 295.6h6.9v11.1h-6.9zM98.0 295.6h5.7v11.1h-5.7zM126.4 295.6h2.9v11.1h-2.9zM231.7 295.6h2.9v11.1h-2.9zM300.0 295.6h2.9v11.1h-2.9zM746.7 295.6h2.9v11.1h-2.9zM783.7 295.6h2.9v11.1h-2.9zM800.7 295.6h2.9v11.1h-2.9zM123.6 306.6h2.9v11.1h-2.9zM172.0 306.6h2.9v11.1h-2.9zM473.6 306.6h2.9v11.1h-2.9zM507.7 306.6h2.9v11.1h-2.9zM578.8 306.6h2.9v11.1h-2.9zM132.1 317.7h2.9v11.1h-2.9zM146.4 317.7h2.9v11.1h-2.9zM189.0 317.7h2.9v11.1h-2.9zM365.4 317.7h2.9v11.1h-2.9zM576.0 317.7h2.9v11.1h-2.9zM652.8 317.7h2.9v11.1h-2.9zM766.6 317.7h8.6v11.1h-8.6zM823.5 317.7h9.7v11.1h-9.7zM98.0 328.8h2.9v11.1h-2.9zM117.9 328.8h2.9v11.1h-2.9zM143.5 328.8h5.7v11.1h-5.7zM214.6 328.8h2.9v11.1h-2.9zM311.4 328.8h2.9v11.1h-2.9zM650.0 328.8h2.9v11.1h-2.9zM766.6 328.8h2.9v11.1h-2.9zM809.3 328.8h2.9v11.1h-2.9zM823.5 328.8h9.7v11.1h-9.7zM584.5 339.9h2.9v11.1h-2.9zM721.1 339.9h2.9v11.1h-2.9zM106.5 351.0h5.7v11.1h-5.7zM160.6 351.0h2.9v11.1h-2.9zM245.9 351.0h2.9v11.1h-2.9zM479.2 351.0h2.9v11.1h-2.9zM496.3 351.0h2.9v11.1h-2.9zM530.5 351.0h5.7v11.1h-5.7zM556.1 351.0h2.9v11.1h-2.9zM624.3 351.0h2.9v11.1h-2.9zM664.2 351.0h2.9v11.1h-2.9zM743.8 362.1h2.9v15.1h-2.9z"/><path fill="#26848d" d="M339.8 73.7h5.7v11.1h-5.7zM598.7 73.7h2.9v11.1h-2.9zM820.7 73.7h5.7v11.1h-5.7zM129.3 84.8h2.9v11.1h-2.9zM533.3 84.8h2.9v11.1h-2.9zM567.4 84.8h2.9v11.1h-2.9zM675.6 84.8h5.7v11.1h-5.7zM809.3 84.8h5.7v11.1h-5.7zM823.5 84.8h2.9v11.1h-2.9zM106.5 95.9h2.9v11.1h-2.9zM277.2 95.9h2.9v11.1h-2.9zM482.1 95.9h2.9v11.1h-2.9zM604.4 95.9h2.9v11.1h-2.9zM632.9 95.9h2.9v11.1h-2.9zM689.8 95.9h2.9v11.1h-2.9zM701.2 95.9h2.9v11.1h-2.9zM741.0 95.9h2.9v11.1h-2.9zM752.4 95.9h2.9v11.1h-2.9zM766.6 95.9h8.6v11.1h-8.6zM812.1 95.9h2.9v11.1h-2.9zM140.7 118.1h2.9v11.1h-2.9zM718.2 118.1h5.7v11.1h-5.7zM741.0 118.1h2.9v11.1h-2.9zM189.0 129.2h2.9v11.1h-2.9zM595.9 129.2h2.9v11.1h-2.9zM604.4 129.2h2.9v11.1h-2.9zM632.9 129.2h2.9v11.1h-2.9zM721.1 129.2h5.7v11.1h-5.7zM735.3 129.2h2.9v11.1h-2.9zM772.3 129.2h5.7v11.1h-5.7zM103.7 140.2h2.9v11.1h-2.9zM135.0 140.2h2.9v11.1h-2.9zM371.1 140.2h2.9v11.1h-2.9zM422.3 140.2h2.9v11.1h-2.9zM476.4 140.2h2.9v11.1h-2.9zM521.9 140.2h2.9v11.1h-2.9zM527.6 140.2h5.7v11.1h-5.7zM766.6 140.2h2.9v11.1h-2.9zM291.5 151.3h2.9v11.1h-2.9zM490.6 151.3h2.9v11.1h-2.9zM536.1 151.3h2.9v11.1h-2.9zM604.4 151.3h2.9v11.1h-2.9zM459.3 162.4h2.9v11.1h-2.9zM604.4 162.4h2.9v11.1h-2.9zM658.5 162.4h2.9v11.1h-2.9zM706.9 173.5h2.9v11.1h-2.9zM445.1 184.6h2.9v11.1h-2.9zM797.9 184.6h2.9v11.1h-2.9zM632.9 195.7h2.9v11.1h-2.9zM117.9 206.8h5.7v11.1h-5.7zM482.1 206.8h2.9v11.1h-2.9zM558.9 206.8h2.9v11.1h-2.9zM576.0 206.8h5.7v11.1h-5.7zM775.1 206.8h2.9v11.1h-2.9zM106.5 217.9h2.9v11.1h-2.9zM308.5 217.9h2.9v11.1h-2.9zM149.2 229.0h2.9v11.1h-2.9zM652.8 229.0h2.9v11.1h-2.9zM766.6 229.0h5.7v11.1h-5.7zM778.0 229.0h2.9v11.1h-2.9zM556.1 251.2h2.9v11.1h-2.9zM706.9 251.2h2.9v11.1h-2.9zM240.2 262.3h2.9v11.1h-2.9zM251.6 262.3h2.9v11.1h-2.9zM354.1 262.3h2.9v11.1h-2.9zM627.2 262.3h2.9v11.1h-2.9zM749.5 262.3h5.7v11.1h-5.7zM214.6 273.4h2.9v11.1h-2.9zM638.6 273.4h2.9v11.1h-2.9zM698.3 273.4h2.9v11.1h-2.9zM783.7 273.4h2.9v11.1h-2.9zM63.8 284.5h2.9v11.1h-2.9zM265.9 284.5h2.9v11.1h-2.9zM667.0 284.5h2.9v11.1h-2.9zM718.2 284.5h2.9v11.1h-2.9zM815.0 284.5h8.6v11.1h-8.6zM80.9 295.6h2.9v11.1h-2.9zM166.3 295.6h2.9v11.1h-2.9zM172.0 295.6h2.9v11.1h-2.9zM197.6 295.6h2.9v11.1h-2.9zM206.1 295.6h2.9v11.1h-2.9zM260.2 295.6h5.7v11.1h-5.7zM280.1 295.6h2.9v11.1h-2.9zM428.0 295.6h2.9v11.1h-2.9zM667.0 295.6h2.9v11.1h-2.9zM712.5 295.6h2.9v11.1h-2.9zM809.3 295.6h2.9v11.1h-2.9zM817.8 295.6h2.9v11.1h-2.9zM388.2 306.6h2.9v11.1h-2.9zM604.4 317.7h2.9v11.1h-2.9zM741.0 317.7h2.9v11.1h-2.9zM783.7 317.7h2.9v11.1h-2.9zM66.7 328.8h2.9v11.1h-2.9zM115.1 328.8h2.9v11.1h-2.9zM129.3 328.8h2.9v11.1h-2.9zM208.9 328.8h2.9v11.1h-2.9zM217.5 328.8h2.9v11.1h-2.9zM271.5 328.8h2.9v11.1h-2.9zM721.1 328.8h2.9v11.1h-2.9zM186.2 351.0h2.9v11.1h-2.9zM374.0 351.0h2.9v11.1h-2.9zM385.4 351.0h2.9v11.1h-2.9zM493.5 351.0h2.9v11.1h-2.9zM507.7 351.0h2.9v11.1h-2.9zM578.8 351.0h2.9v11.1h-2.9zM595.9 351.0h5.7v11.1h-5.7zM661.3 351.0h2.9v11.1h-2.9zM63.8 362.1h2.9v15.1h-2.9zM473.6 362.1h2.9v15.1h-2.9z"/><path fill="#2a788e" d="M632.9 73.7h2.9v11.1h-2.9zM191.9 84.8h2.9v11.1h-2.9zM595.9 84.8h2.9v11.1h-2.9zM718.2 84.8h5.7v11.1h-5.7zM729.6 84.8h2.9v11.1h-2.9zM769.5 84.8h2.9v11.1h-2.9zM661.3 95.9h2.9v11.1h-2.9zM667.0 95.9h5.7v11.1h-5.7zM610.1 129.2h2.9v11.1h-2.9zM655.6 129.2h5.7v11.1h-5.7zM681.3 129.2h2.9v11.1h-2.9zM766.6 129.2h2.9v11.1h-2.9zM820.7 129.2h2.9v11.1h-2.9zM186.2 140.2h2.9v11.1h-2.9zM689.8 140.2h2.9v11.1h-2.9zM140.7 162.4h5.7v11.1h-5.7zM672.7 162.4h2.9v11.1h-2.9zM766.6 162.4h5.7v11.1h-5.7zM775.1 162.4h2.9v11.1h-2.9zM701.2 173.5h2.9v11.1h-2.9zM237.4 206.8h2.9v11.1h-2.9zM826.4 206.8h6.9v11.1h-6.9zM493.5 251.2h2.9v11.1h-2.9zM135.0 262.3h2.9v11.1h-2.9zM613.0 262.3h2.9v11.1h-2.9zM820.7 262.3h2.9v11.1h-2.9zM331.3 284.5h2.9v11.1h-2.9zM337.0 284.5h2.9v11.1h-2.9zM109.4 295.6h14.3v11.1h-14.3zM254.5 295.6h2.9v11.1h-2.9zM567.4 295.6h8.6v11.1h-8.6zM684.1 295.6h2.9v11.1h-2.9zM729.6 317.7h5.7v11.1h-5.7zM806.4 317.7h2.9v11.1h-2.9zM226.0 328.8h2.9v11.1h-2.9zM482.1 328.8h2.9v11.1h-2.9zM524.8 328.8h5.7v11.1h-5.7zM257.3 351.0h2.9v11.1h-2.9zM470.7 351.0h2.9v11.1h-2.9zM539.0 351.0h2.9v11.1h-2.9zM553.2 351.0h2.9v11.1h-2.9zM760.9 351.0h11.4v11.1h-11.4zM783.7 351.0h2.9v11.1h-2.9zM789.4 351.0h2.9v11.1h-2.9z"/><path fill="#3b528a" d="M780.8 73.7h2.9v11.1h-2.9zM681.3 84.8h2.9v11.1h-2.9zM675.6 95.9h2.9v11.1h-2.9zM573.1 129.2h2.9v11.1h-2.9zM129.3 140.2h2.9v11.1h-2.9zM459.3 140.2h2.9v11.1h-2.9zM499.2 140.2h2.9v11.1h-2.9zM567.4 151.3h2.9v11.1h-2.9zM573.1 151.3h2.9v11.1h-2.9zM240.2 173.5h2.9v11.1h-2.9zM57.0 206.8h9.7v11.1h-9.7zM69.5 206.8h2.9v11.1h-2.9zM177.7 206.8h2.9v11.1h-2.9zM206.1 206.8h2.9v11.1h-2.9zM365.4 251.2h2.9v11.1h-2.9zM806.4 251.2h5.7v11.1h-5.7zM393.9 262.3h2.9v11.1h-2.9zM419.5 262.3h2.9v11.1h-2.9zM163.4 284.5h5.7v11.1h-5.7zM553.2 284.5h2.9v11.1h-2.9zM584.5 284.5h2.9v11.1h-2.9zM669.9 284.5h2.9v11.1h-2.9zM63.8 295.6h5.7v11.1h-5.7zM103.7 295.6h5.7v11.1h-5.7zM655.6 295.6h2.9v11.1h-2.9zM689.8 295.6h2.9v11.1h-2.9zM755.2 295.6h2.9v11.1h-2.9zM795.1 295.6h2.9v11.1h-2.9zM516.2 306.6h2.9v11.1h-2.9zM63.8 328.8h2.9v11.1h-2.9z"/><path fill="#2d728e" d="M117.9 84.8h5.7v11.1h-5.7zM149.2 84.8h2.9v11.1h-2.9zM163.4 84.8h2.9v11.1h-2.9zM189.0 84.8h2.9v11.1h-2.9zM214.6 84.8h2.9v11.1h-2.9zM570.3 84.8h5.7v11.1h-5.7zM598.7 84.8h5.7v11.1h-5.7zM607.3 84.8h2.9v11.1h-2.9zM644.3 84.8h2.9v11.1h-2.9zM669.9 84.8h2.9v11.1h-2.9zM704.0 84.8h8.6v11.1h-8.6zM755.2 84.8h2.9v11.1h-2.9zM766.6 84.8h2.9v11.1h-2.9zM783.7 84.8h2.9v11.1h-2.9zM795.1 84.8h2.9v11.1h-2.9zM149.2 95.9h5.7v11.1h-5.7zM539.0 95.9h2.9v11.1h-2.9zM573.1 95.9h2.9v11.1h-2.9zM641.4 95.9h2.9v11.1h-2.9zM650.0 95.9h5.7v11.1h-5.7zM803.6 107.0h2.9v11.1h-2.9zM539.0 129.2h2.9v11.1h-2.9zM613.0 129.2h2.9v11.1h-2.9zM684.1 129.2h2.9v11.1h-2.9zM769.5 129.2h2.9v11.1h-2.9zM78.1 140.2h2.9v11.1h-2.9zM172.0 140.2h2.9v11.1h-2.9zM180.5 140.2h2.9v11.1h-2.9zM214.6 140.2h2.9v11.1h-2.9zM231.7 140.2h5.7v11.1h-5.7zM240.2 140.2h2.9v11.1h-2.9zM425.2 140.2h2.9v11.1h-2.9zM436.6 140.2h2.9v11.1h-2.9zM467.9 140.2h2.9v11.1h-2.9zM516.2 140.2h2.9v11.1h-2.9zM661.3 140.2h2.9v11.1h-2.9zM721.1 140.2h2.9v11.1h-2.9zM282.9 151.3h5.7v11.1h-5.7zM524.8 151.3h2.9v11.1h-2.9zM723.9 162.4h2.9v11.1h-2.9zM772.3 162.4h2.9v11.1h-2.9zM470.7 173.5h2.9v11.1h-2.9zM712.5 195.7h2.9v11.1h-2.9zM231.7 206.8h2.9v11.1h-2.9zM385.4 206.8h2.9v11.1h-2.9zM473.6 206.8h2.9v11.1h-2.9zM504.8 206.8h2.9v11.1h-2.9zM510.5 206.8h2.9v11.1h-2.9zM550.4 206.8h2.9v11.1h-2.9zM584.5 206.8h2.9v11.1h-2.9zM610.1 206.8h2.9v11.1h-2.9zM749.5 206.8h2.9v11.1h-2.9zM561.8 217.9h2.9v11.1h-2.9zM604.4 217.9h2.9v11.1h-2.9zM294.3 251.2h2.9v11.1h-2.9zM66.7 262.3h2.9v11.1h-2.9zM172.0 262.3h5.7v11.1h-5.7zM231.7 262.3h8.6v11.1h-8.6zM243.1 262.3h2.9v11.1h-2.9zM473.6 262.3h11.4v11.1h-11.4zM519.1 262.3h2.9v11.1h-2.9zM610.1 262.3h2.9v11.1h-2.9zM698.3 262.3h5.7v11.1h-5.7zM775.1 262.3h2.9v11.1h-2.9zM684.1 273.4h8.6v11.1h-8.6zM89.5 284.5h2.9v11.1h-2.9zM126.4 284.5h5.7v11.1h-5.7zM365.4 284.5h2.9v11.1h-2.9zM567.4 284.5h8.6v11.1h-8.6zM621.5 284.5h5.7v11.1h-5.7zM638.6 284.5h2.9v11.1h-2.9zM712.5 284.5h2.9v11.1h-2.9zM789.4 284.5h2.9v11.1h-2.9zM482.1 295.6h5.7v11.1h-5.7zM536.1 295.6h2.9v11.1h-2.9zM681.3 295.6h2.9v11.1h-2.9zM786.5 295.6h2.9v11.1h-2.9zM66.7 306.6h2.9v11.1h-2.9zM456.5 306.6h2.9v11.1h-2.9zM723.9 317.7h2.9v11.1h-2.9zM120.7 328.8h5.7v11.1h-5.7zM135.0 328.8h2.9v11.1h-2.9zM189.0 328.8h5.7v11.1h-5.7zM484.9 328.8h2.9v11.1h-2.9zM570.3 328.8h2.9v11.1h-2.9zM103.7 351.0h2.9v11.1h-2.9zM601.6 351.0h2.9v11.1h-2.9zM644.3 351.0h5.7v11.1h-5.7zM652.8 351.0h5.7v11.1h-5.7zM669.9 351.0h5.7v11.1h-5.7zM752.4 351.0h5.7v11.1h-5.7zM795.1 351.0h5.7v11.1h-5.7z"/><path fill="#306c8e" d="M152.0 84.8h2.9v11.1h-2.9zM206.1 84.8h2.9v11.1h-2.9zM610.1 84.8h8.6v11.1h-8.6zM672.7 84.8h2.9v11.1h-2.9zM732.5 84.8h5.7v11.1h-5.7zM772.3 84.8h2.9v11.1h-2.9zM786.5 84.8h2.9v11.1h-2.9zM820.7 84.8h2.9v11.1h-2.9zM163.4 95.9h2.9v11.1h-2.9zM206.1 95.9h5.7v11.1h-5.7zM576.0 95.9h2.9v11.1h-2.9zM581.7 95.9h5.7v11.1h-5.7zM644.3 95.9h2.9v11.1h-2.9zM709.7 95.9h5.7v11.1h-5.7zM775.1 95.9h5.7v11.1h-5.7zM789.4 95.9h2.9v11.1h-2.9zM826.4 95.9h6.9v11.1h-6.9zM248.8 140.2h2.9v11.1h-2.9zM254.5 140.2h8.6v11.1h-8.6zM280.1 140.2h2.9v11.1h-2.9zM812.1 140.2h5.7v11.1h-5.7zM365.4 173.5h2.9v11.1h-2.9zM191.9 206.8h5.7v11.1h-5.7zM425.2 206.8h2.9v11.1h-2.9zM502.0 206.8h2.9v11.1h-2.9zM507.7 206.8h2.9v11.1h-2.9zM613.0 206.8h2.9v11.1h-2.9zM678.4 206.8h8.6v11.1h-8.6zM743.8 206.8h5.7v11.1h-5.7zM789.4 206.8h5.7v11.1h-5.7zM140.7 217.9h2.9v11.1h-2.9zM288.6 251.2h5.7v11.1h-5.7zM63.8 262.3h2.9v11.1h-2.9zM803.6 262.3h2.9v11.1h-2.9zM135.0 284.5h2.9v11.1h-2.9zM157.7 284.5h5.7v11.1h-5.7zM780.8 284.5h8.6v11.1h-8.6zM792.2 284.5h2.9v11.1h-2.9zM72.4 295.6h5.7v11.1h-5.7zM149.2 295.6h5.7v11.1h-5.7zM174.8 295.6h5.7v11.1h-5.7zM211.8 295.6h5.7v11.1h-5.7zM672.7 295.6h2.9v11.1h-2.9zM726.8 317.7h2.9v11.1h-2.9zM735.3 317.7h5.7v11.1h-5.7zM149.2 351.0h5.7v11.1h-5.7zM214.6 351.0h2.9v11.1h-2.9zM775.1 351.0h2.9v11.1h-2.9z"/><path fill="#355f8d" d="M539.0 84.8h2.9v11.1h-2.9zM647.1 84.8h2.9v11.1h-2.9zM664.2 84.8h2.9v11.1h-2.9zM741.0 84.8h5.7v11.1h-5.7zM189.0 95.9h5.7v11.1h-5.7zM593.0 95.9h2.9v11.1h-2.9zM721.1 95.9h2.9v11.1h-2.9zM729.6 95.9h2.9v11.1h-2.9zM795.1 107.0h5.7v11.1h-5.7zM63.8 140.2h2.9v11.1h-2.9zM117.9 140.2h2.9v11.1h-2.9zM132.1 140.2h2.9v11.1h-2.9zM154.9 140.2h2.9v11.1h-2.9zM169.1 140.2h2.9v11.1h-2.9zM177.7 140.2h2.9v11.1h-2.9zM189.0 140.2h2.9v11.1h-2.9zM439.4 140.2h2.9v11.1h-2.9zM445.1 140.2h2.9v11.1h-2.9zM487.8 140.2h2.9v11.1h-2.9zM499.2 151.3h2.9v11.1h-2.9zM530.5 151.3h5.7v11.1h-5.7zM368.3 173.5h2.9v11.1h-2.9zM396.7 173.5h2.9v11.1h-2.9zM402.4 173.5h2.9v11.1h-2.9zM453.6 173.5h2.9v11.1h-2.9zM544.7 173.5h2.9v11.1h-2.9zM109.4 206.8h2.9v11.1h-2.9zM254.5 206.8h2.9v11.1h-2.9zM325.6 206.8h2.9v11.1h-2.9zM379.7 206.8h5.7v11.1h-5.7zM778.0 206.8h2.9v11.1h-2.9zM752.4 240.1h2.9v11.1h-2.9zM345.5 251.2h2.9v11.1h-2.9zM356.9 251.2h2.9v11.1h-2.9zM502.0 251.2h2.9v11.1h-2.9zM823.5 251.2h2.9v11.1h-2.9zM447.9 262.3h2.9v11.1h-2.9zM459.3 262.3h5.7v11.1h-5.7zM502.0 284.5h2.9v11.1h-2.9zM521.9 284.5h5.7v11.1h-5.7zM539.0 284.5h2.9v11.1h-2.9zM234.6 295.6h2.9v11.1h-2.9zM593.0 295.6h2.9v11.1h-2.9zM635.7 295.6h2.9v11.1h-2.9zM465.0 306.6h2.9v11.1h-2.9zM69.5 328.8h2.9v11.1h-2.9zM106.5 328.8h5.7v11.1h-5.7zM243.1 328.8h2.9v11.1h-2.9zM587.4 351.0h2.9v11.1h-2.9zM630.0 351.0h11.4v11.1h-11.4zM678.4 351.0h2.9v11.1h-2.9zM803.6 351.0h5.7v11.1h-5.7z"/><path fill="#32658d" d="M584.5 84.8h5.7v11.1h-5.7zM593.0 84.8h2.9v11.1h-2.9zM661.3 84.8h2.9v11.1h-2.9zM667.0 84.8h2.9v11.1h-2.9zM723.9 84.8h2.9v11.1h-2.9zM590.2 95.9h2.9v11.1h-2.9zM647.1 95.9h2.9v11.1h-2.9zM655.6 95.9h5.7v11.1h-5.7zM664.2 95.9h2.9v11.1h-2.9zM718.2 95.9h2.9v11.1h-2.9zM820.7 95.9h5.7v11.1h-5.7zM567.4 107.0h2.9v11.1h-2.9zM809.3 107.0h2.9v11.1h-2.9zM69.5 140.2h2.9v11.1h-2.9zM149.2 140.2h2.9v11.1h-2.9zM160.6 140.2h5.7v11.1h-5.7zM174.8 140.2h2.9v11.1h-2.9zM183.3 140.2h2.9v11.1h-2.9zM194.7 140.2h2.9v11.1h-2.9zM300.0 140.2h2.9v11.1h-2.9zM419.5 140.2h2.9v11.1h-2.9zM428.0 140.2h2.9v11.1h-2.9zM482.1 140.2h5.7v11.1h-5.7zM795.1 140.2h5.7v11.1h-5.7zM502.0 151.3h2.9v11.1h-2.9zM399.6 173.5h2.9v11.1h-2.9zM450.8 173.5h2.9v11.1h-2.9zM112.2 206.8h2.9v11.1h-2.9zM251.6 206.8h2.9v11.1h-2.9zM260.2 206.8h2.9v11.1h-2.9zM308.5 206.8h2.9v11.1h-2.9zM590.2 206.8h2.9v11.1h-2.9zM803.6 240.1h2.9v11.1h-2.9zM399.6 262.3h2.9v11.1h-2.9zM445.1 262.3h2.9v11.1h-2.9zM556.1 262.3h2.9v11.1h-2.9zM595.9 262.3h5.7v11.1h-5.7zM618.7 262.3h5.7v11.1h-5.7zM769.5 262.3h2.9v11.1h-2.9zM530.5 284.5h2.9v11.1h-2.9zM544.7 284.5h2.9v11.1h-2.9zM550.4 284.5h2.9v11.1h-2.9zM607.3 284.5h8.6v11.1h-8.6zM823.5 284.5h2.9v11.1h-2.9zM743.8 295.6h2.9v11.1h-2.9zM163.4 306.6h2.9v11.1h-2.9zM174.8 306.6h2.9v11.1h-2.9zM487.8 306.6h2.9v11.1h-2.9zM595.9 306.6h2.9v11.1h-2.9zM689.8 306.6h2.9v11.1h-2.9zM72.4 328.8h2.9v11.1h-2.9zM590.2 351.0h5.7v11.1h-5.7zM746.7 351.0h5.7v11.1h-5.7z"/><path fill="#440154" d="M590.2 84.8h2.9v11.1h-2.9zM140.7 140.2h5.7v11.1h-5.7zM200.4 140.2h5.7v11.1h-5.7zM243.1 140.2h2.9v11.1h-2.9zM243.1 173.5h2.9v11.1h-2.9zM595.9 173.5h2.9v11.1h-2.9zM598.7 240.1h2.9v11.1h-2.9zM98.0 251.2h5.7v11.1h-5.7zM152.0 251.2h2.9v11.1h-2.9zM342.7 251.2h2.9v11.1h-2.9zM445.1 251.2h2.9v11.1h-2.9zM453.6 251.2h5.7v11.1h-5.7zM465.0 251.2h2.9v11.1h-2.9zM476.4 251.2h2.9v11.1h-2.9zM482.1 251.2h5.7v11.1h-5.7zM524.8 251.2h5.7v11.1h-5.7zM92.3 262.3h2.9v11.1h-2.9zM98.0 262.3h5.7v11.1h-5.7zM109.4 262.3h5.7v11.1h-5.7zM157.7 262.3h2.9v11.1h-2.9zM163.4 262.3h5.7v11.1h-5.7zM493.5 262.3h2.9v11.1h-2.9zM641.4 262.3h5.7v11.1h-5.7zM650.0 262.3h5.7v11.1h-5.7zM658.5 262.3h2.9v11.1h-2.9zM695.5 262.3h2.9v11.1h-2.9zM715.4 262.3h2.9v11.1h-2.9zM778.0 262.3h2.9v11.1h-2.9zM558.9 284.5h2.9v11.1h-2.9zM587.4 284.5h2.9v11.1h-2.9zM593.0 284.5h2.9v11.1h-2.9zM632.9 284.5h5.7v11.1h-5.7zM778.0 295.6h2.9v11.1h-2.9zM69.5 306.6h11.4v11.1h-11.4zM86.6 306.6h14.3v11.1h-14.3zM103.7 306.6h5.7v11.1h-5.7zM112.2 306.6h5.7v11.1h-5.7zM137.8 306.6h2.9v11.1h-2.9zM186.2 306.6h28.5v11.1h-28.5zM220.3 306.6h5.7v11.1h-5.7zM231.7 306.6h2.9v11.1h-2.9zM237.4 306.6h2.9v11.1h-2.9zM260.2 306.6h2.9v11.1h-2.9zM271.5 306.6h28.5v11.1h-28.5zM302.8 306.6h5.7v11.1h-5.7zM314.2 306.6h2.9v11.1h-2.9zM322.8 306.6h2.9v11.1h-2.9zM339.8 306.6h2.9v11.1h-2.9zM354.1 306.6h2.9v11.1h-2.9zM359.7 306.6h2.9v11.1h-2.9zM368.3 306.6h5.7v11.1h-5.7zM376.8 306.6h5.7v11.1h-5.7zM385.4 306.6h2.9v11.1h-2.9zM413.8 306.6h17.1v11.1h-17.1zM433.7 306.6h8.6v11.1h-8.6zM447.9 306.6h2.9v11.1h-2.9zM462.2 306.6h2.9v11.1h-2.9zM490.6 306.6h2.9v11.1h-2.9zM521.9 306.6h2.9v11.1h-2.9zM558.9 306.6h11.4v11.1h-11.4zM581.7 306.6h5.7v11.1h-5.7zM593.0 306.6h2.9v11.1h-2.9zM704.0 306.6h5.7v11.1h-5.7zM718.2 306.6h2.9v11.1h-2.9zM723.9 306.6h5.7v11.1h-5.7zM450.8 339.9h2.9v11.1h-2.9z"/><path fill="#461264" d="M618.7 84.8h5.7v11.1h-5.7zM638.6 95.9h2.9v11.1h-2.9zM109.4 140.2h5.7v11.1h-5.7zM337.0 140.2h5.7v11.1h-5.7zM595.9 140.2h2.9v11.1h-2.9zM521.9 173.5h2.9v11.1h-2.9zM322.8 251.2h5.7v11.1h-5.7zM459.3 251.2h2.9v11.1h-2.9zM470.7 251.2h2.9v11.1h-2.9zM510.5 251.2h5.7v11.1h-5.7zM117.9 262.3h2.9v11.1h-2.9zM129.3 262.3h2.9v11.1h-2.9zM484.9 262.3h2.9v11.1h-2.9zM655.6 262.3h2.9v11.1h-2.9zM669.9 262.3h2.9v11.1h-2.9zM704.0 262.3h2.9v11.1h-2.9zM678.4 284.5h2.9v11.1h-2.9zM334.1 306.6h2.9v11.1h-2.9zM430.9 306.6h2.9v11.1h-2.9zM453.6 306.6h2.9v11.1h-2.9zM519.1 306.6h2.9v11.1h-2.9zM650.0 351.0h2.9v11.1h-2.9z"/><path fill="#450a5c" d="M635.7 84.8h8.6v11.1h-8.6zM780.8 84.8h2.9v11.1h-2.9zM635.7 95.9h2.9v11.1h-2.9zM115.1 140.2h2.9v11.1h-2.9zM245.9 140.2h2.9v11.1h-2.9zM302.8 140.2h2.9v11.1h-2.9zM786.5 140.2h2.9v11.1h-2.9zM157.7 173.5h2.9v11.1h-2.9zM220.3 173.5h2.9v11.1h-2.9zM598.7 173.5h2.9v11.1h-2.9zM453.6 240.1h2.9v11.1h-2.9zM595.9 240.1h2.9v11.1h-2.9zM624.3 240.1h2.9v11.1h-2.9zM154.9 251.2h5.7v11.1h-5.7zM163.4 251.2h5.7v11.1h-5.7zM328.4 251.2h14.3v11.1h-14.3zM348.4 251.2h5.7v11.1h-5.7zM462.2 251.2h2.9v11.1h-2.9zM473.6 251.2h2.9v11.1h-2.9zM519.1 251.2h2.9v11.1h-2.9zM95.1 262.3h2.9v11.1h-2.9zM103.7 262.3h5.7v11.1h-5.7zM120.7 262.3h2.9v11.1h-2.9zM152.0 262.3h5.7v11.1h-5.7zM177.7 262.3h2.9v11.1h-2.9zM189.0 262.3h2.9v11.1h-2.9zM206.1 262.3h5.7v11.1h-5.7zM217.5 262.3h2.9v11.1h-2.9zM570.3 262.3h2.9v11.1h-2.9zM604.4 262.3h5.7v11.1h-5.7zM638.6 262.3h2.9v11.1h-2.9zM647.1 262.3h2.9v11.1h-2.9zM661.3 262.3h8.6v11.1h-8.6zM672.7 262.3h14.3v11.1h-14.3zM689.8 262.3h5.7v11.1h-5.7zM718.2 262.3h2.9v11.1h-2.9zM590.2 284.5h2.9v11.1h-2.9zM595.9 284.5h8.6v11.1h-8.6zM627.2 284.5h5.7v11.1h-5.7zM775.1 295.6h2.9v11.1h-2.9zM780.8 295.6h2.9v11.1h-2.9zM57.0 306.6h6.9v11.1h-6.9zM80.9 306.6h5.7v11.1h-5.7zM100.8 306.6h2.9v11.1h-2.9zM109.4 306.6h2.9v11.1h-2.9zM180.5 306.6h2.9v11.1h-2.9zM217.5 306.6h2.9v11.1h-2.9zM234.6 306.6h2.9v11.1h-2.9zM240.2 306.6h5.7v11.1h-5.7zM257.3 306.6h2.9v11.1h-2.9zM263.0 306.6h8.6v11.1h-8.6zM300.0 306.6h2.9v11.1h-2.9zM308.5 306.6h5.7v11.1h-5.7zM317.1 306.6h5.7v11.1h-5.7zM337.0 306.6h2.9v11.1h-2.9zM356.9 306.6h2.9v11.1h-2.9zM362.6 306.6h5.7v11.1h-5.7zM374.0 306.6h2.9v11.1h-2.9zM382.5 306.6h2.9v11.1h-2.9zM393.9 306.6h2.9v11.1h-2.9zM402.4 306.6h8.6v11.1h-8.6zM442.3 306.6h5.7v11.1h-5.7zM459.3 306.6h2.9v11.1h-2.9zM476.4 306.6h8.6v11.1h-8.6zM502.0 306.6h2.9v11.1h-2.9zM524.8 306.6h2.9v11.1h-2.9zM530.5 306.6h2.9v11.1h-2.9zM590.2 306.6h2.9v11.1h-2.9zM715.4 306.6h2.9v11.1h-2.9zM729.6 306.6h2.9v11.1h-2.9zM311.4 339.9h2.9v11.1h-2.9zM826.4 351.0h6.9v11.1h-6.9z"/><path fill="#462c7a" d="M650.0 84.8h5.7v11.1h-5.7zM550.4 173.5h2.9v11.1h-2.9zM149.2 206.8h2.9v11.1h-2.9zM450.8 251.2h2.9v11.1h-2.9zM69.5 262.3h2.9v11.1h-2.9zM143.5 262.3h5.7v11.1h-5.7zM160.6 262.3h2.9v11.1h-2.9zM547.5 262.3h2.9v11.1h-2.9zM183.3 306.6h2.9v11.1h-2.9zM228.9 306.6h2.9v11.1h-2.9zM399.6 306.6h2.9v11.1h-2.9zM411.0 306.6h2.9v11.1h-2.9z"/><path fill="#38588c" d="M655.6 84.8h5.7v11.1h-5.7zM684.1 84.8h2.9v11.1h-2.9zM826.4 84.8h6.9v11.1h-6.9zM100.8 140.2h2.9v11.1h-2.9zM191.9 140.2h2.9v11.1h-2.9zM251.6 140.2h2.9v11.1h-2.9zM411.0 140.2h2.9v11.1h-2.9zM442.3 140.2h2.9v11.1h-2.9zM456.5 140.2h2.9v11.1h-2.9zM462.2 140.2h2.9v11.1h-2.9zM490.6 140.2h2.9v11.1h-2.9zM502.0 140.2h2.9v11.1h-2.9zM783.7 140.2h2.9v11.1h-2.9zM180.5 206.8h2.9v11.1h-2.9zM208.9 206.8h2.9v11.1h-2.9zM780.8 206.8h2.9v11.1h-2.9zM487.8 251.2h2.9v11.1h-2.9zM83.8 262.3h2.9v11.1h-2.9zM89.5 262.3h2.9v11.1h-2.9zM132.1 262.3h2.9v11.1h-2.9zM140.7 262.3h2.9v11.1h-2.9zM214.6 262.3h2.9v11.1h-2.9zM396.7 262.3h2.9v11.1h-2.9zM416.6 262.3h2.9v11.1h-2.9zM510.5 262.3h2.9v11.1h-2.9zM496.3 284.5h5.7v11.1h-5.7zM664.2 295.6h2.9v11.1h-2.9zM510.5 306.6h5.7v11.1h-5.7zM103.7 328.8h2.9v11.1h-2.9zM610.1 351.0h8.6v11.1h-8.6zM800.7 351.0h2.9v11.1h-2.9z"/><path fill="#3e4b88" d="M672.7 95.9h2.9v11.1h-2.9zM590.2 129.2h2.9v11.1h-2.9zM570.3 151.3h2.9v11.1h-2.9zM826.4 151.3h6.9v11.1h-6.9zM103.7 206.8h5.7v11.1h-5.7zM123.6 262.3h2.9v11.1h-2.9zM149.2 262.3h2.9v11.1h-2.9zM169.1 284.5h5.7v11.1h-5.7zM556.1 284.5h2.9v11.1h-2.9zM772.3 295.6h2.9v11.1h-2.9z"/><path fill="#9cd83c" d="M132.1 107.0h2.9v11.1h-2.9zM493.5 107.0h2.9v11.1h-2.9zM314.2 173.5h2.9v11.1h-2.9zM527.6 173.5h2.9v11.1h-2.9zM502.0 240.1h2.9v11.1h-2.9zM735.3 240.1h2.9v11.1h-2.9zM493.5 306.6h2.9v11.1h-2.9zM732.5 306.6h2.9v11.1h-2.9z"/><path fill="#52c468" d="M140.7 107.0h2.9v11.1h-2.9zM539.0 107.0h2.9v11.1h-2.9zM624.3 173.5h2.9v11.1h-2.9zM439.4 240.1h2.9v11.1h-2.9zM277.2 251.2h2.9v11.1h-2.9zM146.4 306.6h2.9v11.1h-2.9zM152.0 306.6h2.9v11.1h-2.9zM351.2 306.6h2.9v11.1h-2.9zM465.0 339.9h2.9v11.1h-2.9zM484.9 339.9h2.9v11.1h-2.9zM496.3 339.9h2.9v11.1h-2.9z"/><path fill="#6ccc59" d="M174.8 107.0h2.9v11.1h-2.9zM183.3 107.0h2.9v11.1h-2.9zM382.5 107.0h2.9v11.1h-2.9zM632.9 107.0h2.9v11.1h-2.9zM203.3 173.5h2.9v11.1h-2.9zM339.8 173.5h2.9v11.1h-2.9zM686.9 173.5h2.9v11.1h-2.9zM402.4 284.5h2.9v11.1h-2.9zM120.7 306.6h2.9v11.1h-2.9zM661.3 306.6h2.9v11.1h-2.9zM826.4 306.6h6.9v11.1h-6.9zM428.0 339.9h2.9v11.1h-2.9z"/><path fill="#8bd446" d="M208.9 107.0h2.9v11.1h-2.9zM573.1 240.1h2.9v11.1h-2.9zM618.7 306.6h2.9v11.1h-2.9zM780.8 306.6h2.9v11.1h-2.9z"/><path fill="#5fc860" d="M328.4 107.0h2.9v11.1h-2.9zM368.3 217.9h2.9v11.1h-2.9zM473.6 240.1h2.9v11.1h-2.9zM519.1 240.1h5.7v11.1h-5.7zM405.3 284.5h11.4v11.1h-11.4zM339.8 339.9h2.9v11.1h-2.9zM482.1 339.9h2.9v11.1h-2.9zM493.5 339.9h2.9v11.1h-2.9z"/><path fill="#7ad151" d="M385.4 107.0h2.9v11.1h-2.9zM519.1 107.0h2.9v11.1h-2.9zM200.4 173.5h2.9v11.1h-2.9zM354.1 173.5h2.9v11.1h-2.9zM635.7 173.5h5.7v11.1h-5.7zM735.3 173.5h2.9v11.1h-2.9zM484.9 240.1h2.9v11.1h-2.9zM726.8 240.1h2.9v11.1h-2.9zM399.6 284.5h2.9v11.1h-2.9zM553.2 306.6h2.9v11.1h-2.9zM778.0 306.6h2.9v11.1h-2.9zM803.6 306.6h5.7v11.1h-5.7zM453.6 339.9h2.9v11.1h-2.9zM558.9 339.9h2.9v11.1h-2.9z"/><path fill="#44bf70" d="M411.0 118.1h2.9v11.1h-2.9zM282.9 140.2h2.9v11.1h-2.9zM345.5 173.5h2.9v11.1h-2.9zM567.4 173.5h2.9v11.1h-2.9zM442.3 240.1h2.9v11.1h-2.9zM467.9 240.1h2.9v11.1h-2.9zM490.6 240.1h2.9v11.1h-2.9zM615.8 240.1h2.9v11.1h-2.9zM712.5 240.1h2.9v11.1h-2.9zM57.0 251.2h6.9v11.1h-6.9zM72.4 251.2h2.9v11.1h-2.9zM513.4 284.5h2.9v11.1h-2.9zM686.9 306.6h2.9v11.1h-2.9zM695.5 306.6h2.9v11.1h-2.9zM741.0 306.6h2.9v11.1h-2.9zM797.9 306.6h2.9v11.1h-2.9zM317.1 339.9h2.9v11.1h-2.9zM391.0 339.9h2.9v11.1h-2.9zM351.2 362.1h2.9v15.1h-2.9z"/><path fill="#414487" d="M587.4 129.2h2.9v11.1h-2.9zM106.5 140.2h2.9v11.1h-2.9zM197.6 140.2h2.9v11.1h-2.9zM806.4 140.2h2.9v11.1h-2.9zM581.7 151.3h5.7v11.1h-5.7zM186.2 206.8h5.7v11.1h-5.7zM248.8 206.8h2.9v11.1h-2.9zM462.2 240.1h5.7v11.1h-5.7zM285.8 251.2h2.9v11.1h-2.9zM479.2 251.2h2.9v11.1h-2.9zM72.4 262.3h5.7v11.1h-5.7zM180.5 262.3h8.6v11.1h-8.6zM496.3 262.3h5.7v11.1h-5.7zM590.2 262.3h5.7v11.1h-5.7zM527.6 284.5h2.9v11.1h-2.9zM638.6 295.6h2.9v11.1h-2.9zM749.5 295.6h5.7v11.1h-5.7zM769.5 295.6h2.9v11.1h-2.9zM789.4 295.6h2.9v11.1h-2.9zM126.4 306.6h2.9v11.1h-2.9zM667.0 306.6h2.9v11.1h-2.9zM823.5 351.0h2.9v11.1h-2.9z"/><path fill="#44347e" d="M413.8 140.2h5.7v11.1h-5.7zM152.0 206.8h2.9v11.1h-2.9zM817.8 251.2h5.7v11.1h-5.7zM78.1 262.3h5.7v11.1h-5.7zM86.6 262.3h2.9v11.1h-2.9zM115.1 262.3h2.9v11.1h-2.9zM69.5 295.6h2.9v11.1h-2.9zM226.0 306.6h2.9v11.1h-2.9zM328.4 306.6h2.9v11.1h-2.9z"/><path fill="#471b6d" d="M593.0 140.2h2.9v11.1h-2.9zM490.6 173.5h2.9v11.1h-2.9zM593.0 173.5h2.9v11.1h-2.9zM704.0 173.5h2.9v11.1h-2.9zM570.3 206.8h2.9v11.1h-2.9zM812.1 240.1h2.9v11.1h-2.9zM160.6 251.2h2.9v11.1h-2.9zM467.9 251.2h2.9v11.1h-2.9zM126.4 262.3h2.9v11.1h-2.9zM536.1 262.3h2.9v11.1h-2.9zM723.9 262.3h2.9v11.1h-2.9zM732.5 262.3h2.9v11.1h-2.9zM325.6 306.6h2.9v11.1h-2.9zM396.7 306.6h2.9v11.1h-2.9zM450.8 306.6h2.9v11.1h-2.9zM484.9 306.6h2.9v11.1h-2.9zM527.6 306.6h2.9v11.1h-2.9z"/><path fill="#fafafa" d="M57.0 173.5h100.8v11.1h-100.8zM57.0 240.1h325.6v11.1h-325.6zM57.0 339.9h189.0v11.1h-189.0z"/><path fill="#acdc31" d="M160.6 173.5h2.9v11.1h-2.9zM547.5 306.6h2.9v11.1h-2.9zM399.6 339.9h2.9v11.1h-2.9zM689.8 339.9h2.9v11.1h-2.9z"/><path fill="#ff9b16" d="M163.4 173.5h2.9v11.1h-2.9zM191.9 173.5h2.9v11.1h-2.9zM206.1 173.5h2.9v11.1h-2.9zM274.4 173.5h2.9v11.1h-2.9zM570.3 173.5h2.9v11.1h-2.9zM584.5 173.5h2.9v11.1h-2.9zM601.6 173.5h2.9v11.1h-2.9zM396.7 240.1h2.9v11.1h-2.9zM447.9 240.1h2.9v11.1h-2.9zM459.3 240.1h2.9v11.1h-2.9zM470.7 240.1h2.9v11.1h-2.9zM476.4 240.1h2.9v11.1h-2.9zM547.5 240.1h2.9v11.1h-2.9zM570.3 240.1h2.9v11.1h-2.9zM715.4 240.1h5.7v11.1h-5.7zM496.3 306.6h2.9v11.1h-2.9zM621.5 306.6h5.7v11.1h-5.7zM672.7 306.6h2.9v11.1h-2.9zM766.6 306.6h8.6v11.1h-8.6zM376.8 362.1h2.9v15.1h-2.9z"/><path fill="#f9dc28" d="M177.7 173.5h2.9v11.1h-2.9zM294.3 173.5h2.9v11.1h-2.9zM413.8 173.5h2.9v11.1h-2.9zM576.0 173.5h2.9v11.1h-2.9zM493.5 240.1h2.9v11.1h-2.9zM541.8 240.1h2.9v11.1h-2.9zM650.0 240.1h2.9v11.1h-2.9zM692.6 240.1h2.9v11.1h-2.9zM66.7 251.2h5.7v11.1h-5.7zM675.6 306.6h2.9v11.1h-2.9z"/><path fill="#ff9413" d="M186.2 173.5h2.9v11.1h-2.9zM263.0 173.5h2.9v11.1h-2.9zM328.4 173.5h5.7v11.1h-5.7zM348.4 173.5h5.7v11.1h-5.7zM359.7 173.5h2.9v11.1h-2.9zM775.1 173.5h5.7v11.1h-5.7zM382.5 240.1h2.9v11.1h-2.9zM487.8 240.1h2.9v11.1h-2.9zM536.1 306.6h5.7v11.1h-5.7zM638.6 306.6h5.7v11.1h-5.7zM792.2 306.6h5.7v11.1h-5.7z"/><path fill="#fcc322" d="M189.0 173.5h2.9v11.1h-2.9zM334.1 173.5h2.9v11.1h-2.9zM356.9 173.5h2.9v11.1h-2.9zM411.0 173.5h2.9v11.1h-2.9zM445.1 173.5h5.7v11.1h-5.7zM704.0 240.1h5.7v11.1h-5.7zM135.0 306.6h2.9v11.1h-2.9zM630.0 306.6h2.9v11.1h-2.9zM647.1 306.6h2.9v11.1h-2.9zM789.4 306.6h2.9v11.1h-2.9zM533.3 339.9h2.9v11.1h-2.9zM556.1 339.9h2.9v11.1h-2.9z"/><path fill="#feb61f" d="M288.6 173.5h5.7v11.1h-5.7zM419.5 173.5h2.9v11.1h-2.9zM578.8 173.5h2.9v11.1h-2.9zM766.6 173.5h8.6v11.1h-8.6zM428.0 240.1h5.7v11.1h-5.7zM709.7 240.1h2.9v11.1h-2.9zM533.3 306.6h2.9v11.1h-2.9zM658.5 306.6h2.9v11.1h-2.9zM692.6 306.6h2.9v11.1h-2.9z"/><path fill="#bddf26" d="M297.2 173.5h5.7v11.1h-5.7zM368.3 251.2h5.7v11.1h-5.7zM635.7 306.6h2.9v11.1h-2.9zM644.3 306.6h2.9v11.1h-2.9z"/><path fill="#ff8c10" d="M302.8 173.5h11.4v11.1h-11.4zM317.1 173.5h5.7v11.1h-5.7zM530.5 173.5h11.4v11.1h-11.4zM650.0 173.5h11.4v11.1h-11.4zM823.5 173.5h9.7v11.1h-9.7zM388.2 240.1h5.7v11.1h-5.7zM411.0 240.1h11.4v11.1h-11.4zM425.2 240.1h2.9v11.1h-2.9zM479.2 240.1h2.9v11.1h-2.9zM524.8 240.1h17.1v11.1h-17.1zM578.8 240.1h11.4v11.1h-11.4zM601.6 240.1h8.6v11.1h-8.6zM652.8 240.1h8.6v11.1h-8.6zM772.3 240.1h8.6v11.1h-8.6zM823.5 240.1h9.7v11.1h-9.7zM650.0 306.6h8.6v11.1h-8.6zM743.8 306.6h22.8v11.1h-22.8z"/><path fill="#fad025" d="M476.4 173.5h2.9v11.1h-2.9zM607.3 173.5h2.9v11.1h-2.9zM450.8 240.1h2.9v11.1h-2.9zM769.5 240.1h2.9v11.1h-2.9zM541.8 306.6h2.9v11.1h-2.9zM681.3 306.6h5.7v11.1h-5.7zM775.1 306.6h2.9v11.1h-2.9z"/><path fill="#ccde26" d="M479.2 173.5h2.9v11.1h-2.9zM251.6 306.6h2.9v11.1h-2.9zM678.4 306.6h2.9v11.1h-2.9z"/><path fill="#dbde27" d="M573.1 173.5h2.9v11.1h-2.9zM604.4 173.5h2.9v11.1h-2.9zM445.1 240.1h2.9v11.1h-2.9zM553.2 240.1h2.9v11.1h-2.9zM698.3 240.1h2.9v11.1h-2.9zM63.8 306.6h2.9v11.1h-2.9zM544.7 306.6h2.9v11.1h-2.9zM550.4 306.6h2.9v11.1h-2.9zM632.9 306.6h2.9v11.1h-2.9z"/><path fill="#ffa219" d="M632.9 173.5h2.9v11.1h-2.9zM632.9 240.1h2.9v11.1h-2.9zM638.6 240.1h2.9v11.1h-2.9zM117.9 306.6h2.9v11.1h-2.9zM615.8 306.6h2.9v11.1h-2.9zM735.3 306.6h5.7v11.1h-5.7zM547.5 339.9h2.9v11.1h-2.9z"/><path fill="#433c82" d="M100.8 206.8h2.9v11.1h-2.9zM308.5 251.2h2.9v11.1h-2.9zM812.1 251.2h2.9v11.1h-2.9zM137.8 262.3h2.9v11.1h-2.9zM826.4 284.5h6.9v11.1h-6.9zM331.3 306.6h2.9v11.1h-2.9zM712.5 306.6h2.9v11.1h-2.9z"/><path fill="#ffaa1c" d="M422.3 240.1h2.9v11.1h-2.9zM436.6 240.1h2.9v11.1h-2.9zM627.2 306.6h2.9v11.1h-2.9zM669.9 306.6h2.9v11.1h-2.9z"/><path fill="#482475" d="M447.9 251.2h2.9v11.1h-2.9zM544.7 262.3h2.9v11.1h-2.9zM686.9 262.3h2.9v11.1h-2.9zM576.0 284.5h2.9v11.1h-2.9zM189.0 295.6h2.9v11.1h-2.9zM177.7 306.6h2.9v11.1h-2.9zM214.6 306.6h2.9v11.1h-2.9zM709.7 306.6h2.9v11.1h-2.9zM721.1 306.6h2.9v11.1h-2.9zM75.2 328.8h2.9v11.1h-2.9zM149.2 328.8h2.9v11.1h-2.9z"/></g></g><text x="43.7" y="70.7" font-size="7.2" fill="#3a3a3a" stroke="#3a3a3a" stroke-width="0.3" textLength="12.6" lengthAdjust="spacingAndGlyphs">BTC</text><text x="43.2" y="81.8" font-size="7.2" fill="#3a3a3a" stroke="#3a3a3a" stroke-width="0.3" textLength="13.1" lengthAdjust="spacingAndGlyphs">ETH</text><text x="43.4" y="92.9" font-size="7.2" fill="#3a3a3a" stroke="#3a3a3a" stroke-width="0.3" textLength="12.9" lengthAdjust="spacingAndGlyphs">SOL</text><text x="42.9" y="104.0" font-size="7.2" fill="#3a3a3a" stroke="#3a3a3a" stroke-width="0.3" textLength="13.4" lengthAdjust="spacingAndGlyphs">XRP</text><text x="38.0" y="115.1" font-size="7.2" fill="#3a3a3a" stroke="#3a3a3a" stroke-width="0.3" textLength="18.3" lengthAdjust="spacingAndGlyphs">HYPE</text><text x="41.9" y="126.2" font-size="7.2" fill="#3a3a3a" stroke="#3a3a3a" stroke-width="0.3" textLength="14.4" lengthAdjust="spacingAndGlyphs">BNB</text><text x="37.0" y="137.3" font-size="7.2" fill="#3a3a3a" stroke="#3a3a3a" stroke-width="0.3" textLength="19.3" lengthAdjust="spacingAndGlyphs">DOGE</text><text x="41.9" y="148.4" font-size="7.2" fill="#3a3a3a" stroke="#3a3a3a" stroke-width="0.3" textLength="14.4" lengthAdjust="spacingAndGlyphs">BCH</text><text x="38.0" y="159.5" font-size="7.2" fill="#3a3a3a" stroke="#3a3a3a" stroke-width="0.3" textLength="18.3" lengthAdjust="spacingAndGlyphs">PAXG</text><text x="42.4" y="170.6" font-size="7.2" fill="#3a3a3a" stroke="#3a3a3a" stroke-width="0.3" textLength="13.9" lengthAdjust="spacingAndGlyphs">ADA</text><text x="42.4" y="181.7" font-size="7.2" fill="#3a3a3a" stroke="#3a3a3a" stroke-width="0.3" textLength="13.9" lengthAdjust="spacingAndGlyphs">XAU</text><text x="44.5" y="192.8" font-size="7.2" fill="#3a3a3a" stroke="#3a3a3a" stroke-width="0.3" textLength="11.8" lengthAdjust="spacingAndGlyphs">SUI</text><text x="34.7" y="203.9" font-size="7.2" fill="#3a3a3a" stroke="#3a3a3a" stroke-width="0.3" textLength="21.6" lengthAdjust="spacingAndGlyphs">ASTER</text><text x="38.5" y="215.0" font-size="7.2" fill="#3a3a3a" stroke="#3a3a3a" stroke-width="0.3" textLength="17.8" lengthAdjust="spacingAndGlyphs">AVAX</text><text x="40.1" y="226.0" font-size="7.2" fill="#3a3a3a" stroke="#3a3a3a" stroke-width="0.3" textLength="16.2" lengthAdjust="spacingAndGlyphs">LINK</text><text x="44.7" y="237.1" font-size="7.2" fill="#3a3a3a" stroke="#3a3a3a" stroke-width="0.3" textLength="11.6" lengthAdjust="spacingAndGlyphs">LTC</text><text x="42.1" y="248.2" font-size="7.2" fill="#3a3a3a" stroke="#3a3a3a" stroke-width="0.3" textLength="14.2" lengthAdjust="spacingAndGlyphs">XAG</text><text x="43.7" y="259.3" font-size="7.2" fill="#3a3a3a" stroke="#3a3a3a" stroke-width="0.3" textLength="12.6" lengthAdjust="spacingAndGlyphs">ZEC</text><text x="38.5" y="270.4" font-size="7.2" fill="#3a3a3a" stroke="#3a3a3a" stroke-width="0.3" textLength="17.8" lengthAdjust="spacingAndGlyphs">WLFI</text><text x="43.7" y="281.5" font-size="7.2" fill="#3a3a3a" stroke="#3a3a3a" stroke-width="0.3" textLength="12.6" lengthAdjust="spacingAndGlyphs">UNI</text><text x="43.4" y="292.6" font-size="7.2" fill="#3a3a3a" stroke="#3a3a3a" stroke-width="0.3" textLength="12.9" lengthAdjust="spacingAndGlyphs">TRX</text><text x="42.7" y="303.7" font-size="7.2" fill="#3a3a3a" stroke="#3a3a3a" stroke-width="0.3" textLength="13.6" lengthAdjust="spacingAndGlyphs">DOT</text><text x="32.1" y="314.8" font-size="7.2" fill="#3a3a3a" stroke="#3a3a3a" stroke-width="0.3" textLength="24.2" lengthAdjust="spacingAndGlyphs">PIPPIN</text><text x="38.5" y="325.9" font-size="7.2" fill="#3a3a3a" stroke="#3a3a3a" stroke-width="0.3" textLength="17.8" lengthAdjust="spacingAndGlyphs">AAVE</text><text x="42.7" y="337.0" font-size="7.2" fill="#3a3a3a" stroke="#3a3a3a" stroke-width="0.3" textLength="13.6" lengthAdjust="spacingAndGlyphs">ENA</text><text x="45.8" y="348.1" font-size="7.2" fill="#3a3a3a" stroke="#3a3a3a" stroke-width="0.3" textLength="10.5" lengthAdjust="spacingAndGlyphs">LIT</text><text x="42.1" y="359.2" font-size="7.2" fill="#3a3a3a" stroke="#3a3a3a" stroke-width="0.3" textLength="14.2" lengthAdjust="spacingAndGlyphs">TON</text><text x="37.3" y="370.3" font-size="7.2" fill="#3a3a3a" stroke="#3a3a3a" stroke-width="0.3" textLength="19.0" lengthAdjust="spacingAndGlyphs">PUMP</text><text transform="translate(62.4 383.8) scale(0.96 1)" font-size="7.2" fill="#3a3a3a" stroke="#3a3a3a" stroke-width="0.3" text-anchor="middle">30 Nov</text><text transform="translate(93.7 383.8) scale(0.96 1)" font-size="7.2" fill="#3a3a3a" stroke="#3a3a3a" stroke-width="0.3" text-anchor="middle">4 Dec</text><text transform="translate(125.0 383.8) scale(0.96 1)" font-size="7.2" fill="#3a3a3a" stroke="#3a3a3a" stroke-width="0.3" text-anchor="middle">8 Dec</text><text transform="translate(156.3 383.8) scale(0.96 1)" font-size="7.2" fill="#3a3a3a" stroke="#3a3a3a" stroke-width="0.3" text-anchor="middle">11 Dec</text><text transform="translate(187.6 383.8) scale(0.96 1)" font-size="7.2" fill="#3a3a3a" stroke="#3a3a3a" stroke-width="0.3" text-anchor="middle">15 Dec</text><text transform="translate(218.9 383.8) scale(0.96 1)" font-size="7.2" fill="#3a3a3a" stroke="#3a3a3a" stroke-width="0.3" text-anchor="middle">19 Dec</text><text transform="translate(250.2 383.8) scale(0.96 1)" font-size="7.2" fill="#3a3a3a" stroke="#3a3a3a" stroke-width="0.3" text-anchor="middle">22 Dec</text><text transform="translate(281.5 383.8) scale(0.96 1)" font-size="7.2" fill="#3a3a3a" stroke="#3a3a3a" stroke-width="0.3" text-anchor="middle">26 Dec</text><text transform="translate(312.8 383.8) scale(0.96 1)" font-size="7.2" fill="#3a3a3a" stroke="#3a3a3a" stroke-width="0.3" text-anchor="middle">30 Dec</text><text transform="translate(344.1 383.8) scale(0.96 1)" font-size="7.2" fill="#3a3a3a" stroke="#3a3a3a" stroke-width="0.3" text-anchor="middle">2 Jan</text><text transform="translate(375.4 383.8) scale(0.96 1)" font-size="7.2" fill="#3a3a3a" stroke="#3a3a3a" stroke-width="0.3" text-anchor="middle">6 Jan</text><text transform="translate(406.7 383.8) scale(0.96 1)" font-size="7.2" fill="#3a3a3a" stroke="#3a3a3a" stroke-width="0.3" text-anchor="middle">10 Jan</text><text transform="translate(438.0 383.8) scale(0.96 1)" font-size="7.2" fill="#3a3a3a" stroke="#3a3a3a" stroke-width="0.3" text-anchor="middle">13 Jan</text><text transform="translate(469.3 383.8) scale(0.96 1)" font-size="7.2" fill="#3a3a3a" stroke="#3a3a3a" stroke-width="0.3" text-anchor="middle">17 Jan</text><text transform="translate(500.6 383.8) scale(0.96 1)" font-size="7.2" fill="#3a3a3a" stroke="#3a3a3a" stroke-width="0.3" text-anchor="middle">21 Jan</text><text transform="translate(531.9 383.8) scale(0.96 1)" font-size="7.2" fill="#3a3a3a" stroke="#3a3a3a" stroke-width="0.3" text-anchor="middle">24 Jan</text><text transform="translate(563.2 383.8) scale(0.96 1)" font-size="7.2" fill="#3a3a3a" stroke="#3a3a3a" stroke-width="0.3" text-anchor="middle">28 Jan</text><text transform="translate(594.5 383.8) scale(0.96 1)" font-size="7.2" fill="#3a3a3a" stroke="#3a3a3a" stroke-width="0.3" text-anchor="middle">1 Feb</text><text transform="translate(625.8 383.8) scale(0.96 1)" font-size="7.2" fill="#3a3a3a" stroke="#3a3a3a" stroke-width="0.3" text-anchor="middle">4 Feb</text><text transform="translate(657.1 383.8) scale(0.96 1)" font-size="7.2" fill="#3a3a3a" stroke="#3a3a3a" stroke-width="0.3" text-anchor="middle">8 Feb</text><text transform="translate(688.4 383.8) scale(0.96 1)" font-size="7.2" fill="#3a3a3a" stroke="#3a3a3a" stroke-width="0.3" text-anchor="middle">12 Feb</text><text transform="translate(719.7 383.8) scale(0.96 1)" font-size="7.2" fill="#3a3a3a" stroke="#3a3a3a" stroke-width="0.3" text-anchor="middle">15 Feb</text><text transform="translate(751.0 383.8) scale(0.96 1)" font-size="7.2" fill="#3a3a3a" stroke="#3a3a3a" stroke-width="0.3" text-anchor="middle">19 Feb</text><text transform="translate(782.3 383.8) scale(0.96 1)" font-size="7.2" fill="#3a3a3a" stroke="#3a3a3a" stroke-width="0.3" text-anchor="middle">23 Feb</text><text transform="translate(813.6 383.8) scale(0.96 1)" font-size="7.2" fill="#3a3a3a" stroke="#3a3a3a" stroke-width="0.3" text-anchor="middle">26 Feb</text><path d="M733.2 332.8c1.6-0.5 3.2 0.3 5.5 0.2 2.3 0.1 3.9-0.7 5.5-0.2 1 0.6 0.6 2 0.1 3.2-0.6 1.6-0.9 3.2-1.3 5-0.3 1.8-0.6 3.4-1.2 5.4-0.6 0.7-1.5 0.9-3.1 0.9-1.6 0-2.5-0.2-3.1-0.9-0.6-2-0.9-3.6-1.2-5.4-0.4-1.8-0.7-3.4-1.3-5-0.5-1.2-0.9-2.6 0.1-3.2z" fill="#d9cdd0" opacity="0.4"/><text x="749" y="342.6" font-size="10.8" font-weight="700" fill="#ffffff" opacity="0.26" textLength="43.2" lengthAdjust="spacingAndGlyphs">coinglass</text><rect x="340" y="387.6" width="176.6" height="17.9" fill="url(#cb)"/><rect x="338.4" y="387.6" width="1.7" height="17.9" fill="#ead9ef"/><rect x="335" y="387.6" width="3.6" height="17.9" rx="1.7" fill="#470a5c"/><rect x="516.5" y="387.6" width="1.5" height="17.9" fill="#ffe9cf"/><rect x="517.9" y="387.6" width="3.5" height="17.9" rx="1.7" fill="#ff8a14"/><text x="316.4" y="417.0" font-size="7.1" fill="#666" stroke="#666" stroke-width="0.2" textLength="41.3" lengthAdjust="spacingAndGlyphs">-50.00% APR</text><text x="500.3" y="417.0" font-size="7.1" fill="#666" stroke="#666" stroke-width="0.2" textLength="38.9" lengthAdjust="spacingAndGlyphs">50.00% APR</text></svg></body></html>
